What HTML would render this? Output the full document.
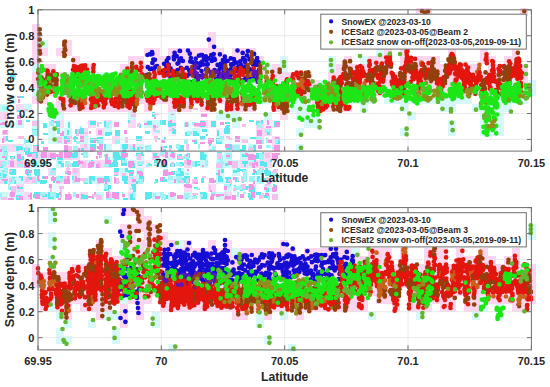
<!DOCTYPE html>
<html><head><meta charset="utf-8"><style>
html,body{margin:0;padding:0;background:#fff;}
svg{display:block;}
text{font-family:"Liberation Sans", sans-serif;font-weight:bold;font-size:11px;fill:#262626;}
</style></head><body>
<svg width="550" height="387" viewBox="0 0 550 387">
<defs><filter id="nb" x="0" y="0" width="1" height="1"><feGaussianBlur stdDeviation="0.6"/></filter><filter id="db" x="-2%" y="-5%" width="104%" height="110%"><feGaussianBlur stdDeviation="0.45"/></filter></defs>
<g filter="url(#nb)"><path d="M8 72h8v8h-8zM8 96h8v8h-8zM0 104h8v8h-8zM24 104h8v8h-8zM56 104h8v8h-8zM64 104h8v8h-8zM104 104h8v8h-8zM112 104h8v8h-8zM120 104h8v8h-8zM128 112h8v8h-8zM168 112h8v8h-8zM0 120h8v8h-8zM16 120h8v8h-8zM32 120h8v8h-8zM144 120h8v8h-8zM152 120h8v8h-8zM32 128h8v8h-8zM64 128h8v8h-8zM104 128h8v8h-8zM192 128h8v8h-8zM48 136h8v8h-8zM56 136h8v8h-8zM80 136h8v8h-8zM216 136h8v8h-8zM24 144h8v8h-8zM88 144h8v8h-8zM104 144h8v8h-8zM120 144h8v8h-8zM136 144h8v8h-8zM232 144h8v8h-8zM248 144h8v8h-8zM0 152h8v8h-8zM16 152h8v8h-8zM40 152h8v8h-8zM112 152h8v8h-8zM120 152h8v8h-8zM136 152h8v8h-8zM168 152h8v8h-8zM200 152h8v8h-8zM224 152h8v8h-8zM240 152h8v8h-8zM32 160h8v8h-8zM56 160h8v8h-8zM88 160h8v8h-8zM128 160h8v8h-8zM160 160h8v8h-8zM200 160h8v8h-8zM216 160h8v8h-8zM224 160h8v8h-8zM232 160h8v8h-8zM248 160h8v8h-8zM0 168h8v8h-8zM120 168h8v8h-8zM136 168h8v8h-8zM176 168h8v8h-8zM216 168h8v8h-8zM232 168h8v8h-8zM8 176h8v8h-8zM16 176h8v8h-8zM32 176h8v8h-8zM72 176h8v8h-8zM88 176h8v8h-8zM96 176h8v8h-8zM104 176h8v8h-8zM136 176h8v8h-8zM168 176h8v8h-8zM176 176h8v8h-8zM216 176h8v8h-8zM256 176h8v8h-8zM224 184h8v8h-8zM264 184h8v8h-8zM0 192h8v8h-8zM16 192h8v8h-8zM48 192h8v8h-8zM96 192h8v8h-8zM112 192h8v8h-8zM152 192h8v8h-8zM168 192h8v8h-8zM184 192h8v8h-8zM200 192h8v8h-8zM216 192h8v8h-8z" fill="#cdf8f9"/><path d="M16 104h8v8h-8zM0 112h8v8h-8zM56 120h8v8h-8zM88 120h8v8h-8zM104 120h8v8h-8zM128 120h8v8h-8zM168 120h8v8h-8zM200 120h8v8h-8zM256 120h8v8h-8zM48 128h8v8h-8zM80 128h8v8h-8zM96 128h8v8h-8zM256 128h8v8h-8zM264 128h8v8h-8zM64 136h8v8h-8zM112 136h8v8h-8zM256 136h8v8h-8zM272 136h8v8h-8zM0 144h8v8h-8zM8 144h8v8h-8zM16 144h8v8h-8zM80 144h8v8h-8zM128 144h8v8h-8zM272 144h8v8h-8zM32 152h8v8h-8zM48 152h8v8h-8zM64 152h8v8h-8zM72 152h8v8h-8zM152 152h8v8h-8zM264 152h8v8h-8zM0 160h8v8h-8zM8 160h8v8h-8zM16 160h8v8h-8zM24 160h8v8h-8zM80 160h8v8h-8zM96 160h8v8h-8zM104 160h8v8h-8zM184 160h8v8h-8zM240 160h8v8h-8zM256 160h8v8h-8zM264 160h8v8h-8zM48 168h8v8h-8zM72 168h8v8h-8zM0 176h8v8h-8zM24 176h8v8h-8zM56 176h8v8h-8zM128 176h8v8h-8zM16 184h8v8h-8zM184 184h8v8h-8zM208 184h8v8h-8zM248 184h8v8h-8zM24 192h8v8h-8zM40 192h8v8h-8zM80 192h8v8h-8zM128 192h8v8h-8zM224 192h8v8h-8z" fill="#f9d8f3"/><path d="M72 104h8v8h-8zM168 104h8v8h-8zM48 120h8v8h-8zM64 120h8v8h-8zM112 120h8v8h-8zM184 120h8v8h-8zM232 120h8v8h-8zM56 128h8v8h-8zM184 128h8v8h-8zM200 128h8v8h-8zM88 136h8v8h-8zM96 136h8v8h-8zM120 136h8v8h-8zM224 136h8v8h-8zM240 136h8v8h-8zM144 144h8v8h-8zM160 144h8v8h-8zM104 152h8v8h-8zM216 152h8v8h-8zM184 168h8v8h-8zM120 176h8v8h-8zM224 176h8v8h-8zM48 184h8v8h-8zM56 184h8v8h-8zM232 184h8v8h-8zM8 192h8v8h-8zM72 192h8v8h-8zM120 192h8v8h-8zM232 192h8v8h-8zM272 192h8v8h-8z" fill="#eafcfc"/><path d="M208 120h8v8h-8zM264 120h8v8h-8zM272 120h8v8h-8zM152 128h8v8h-8zM168 128h8v8h-8zM216 128h8v8h-8zM136 136h8v8h-8zM208 144h8v8h-8zM248 152h8v8h-8zM40 160h8v8h-8zM136 160h8v8h-8zM144 160h8v8h-8zM128 184h8v8h-8z" fill="#fcecf9"/><path d="M11 76h3v4h-3zM10 75h5v4h-5zM20 96h4v2h-4zM3 107h5v3h-5zM17 110h4v2h-4zM51 104h3v5h-3zM57 104h6v4h-6zM76 105h3v6h-3zM106 104h3v4h-3zM122 106h4v6h-4zM131 108h3v3h-3zM168 106h5v2h-5zM204 104h4v6h-4zM208 107h4v5h-4zM21 115h2v3h-2zM152 112h3v5h-3zM11 122h2v6h-2zM26 120h4v2h-4zM43 123h4v5h-4zM51 120h3v3h-3zM56 122h4v5h-4zM56 121h4v3h-4zM68 122h2v6h-2zM90 121h6v4h-6zM104 121h2v6h-2zM128 120h2v3h-2zM139 124h2v4h-2zM147 121h5v4h-5zM160 120h6v5h-6zM168 121h4v6h-4zM170 123h6v3h-6zM200 121h5v6h-5zM211 121h5v6h-5zM225 126h4v2h-4zM226 125h4v2h-4zM225 122h5v2h-5zM249 120h5v2h-5zM256 121h4v4h-4zM261 120h2v4h-2zM274 121h6v6h-6zM278 122h2v5h-2zM3 130h5v5h-5zM32 129h6v5h-6zM43 133h5v2h-5zM50 129h6v6h-6zM57 128h3v6h-3zM67 130h2v5h-2zM75 129h5v5h-5zM80 128h4v6h-4zM105 132h5v4h-5zM106 133h2v3h-2zM107 132h5v3h-5zM115 130h5v2h-5zM115 130h5v6h-5zM145 131h4v2h-4zM145 131h5v3h-5zM174 129h2v5h-2zM172 128h2v6h-2zM185 132h5v4h-5zM193 133h6v3h-6zM193 131h4v3h-4zM206 134h2v2h-2zM202 129h5v3h-5zM217 130h2v6h-2zM227 132h2v2h-2zM224 128h6v6h-6zM267 131h3v4h-3zM6 136h2v5h-2zM8 140h5v2h-5zM24 140h5v3h-5zM41 141h3v3h-3zM64 136h6v6h-6zM73 137h5v3h-5zM74 136h2v6h-2zM90 138h5v5h-5zM93 139h3v4h-3zM96 138h6v3h-6zM97 137h6v6h-6zM136 136h6v5h-6zM156 138h4v2h-4zM164 137h2v3h-2zM194 139h3v5h-3zM200 136h5v4h-5zM201 136h4v3h-4zM216 138h6v6h-6zM250 137h6v2h-6zM266 138h2v5h-2zM276 138h4v6h-4zM4 149h3v3h-3zM16 149h3v2h-3zM16 146h6v4h-6zM17 147h6v3h-6zM24 148h6v4h-6zM33 145h6v5h-6zM64 149h4v3h-4zM81 148h3v3h-3zM90 144h6v6h-6zM104 144h2v6h-2zM123 147h3v5h-3zM122 144h6v5h-6zM132 147h3v4h-3zM139 147h4v2h-4zM137 147h3v3h-3zM145 146h4v5h-4zM162 146h5v2h-5zM161 149h5v3h-5zM169 145h3v4h-3zM178 145h6v6h-6zM177 146h4v3h-4zM209 144h2v2h-2zM226 144h6v6h-6zM232 149h2v3h-2zM242 145h4v6h-4zM240 149h6v2h-6zM253 145h3v6h-3zM5 157h2v3h-2zM10 156h5v3h-5zM17 156h4v4h-4zM18 156h6v4h-6zM25 152h2v3h-2zM27 152h5v5h-5zM36 152h2v6h-2zM34 153h4v5h-4zM32 152h5v2h-5zM51 153h5v6h-5zM57 157h6v3h-6zM58 154h3v4h-3zM68 153h3v5h-3zM72 153h5v5h-5zM74 152h4v5h-4zM81 153h5v2h-5zM99 153h2v5h-2zM113 153h5v3h-5zM115 154h3v3h-3zM114 155h5v5h-5zM113 152h6v6h-6zM116 154h4v6h-4zM120 156h5v4h-5zM121 152h5v6h-5zM124 153h2v3h-2zM137 153h6v3h-6zM136 153h4v3h-4zM141 154h3v2h-3zM141 152h2v2h-2zM153 153h4v5h-4zM171 152h3v5h-3zM177 156h6v4h-6zM178 154h4v3h-4zM187 153h3v5h-3zM186 156h3v4h-3zM200 155h4v5h-4zM201 155h6v2h-6zM200 152h4v6h-4zM202 154h4v6h-4zM217 152h5v2h-5zM217 154h4v6h-4zM217 152h2v2h-2zM227 156h5v2h-5zM227 153h3v4h-3zM242 155h6v2h-6zM242 154h2v2h-2zM250 157h6v3h-6zM262 152h2v3h-2zM261 156h3v4h-3zM256 153h5v6h-5zM267 155h3v3h-3zM0 165h3v3h-3zM17 160h4v6h-4zM32 161h5v5h-5zM32 160h4v5h-4zM43 161h5v3h-5zM42 164h6v2h-6zM40 164h3v3h-3zM61 163h3v4h-3zM58 161h4v3h-4zM73 161h6v6h-6zM72 163h3v4h-3zM89 161h5v5h-5zM91 160h2v6h-2zM97 163h3v5h-3zM105 161h2v5h-2zM106 163h6v4h-6zM113 160h4v5h-4zM112 162h6v5h-6zM114 160h3v6h-3zM121 160h6v6h-6zM129 163h6v5h-6zM138 161h4v5h-4zM148 163h2v2h-2zM146 164h6v2h-6zM154 160h4v2h-4zM154 160h4v6h-4zM161 161h6v6h-6zM170 163h5v4h-5zM179 163h5v3h-5zM178 162h2v4h-2zM177 162h6v3h-6zM185 161h6v3h-6zM197 161h3v5h-3zM193 161h4v6h-4zM225 163h3v3h-3zM244 162h2v5h-2zM242 161h6v3h-6zM254 160h2v5h-2zM252 163h3v5h-3zM260 161h4v5h-4zM264 162h3v5h-3zM270 160h2v2h-2zM3 170h5v2h-5zM1 174h6v2h-6zM0 173h4v3h-4zM10 170h6v5h-6zM14 169h2v4h-2zM9 169h6v5h-6zM26 169h3v6h-3zM27 170h3v6h-3zM34 169h6v6h-6zM35 172h5v4h-5zM52 168h4v5h-4zM65 171h2v3h-2zM115 169h3v5h-3zM117 168h2v6h-2zM114 170h4v6h-4zM114 168h5v6h-5zM125 168h3v4h-3zM130 171h3v3h-3zM129 170h4v6h-4zM128 170h6v3h-6zM166 169h2v6h-2zM171 171h4v4h-4zM176 173h6v3h-6zM178 168h3v6h-3zM181 171h2v3h-2zM178 172h6v4h-6zM221 169h3v4h-3zM222 169h2v3h-2zM216 173h4v2h-4zM237 168h3v4h-3zM233 170h4v3h-4zM243 171h4v4h-4zM240 169h6v2h-6zM242 170h3v2h-3zM252 173h3v2h-3zM253 169h2v5h-2zM256 171h2v4h-2zM264 170h6v4h-6zM265 171h6v5h-6zM265 168h3v6h-3zM274 174h3v2h-3zM0 176h6v2h-6zM4 179h3v5h-3zM14 180h2v4h-2zM12 177h3v3h-3zM21 177h2v4h-2zM19 176h4v2h-4zM27 177h5v3h-5zM38 179h2v3h-2zM40 180h6v4h-6zM43 177h3v2h-3zM42 180h5v3h-5zM42 176h4v3h-4zM53 181h2v2h-2zM57 176h6v5h-6zM64 180h2v4h-2zM72 176h2v4h-2zM84 180h4v4h-4zM89 178h3v6h-3zM89 176h6v5h-6zM97 178h5v5h-5zM104 179h6v3h-6zM104 176h5v5h-5zM107 176h2v6h-2zM124 182h4v2h-4zM126 182h2v2h-2zM122 176h6v5h-6zM124 178h3v4h-3zM139 176h5v6h-5zM136 181h3v3h-3zM155 179h3v4h-3zM161 179h6v3h-6zM160 177h5v5h-5zM176 178h3v3h-3zM178 178h6v4h-6zM178 178h3v5h-3zM184 176h6v5h-6zM184 177h6v6h-6zM194 177h3v5h-3zM201 178h3v5h-3zM209 181h3v2h-3zM221 178h2v4h-2zM218 176h4v6h-4zM226 177h5v6h-5zM225 177h4v2h-4zM235 177h4v5h-4zM242 181h2v2h-2zM257 176h3v6h-3zM264 178h4v4h-4zM276 176h4v2h-4zM8 187h6v3h-6zM8 187h6v3h-6zM17 187h6v2h-6zM104 185h5v6h-5zM106 185h5v4h-5zM131 184h2v2h-2zM133 188h3v4h-3zM132 184h4v5h-4zM194 187h4v2h-4zM227 184h4v2h-4zM234 185h2v3h-2zM242 186h6v4h-6zM240 185h3v6h-3zM248 186h5v2h-5zM249 187h6v5h-6zM249 184h2v3h-2zM266 188h3v4h-3zM273 184h2v6h-2zM273 186h4v5h-4zM21 198h2v2h-2zM16 195h5v5h-5zM34 192h6v5h-6zM33 194h3v4h-3zM42 194h5v3h-5zM48 194h6v5h-6zM48 192h4v4h-4zM56 193h3v5h-3zM65 197h6v2h-6zM81 194h3v5h-3zM82 195h6v4h-6zM92 194h2v5h-2zM96 197h2v2h-2zM113 192h6v4h-6zM123 198h5v2h-5zM130 194h5v6h-5zM130 195h5v2h-5zM132 193h3v6h-3zM145 196h6v3h-6zM145 192h6v5h-6zM149 192h3v6h-3zM145 194h2v6h-2zM166 195h2v4h-2zM185 195h3v4h-3zM193 195h3v4h-3zM192 197h5v2h-5zM200 192h6v5h-6zM201 196h6v3h-6zM205 193h2v3h-2zM248 193h3v5h-3zM249 195h4v5h-4zM256 192h5v3h-5zM264 195h5v3h-5z" fill="#5ae8ef"/><path d="M14 76h2v2h-2zM10 100h4v4h-4zM2 106h4v4h-4zM48 107h3v3h-3zM57 108h6v2h-6zM67 105h3v4h-3zM74 105h6v6h-6zM20 113h2v5h-2zM265 113h4v5h-4zM264 115h5v2h-5zM266 113h4v3h-4zM10 122h4v6h-4zM18 120h4v5h-4zM18 121h2v3h-2zM49 121h5v5h-5zM80 126h2v2h-2zM99 122h3v2h-3zM109 121h2v3h-2zM106 122h3v6h-3zM184 123h5v4h-5zM192 122h5v3h-5zM257 123h5v5h-5zM32 130h6v6h-6zM98 133h3v2h-3zM156 130h4v3h-4zM187 131h5v4h-5zM267 129h4v3h-4zM265 129h2v4h-2zM24 138h2v6h-2zM76 141h4v3h-4zM98 139h5v5h-5zM115 139h5v5h-5zM184 139h4v5h-4zM217 139h5v3h-5zM220 136h4v4h-4zM244 139h2v3h-2zM256 137h5v5h-5zM259 139h5v5h-5zM266 139h4v4h-4zM275 137h3v6h-3zM1 146h6v5h-6zM13 145h2v2h-2zM73 146h5v6h-5zM130 146h3v5h-3zM147 145h4v5h-4zM145 147h6v5h-6zM176 144h4v5h-4zM198 144h2v5h-2zM209 149h5v2h-5zM212 146h4v5h-4zM234 145h6v6h-6zM249 146h3v4h-3zM266 145h5v3h-5zM272 147h2v2h-2zM3 152h5v5h-5zM66 153h4v5h-4zM83 152h5v6h-5zM83 154h2v4h-2zM105 157h5v3h-5zM104 154h2v3h-2zM155 156h5v3h-5zM160 152h5v4h-5zM177 154h2v2h-2zM184 154h5v5h-5zM217 155h6v5h-6zM226 153h6v6h-6zM259 153h3v3h-3zM259 154h5v6h-5zM265 154h2v3h-2zM5 162h2v3h-2zM3 161h3v6h-3zM0 161h6v4h-6zM8 160h6v4h-6zM17 161h3v5h-3zM17 161h2v4h-2zM17 162h6v5h-6zM26 161h4v4h-4zM40 162h4v5h-4zM65 163h6v4h-6zM70 163h2v4h-2zM65 161h5v6h-5zM97 164h3v3h-3zM104 164h5v3h-5zM122 160h5v3h-5zM137 161h6v4h-6zM140 161h4v3h-4zM146 164h3v3h-3zM154 163h3v2h-3zM162 161h2v5h-2zM176 162h4v4h-4zM179 164h3v3h-3zM187 161h3v5h-3zM192 161h3v6h-3zM197 162h3v2h-3zM205 160h3v6h-3zM218 161h6v4h-6zM221 165h2v3h-2zM220 160h3v3h-3zM1 170h2v6h-2zM4 168h4v5h-4zM29 170h2v6h-2zM50 170h6v5h-6zM74 173h2v2h-2zM140 170h2v4h-2zM164 169h3v4h-3zM168 174h3v2h-3zM176 171h4v3h-4zM185 173h4v2h-4zM243 170h4v6h-4zM257 170h6v5h-6zM257 169h3v6h-3zM259 168h4v6h-4zM272 172h6v3h-6zM0 176h3v4h-3zM10 178h5v4h-5zM9 179h4v5h-4zM35 179h2v5h-2zM56 176h4v6h-4zM56 179h4v2h-4zM59 178h5v4h-5zM76 178h4v2h-4zM83 178h5v5h-5zM83 178h4v4h-4zM91 180h2v2h-2zM99 177h4v6h-4zM114 178h3v6h-3zM132 179h2v4h-2zM130 177h4v2h-4zM138 179h5v5h-5zM154 181h2v3h-2zM168 176h5v4h-5zM176 176h6v5h-6zM186 179h3v5h-3zM194 181h4v3h-4zM210 180h2v2h-2zM241 176h6v6h-6zM243 177h4v5h-4zM249 176h6v6h-6zM259 178h2v6h-2zM266 177h6v6h-6zM273 180h5v2h-5zM8 184h2v6h-2zM18 190h2v2h-2zM104 184h4v5h-4zM107 190h3v2h-3zM130 188h2v2h-2zM196 188h4v2h-4zM224 184h6v4h-6zM234 186h6v4h-6zM240 188h4v2h-4zM240 185h5v4h-5zM0 193h2v5h-2zM11 192h2v6h-2zM10 192h6v2h-6zM19 197h2v3h-2zM40 192h5v4h-5zM50 192h6v5h-6zM51 192h3v4h-3zM68 194h4v2h-4zM73 192h3v5h-3zM96 194h3v3h-3zM106 194h6v6h-6zM122 192h2v4h-2zM133 192h2v6h-2zM153 193h3v4h-3zM164 194h2v6h-2zM160 192h4v6h-4zM161 195h2v5h-2zM161 196h2v2h-2zM181 195h3v4h-3zM184 193h6v5h-6zM185 193h5v2h-5zM192 196h5v3h-5zM200 194h3v3h-3zM213 192h3v2h-3zM211 192h5v4h-5zM225 194h2v6h-2zM237 192h2v5h-2zM243 192h3v2h-3zM250 192h6v3h-6zM266 192h2v4h-2zM268 195h2v5h-2zM275 196h3v3h-3z" fill="#a0f2f5"/><path d="M9 100h5v3h-5zM10 97h2v2h-2zM24 109h4v2h-4zM65 105h2v5h-2zM113 106h4v6h-4zM193 108h5v2h-5zM4 114h2v5h-2zM131 112h5v5h-5zM153 113h6v2h-6zM5 120h3v6h-3zM32 121h5v5h-5zM97 122h2v5h-2zM137 123h3v4h-3zM137 125h3v2h-3zM144 123h4v2h-4zM154 126h4v2h-4zM194 124h6v3h-6zM200 122h6v4h-6zM242 124h4v3h-4zM2 131h6v4h-6zM50 130h5v2h-5zM77 129h2v5h-2zM76 134h3v2h-3zM84 132h4v2h-4zM153 128h3v4h-3zM169 129h4v2h-4zM3 136h3v6h-3zM18 136h6v3h-6zM48 137h2v3h-2zM57 137h5v6h-5zM67 136h5v2h-5zM125 137h3v6h-3zM155 136h2v6h-2zM154 136h4v4h-4zM226 136h4v2h-4zM228 138h4v2h-4zM242 139h6v4h-6zM25 147h3v4h-3zM33 146h6v6h-6zM67 146h5v4h-5zM84 144h3v4h-3zM139 146h2v3h-2zM162 146h2v5h-2zM169 148h2v3h-2zM187 146h2v3h-2zM186 144h3v6h-3zM232 145h2v6h-2zM248 148h6v2h-6zM11 157h3v3h-3zM18 156h4v3h-4zM33 153h3v5h-3zM32 155h4v5h-4zM42 152h4v6h-4zM40 154h3v3h-3zM49 153h6v5h-6zM48 153h5v5h-5zM100 153h2v5h-2zM137 154h4v6h-4zM162 154h4v3h-4zM178 156h6v3h-6zM186 154h2v3h-2zM217 153h4v6h-4zM249 158h4v2h-4zM265 153h5v5h-5zM0 161h2v6h-2zM10 160h3v2h-3zM18 161h5v3h-5zM26 161h2v2h-2zM67 164h2v4h-2zM82 162h4v6h-4zM89 161h6v3h-6zM96 164h5v3h-5zM97 162h4v3h-4zM171 162h3v5h-3zM184 160h2v4h-2zM185 160h3v4h-3zM216 163h6v5h-6zM232 162h6v6h-6zM232 161h6v6h-6zM249 162h6v4h-6zM256 163h2v4h-2zM9 170h3v2h-3zM51 171h2v2h-2zM66 168h4v5h-4zM73 168h5v5h-5zM114 172h5v3h-5zM122 173h4v3h-4zM262 168h2v2h-2zM273 169h5v2h-5zM272 171h5v2h-5zM9 178h3v4h-3zM25 178h4v4h-4zM32 177h4v6h-4zM64 176h6v6h-6zM73 177h2v6h-2zM80 178h6v3h-6zM100 178h4v5h-4zM97 181h3v3h-3zM114 178h5v6h-5zM117 182h2v2h-2zM115 181h5v2h-5zM179 180h5v3h-5zM187 178h2v6h-2zM192 179h6v5h-6zM202 176h4v2h-4zM230 180h2v4h-2zM228 179h3v3h-3zM237 177h2v4h-2zM241 179h3v3h-3zM266 178h5v3h-5zM11 186h5v6h-5zM50 187h2v5h-2zM60 186h2v6h-2zM59 186h5v2h-5zM59 187h5v2h-5zM209 185h2v5h-2zM233 188h3v3h-3zM241 184h5v5h-5zM265 184h5v2h-5zM1 197h6v3h-6zM9 193h6v4h-6zM18 196h3v2h-3zM30 196h2v4h-2zM60 192h2v6h-2zM68 192h2v3h-2zM92 194h4v3h-4zM97 197h3v3h-3zM96 195h6v5h-6zM106 195h5v3h-5zM109 192h2v4h-2zM192 193h6v2h-6zM224 197h6v3h-6zM262 193h2v5h-2zM259 195h3v4h-3zM272 194h6v6h-6z" fill="#f6c0ee"/><path d="M17 96h3v2h-3zM18 99h2v4h-2zM56 109h6v3h-6zM80 109h5v3h-5zM130 105h2v3h-2zM130 108h6v3h-6zM172 106h2v4h-2zM17 115h4v4h-4zM154 117h2v2h-2zM171 113h3v2h-3zM201 113h6v4h-6zM2 122h4v2h-4zM0 123h5v2h-5zM18 120h4v5h-4zM54 121h2v2h-2zM114 122h5v5h-5zM144 123h4v2h-4zM153 125h3v3h-3zM170 120h2v3h-2zM185 122h3v5h-3zM194 123h6v3h-6zM200 122h6v4h-6zM220 122h4v3h-4zM234 122h6v2h-6zM266 126h5v2h-5zM267 120h2v5h-2zM275 122h4v5h-4zM3 130h4v4h-4zM62 131h2v2h-2zM60 133h4v3h-4zM89 131h2v3h-2zM98 130h4v5h-4zM124 130h3v4h-3zM257 130h5v6h-5zM2 138h2v5h-2zM64 139h3v5h-3zM80 136h4v6h-4zM94 138h2v5h-2zM161 140h4v3h-4zM192 140h4v2h-4zM200 142h5v2h-5zM209 138h5v4h-5zM208 138h4v6h-4zM235 136h5v6h-5zM256 140h6v4h-6zM268 139h4v4h-4zM275 137h4v2h-4zM0 149h2v3h-2zM43 147h5v4h-5zM64 145h4v6h-4zM78 148h2v4h-2zM90 147h3v5h-3zM93 149h2v2h-2zM97 146h3v3h-3zM99 144h4v6h-4zM122 150h5v2h-5zM133 144h2v4h-2zM225 144h5v4h-5zM258 145h4v4h-4zM274 145h6v6h-6zM2 156h3v2h-3zM17 154h4v5h-4zM28 154h3v3h-3zM41 154h5v4h-5zM41 152h6v6h-6zM50 153h5v5h-5zM59 152h4v6h-4zM56 154h5v3h-5zM64 152h6v6h-6zM64 154h6v4h-6zM69 152h3v5h-3zM97 152h5v3h-5zM96 156h2v3h-2zM105 154h3v6h-3zM122 153h6v4h-6zM121 156h5v2h-5zM153 156h6v2h-6zM165 152h3v6h-3zM172 153h3v5h-3zM170 154h3v3h-3zM186 154h2v2h-2zM226 155h4v2h-4zM245 153h3v3h-3zM251 155h5v5h-5zM248 154h6v6h-6zM272 153h6v6h-6zM277 153h3v2h-3zM10 161h4v6h-4zM24 162h4v6h-4zM28 162h2v6h-2zM78 160h2v5h-2zM80 161h3v3h-3zM89 162h5v5h-5zM88 163h4v5h-4zM96 164h3v4h-3zM106 160h5v2h-5zM105 160h6v4h-6zM130 162h2v6h-2zM128 161h6v6h-6zM162 160h5v5h-5zM187 160h4v5h-4zM202 165h2v2h-2zM228 161h4v4h-4zM252 163h3v5h-3zM256 162h2v4h-2zM29 170h3v3h-3zM25 170h3v4h-3zM67 171h4v4h-4zM130 172h4v2h-4zM137 171h5v3h-5zM139 172h4v4h-4zM163 172h5v4h-5zM163 170h5v5h-5zM168 172h6v3h-6zM187 169h2v2h-2zM218 170h2v6h-2zM254 170h2v3h-2zM2 179h6v2h-6zM37 176h2v5h-2zM43 176h5v3h-5zM51 177h5v4h-5zM52 176h2v5h-2zM56 181h4v2h-4zM64 179h4v5h-4zM66 179h4v5h-4zM67 176h2v5h-2zM75 176h2v6h-2zM77 178h3v4h-3zM98 178h6v5h-6zM105 179h2v5h-2zM114 177h2v6h-2zM132 179h4v3h-4zM160 177h3v4h-3zM174 179h2v4h-2zM194 182h4v2h-4zM212 181h3v2h-3zM209 178h5v5h-5zM210 180h6v3h-6zM233 177h3v3h-3zM253 181h2v3h-2zM267 182h4v2h-4zM17 186h2v2h-2zM49 184h3v4h-3zM186 185h6v3h-6zM185 184h6v3h-6zM184 184h2v3h-2zM210 190h2v2h-2zM224 186h3v2h-3zM224 186h3v4h-3zM249 185h5v5h-5zM250 184h3v4h-3zM264 187h3v3h-3zM275 185h2v6h-2zM272 187h4v5h-4zM8 198h6v2h-6zM10 192h5v5h-5zM19 196h4v4h-4zM28 195h3v2h-3zM30 193h2v6h-2zM35 194h5v5h-5zM58 198h3v2h-3zM59 192h2v3h-2zM69 196h3v3h-3zM65 194h6v6h-6zM76 194h3v4h-3zM88 196h5v2h-5zM94 192h2v2h-2zM106 192h3v6h-3zM114 193h5v6h-5zM112 192h3v6h-3zM122 194h3v3h-3zM155 196h5v3h-5zM174 193h2v3h-2zM170 192h4v5h-4zM177 195h6v4h-6zM210 196h4v4h-4zM211 194h4v2h-4zM220 194h4v2h-4zM216 194h4v3h-4zM225 196h6v3h-6zM232 195h4v5h-4zM240 194h4v4h-4zM251 192h4v6h-4zM265 193h4v3h-4z" fill="#f096e5"/></g>
<path d="M32 24h8v8h-8zM32 32h8v8h-8zM32 40h8v8h-8zM32 48h8v8h-8zM40 48h8v8h-8zM32 56h8v8h-8zM40 72h8v8h-8zM32 72h8v8h-8zM40 96h8v8h-8zM32 96h8v8h-8zM40 88h8v8h-8zM40 80h8v8h-8zM32 80h8v8h-8zM56 80h8v8h-8zM48 72h8v8h-8zM56 72h8v8h-8zM48 80h8v8h-8zM48 88h8v8h-8zM48 64h8v8h-8zM40 64h8v8h-8zM64 40h8v8h-8zM64 48h8v8h-8zM56 48h8v8h-8zM72 56h8v8h-8zM80 64h8v8h-8zM72 64h8v8h-8zM80 72h8v8h-8zM72 72h8v8h-8zM88 64h8v8h-8zM56 96h8v8h-8zM56 104h8v8h-8zM64 96h8v8h-8zM64 104h8v8h-8zM72 96h8v8h-8zM80 88h8v8h-8zM80 96h8v8h-8zM72 104h8v8h-8zM80 104h8v8h-8zM88 96h8v8h-8zM88 104h8v8h-8zM96 96h8v8h-8zM96 104h8v8h-8zM104 96h8v8h-8zM104 104h8v8h-8zM112 104h8v8h-8zM112 96h8v8h-8zM120 96h8v8h-8zM120 104h8v8h-8zM128 96h8v8h-8zM120 64h8v8h-8zM128 72h8v8h-8zM128 56h8v8h-8zM128 64h8v8h-8zM136 64h8v8h-8zM136 72h8v8h-8zM144 72h8v8h-8zM152 72h8v8h-8zM152 64h8v8h-8zM160 64h8v8h-8zM160 72h8v8h-8zM168 64h8v8h-8zM168 72h8v8h-8zM176 72h8v8h-8zM176 64h8v8h-8zM184 72h8v8h-8zM192 64h8v8h-8zM184 64h8v8h-8zM192 72h8v8h-8zM200 72h8v8h-8zM200 64h8v8h-8zM208 64h8v8h-8zM208 72h8v8h-8zM216 64h8v8h-8zM216 72h8v8h-8zM224 64h8v8h-8zM224 72h8v8h-8zM232 64h8v8h-8zM232 72h8v8h-8zM240 64h8v8h-8zM240 72h8v8h-8zM240 80h8v8h-8zM248 72h8v8h-8zM248 64h8v8h-8zM256 72h8v8h-8zM256 80h8v8h-8zM256 64h8v8h-8zM136 56h8v8h-8zM248 48h8v8h-8zM248 56h8v8h-8zM128 88h8v8h-8zM128 104h8v8h-8zM136 96h8v8h-8zM144 96h8v8h-8zM144 104h8v8h-8zM152 96h8v8h-8zM160 88h8v8h-8zM160 96h8v8h-8zM168 96h8v8h-8zM168 104h8v8h-8zM176 96h8v8h-8zM176 104h8v8h-8zM184 96h8v8h-8zM184 104h8v8h-8zM192 96h8v8h-8zM200 96h8v8h-8zM200 104h8v8h-8zM208 96h8v8h-8zM208 104h8v8h-8zM216 96h8v8h-8zM224 96h8v8h-8zM224 104h8v8h-8zM232 96h8v8h-8zM232 104h8v8h-8zM240 96h8v8h-8zM240 104h8v8h-8zM248 96h8v8h-8zM248 104h8v8h-8zM272 96h8v8h-8zM272 104h8v8h-8zM280 96h8v8h-8zM280 104h8v8h-8zM280 112h8v8h-8zM304 80h8v8h-8zM296 80h8v8h-8zM296 88h8v8h-8zM304 72h8v8h-8zM304 88h8v8h-8zM296 72h8v8h-8zM312 80h8v8h-8zM312 96h8v8h-8zM312 104h8v8h-8zM320 88h8v8h-8zM320 96h8v8h-8zM320 104h8v8h-8zM328 72h8v8h-8zM328 80h8v8h-8zM328 96h8v8h-8zM328 104h8v8h-8zM336 72h8v8h-8zM336 80h8v8h-8zM336 88h8v8h-8zM336 96h8v8h-8zM336 104h8v8h-8zM264 72h8v8h-8zM264 80h8v8h-8zM264 88h8v8h-8zM272 64h8v8h-8zM272 72h8v8h-8zM272 80h8v8h-8zM280 72h8v8h-8zM288 72h8v8h-8zM288 80h8v8h-8zM336 64h8v8h-8zM344 64h8v8h-8zM344 56h8v8h-8zM344 72h8v8h-8zM344 80h8v8h-8zM352 88h8v8h-8zM352 80h8v8h-8zM352 72h8v8h-8zM352 64h8v8h-8zM360 72h8v8h-8zM360 64h8v8h-8zM360 80h8v8h-8zM368 72h8v8h-8zM368 64h8v8h-8zM368 56h8v8h-8zM368 80h8v8h-8zM376 56h8v8h-8zM376 64h8v8h-8zM376 72h8v8h-8zM376 80h8v8h-8zM376 88h8v8h-8zM384 72h8v8h-8zM384 64h8v8h-8zM384 56h8v8h-8zM384 48h8v8h-8zM384 80h8v8h-8zM392 80h8v8h-8zM392 72h8v8h-8zM392 88h8v8h-8zM400 72h8v8h-8zM400 64h8v8h-8zM400 80h8v8h-8zM400 88h8v8h-8zM400 56h8v8h-8zM400 48h8v8h-8zM408 64h8v8h-8zM408 56h8v8h-8zM408 72h8v8h-8zM416 64h8v8h-8zM416 72h8v8h-8zM416 88h8v8h-8zM416 80h8v8h-8zM416 56h8v8h-8zM424 64h8v8h-8zM424 72h8v8h-8zM424 56h8v8h-8zM424 80h8v8h-8zM432 72h8v8h-8zM432 64h8v8h-8zM432 56h8v8h-8zM432 80h8v8h-8zM440 88h8v8h-8zM440 80h8v8h-8zM440 72h8v8h-8zM440 64h8v8h-8zM448 64h8v8h-8zM448 56h8v8h-8zM448 72h8v8h-8zM448 48h8v8h-8zM448 80h8v8h-8zM456 72h8v8h-8zM456 64h8v8h-8zM456 80h8v8h-8zM464 80h8v8h-8zM464 88h8v8h-8zM464 72h8v8h-8zM464 64h8v8h-8zM472 80h8v8h-8zM472 72h8v8h-8zM472 88h8v8h-8zM472 64h8v8h-8zM480 72h8v8h-8zM480 80h8v8h-8zM480 88h8v8h-8zM480 56h8v8h-8zM480 48h8v8h-8zM488 80h8v8h-8zM488 72h8v8h-8zM488 88h8v8h-8zM488 64h8v8h-8zM488 56h8v8h-8zM496 88h8v8h-8zM496 80h8v8h-8zM496 64h8v8h-8zM496 72h8v8h-8zM504 72h8v8h-8zM504 64h8v8h-8zM504 80h8v8h-8zM504 56h8v8h-8zM512 72h8v8h-8zM512 64h8v8h-8zM512 56h8v8h-8zM520 72h8v8h-8zM520 64h8v8h-8zM520 80h8v8h-8zM344 104h8v8h-8zM416 8h8v8h-8zM424 8h8v8h-8zM520 8h8v8h-8zM512 48h8v8h-8zM176 56h8v8h-8zM144 64h8v8h-8zM152 48h8v8h-8zM144 48h8v8h-8zM160 56h8v8h-8zM152 56h8v8h-8zM168 56h8v8h-8zM168 48h8v8h-8zM200 56h8v8h-8zM184 56h8v8h-8zM240 56h8v8h-8zM240 48h8v8h-8zM224 56h8v8h-8zM216 56h8v8h-8zM208 56h8v8h-8zM208 48h8v8h-8zM232 56h8v8h-8zM216 48h8v8h-8zM200 48h8v8h-8zM256 56h8v8h-8zM192 56h8v8h-8zM192 48h8v8h-8zM184 48h8v8h-8zM208 32h8v8h-8zM208 40h8v8h-8zM176 48h8v8h-8zM232 48h8v8h-8z" fill="#fcd6ef"/><path d="M56 88h8v8h-8zM64 88h8v8h-8zM72 88h8v8h-8zM88 88h8v8h-8zM96 88h8v8h-8zM104 88h8v8h-8zM112 88h8v8h-8zM120 88h8v8h-8zM120 72h8v8h-8zM120 80h8v8h-8zM144 80h8v8h-8zM152 80h8v8h-8zM184 80h8v8h-8zM208 80h8v8h-8zM216 80h8v8h-8zM232 80h8v8h-8zM144 88h8v8h-8zM152 88h8v8h-8zM168 88h8v8h-8zM176 88h8v8h-8zM184 88h8v8h-8zM192 88h8v8h-8zM208 88h8v8h-8zM216 88h8v8h-8zM224 88h8v8h-8zM232 88h8v8h-8zM240 88h8v8h-8zM248 88h8v8h-8zM272 88h8v8h-8zM312 88h8v8h-8zM320 80h8v8h-8zM328 88h8v8h-8zM280 80h8v8h-8zM288 88h8v8h-8zM344 88h8v8h-8zM408 80h8v8h-8zM432 88h8v8h-8zM520 88h8v8h-8zM344 96h8v8h-8zM192 80h8v8h-8zM32 64h8v8h-8zM32 88h8v8h-8zM48 104h8v8h-8zM56 112h8v8h-8zM48 112h8v8h-8zM48 128h8v8h-8zM48 136h8v8h-8zM40 40h8v8h-8zM80 80h8v8h-8zM88 80h8v8h-8zM64 80h8v8h-8zM104 80h8v8h-8zM104 72h8v8h-8zM136 80h8v8h-8zM128 80h8v8h-8zM112 80h8v8h-8zM72 80h8v8h-8zM96 80h8v8h-8zM112 72h8v8h-8zM64 72h8v8h-8zM136 88h8v8h-8zM88 72h8v8h-8zM96 72h8v8h-8zM160 80h8v8h-8zM200 80h8v8h-8zM224 80h8v8h-8zM200 88h8v8h-8zM168 80h8v8h-8zM176 80h8v8h-8zM256 96h8v8h-8zM248 80h8v8h-8zM256 88h8v8h-8zM280 88h8v8h-8zM264 96h8v8h-8zM288 96h8v8h-8zM288 104h8v8h-8zM296 96h8v8h-8zM304 96h8v8h-8zM264 64h8v8h-8zM312 112h8v8h-8zM304 112h8v8h-8zM304 104h8v8h-8zM296 104h8v8h-8zM296 112h8v8h-8zM360 96h8v8h-8zM360 88h8v8h-8zM368 88h8v8h-8zM352 96h8v8h-8zM368 96h8v8h-8zM392 96h8v8h-8zM384 88h8v8h-8zM400 96h8v8h-8zM384 96h8v8h-8zM424 88h8v8h-8zM416 96h8v8h-8zM408 88h8v8h-8zM424 96h8v8h-8zM408 96h8v8h-8zM440 96h8v8h-8zM432 96h8v8h-8zM456 88h8v8h-8zM456 96h8v8h-8zM448 88h8v8h-8zM448 96h8v8h-8zM464 96h8v8h-8zM496 96h8v8h-8zM488 96h8v8h-8zM480 96h8v8h-8zM488 104h8v8h-8zM480 104h8v8h-8zM496 104h8v8h-8zM480 112h8v8h-8zM480 128h8v8h-8zM488 112h8v8h-8zM488 128h8v8h-8zM488 120h8v8h-8zM496 120h8v8h-8zM480 120h8v8h-8zM496 128h8v8h-8zM496 112h8v8h-8zM504 88h8v8h-8zM512 88h8v8h-8zM504 96h8v8h-8zM512 96h8v8h-8zM512 80h8v8h-8zM520 96h8v8h-8zM528 88h8v8h-8zM528 80h8v8h-8zM232 112h8v8h-8zM264 112h8v8h-8zM296 128h8v8h-8zM296 144h8v8h-8zM304 120h8v8h-8zM312 120h8v8h-8zM280 56h8v8h-8zM280 64h8v8h-8zM328 56h8v8h-8zM328 64h8v8h-8zM376 48h8v8h-8zM360 56h8v8h-8zM360 104h8v8h-8zM400 104h8v8h-8zM408 112h8v8h-8zM400 128h8v8h-8zM440 104h8v8h-8zM448 104h8v8h-8zM448 120h8v8h-8zM448 128h8v8h-8zM472 104h8v8h-8zM504 104h8v8h-8zM216 112h8v8h-8zM224 112h8v8h-8zM232 120h8v8h-8z" fill="#d6f8f8"/>
<line x1="38.0" y1="139.4" x2="531.4" y2="139.4" stroke="#e4e4e4" stroke-width="0.8"/>
<line x1="38.0" y1="113.5" x2="531.4" y2="113.5" stroke="#e4e4e4" stroke-width="0.8"/>
<line x1="38.0" y1="87.6" x2="531.4" y2="87.6" stroke="#e4e4e4" stroke-width="0.8"/>
<line x1="38.0" y1="61.6" x2="531.4" y2="61.6" stroke="#e4e4e4" stroke-width="0.8"/>
<line x1="38.0" y1="35.7" x2="531.4" y2="35.7" stroke="#e4e4e4" stroke-width="0.8"/>
<line x1="161.3" y1="9.8" x2="161.3" y2="151.1" stroke="#e4e4e4" stroke-width="0.8"/>
<line x1="284.7" y1="9.8" x2="284.7" y2="151.1" stroke="#e4e4e4" stroke-width="0.8"/>
<line x1="408.0" y1="9.8" x2="408.0" y2="151.1" stroke="#e4e4e4" stroke-width="0.8"/>
<g fill="none" stroke-width="4.7" stroke-linecap="round" filter="url(#db)"><path d="M171.3 70.7h0M172.8 77.0h0M170.7 77.8h0M180.8 58.8h0M157.0 66.1h0M180.3 58.8h0M147.8 67.2h0M177.5 70.2h0M164.6 75.4h0M149.9 69.1h0M148.2 74.7h0M176.8 76.7h0M152.4 53.8h0M164.6 72.6h0M146.7 75.0h0M150.7 54.3h0M178.5 62.8h0M166.8 60.7h0M151.6 68.6h0M170.6 68.5h0M169.2 67.6h0M168.7 64.6h0M166.5 67.1h0M155.4 66.9h0M176.7 56.2h0M179.4 60.0h0M168.7 71.4h0M182.7 69.3h0M160.3 71.0h0M164.1 63.8h0M153.3 59.5h0M168.4 58.2h0M173.8 56.7h0M182.9 61.0h0M174.6 52.8h0M181.0 58.3h0M175.9 72.0h0M180.9 67.9h0M177.5 63.6h0M163.3 71.1h0M154.9 59.8h0M177.9 75.9h0M152.4 62.9h0M174.0 59.3h0M153.7 69.7h0M200.7 62.9h0M222.9 67.7h0M190.2 61.5h0M220.3 81.3h0M244.8 59.9h0M202.3 77.1h0M238.8 80.4h0M243.5 81.0h0M242.7 52.9h0M194.5 75.7h0M195.8 77.0h0M258.7 77.9h0M249.4 59.4h0M238.5 66.5h0M224.8 56.7h0M253.9 79.3h0M217.6 64.9h0M223.9 62.3h0M234.7 67.9h0M207.7 69.3h0M243.1 58.2h0M248.3 68.3h0M246.6 68.2h0M206.5 60.3h0M205.9 76.1h0M200.3 76.1h0M235.2 70.7h0M223.0 63.9h0M244.3 67.7h0M214.4 58.5h0M245.5 66.3h0M238.4 75.8h0M211.3 55.1h0M219.7 76.6h0M241.5 80.7h0M233.8 63.4h0M231.1 79.5h0M194.8 64.9h0M231.1 69.0h0M215.8 79.4h0M254.9 61.3h0M259.5 75.0h0M254.1 53.9h0M219.7 69.0h0M201.5 71.1h0M236.7 62.6h0M224.0 71.2h0M208.1 70.7h0M219.4 75.4h0M245.7 78.1h0M196.0 80.8h0M225.0 62.5h0M247.0 55.5h0M219.9 54.3h0M202.1 55.2h0M257.8 65.0h0M190.2 82.2h0M223.9 76.0h0M230.7 74.9h0M186.9 67.9h0M200.7 55.1h0M204.0 58.6h0M225.6 69.0h0M250.3 75.8h0M230.8 58.4h0M208.4 58.4h0M214.6 70.0h0M257.8 77.9h0M236.8 70.7h0M233.8 70.3h0M239.3 71.5h0M214.9 59.8h0M219.5 77.3h0M198.3 67.7h0M250.6 69.6h0M220.8 63.8h0M255.1 78.5h0M189.3 74.1h0M258.1 79.9h0M221.5 66.6h0M187.2 75.8h0M205.8 56.4h0M231.8 66.3h0M244.8 68.6h0M227.5 61.0h0M249.2 73.2h0M200.5 65.2h0M250.4 58.5h0M189.3 70.4h0M206.2 69.4h0M222.8 76.1h0M205.2 58.4h0M240.3 61.4h0M207.7 64.2h0M228.2 74.2h0M198.2 81.5h0M259.5 75.2h0M207.2 64.7h0M257.1 62.6h0M192.5 62.1h0M254.8 64.9h0M208.2 58.5h0M252.3 76.0h0M202.2 61.6h0M218.5 76.0h0M195.8 58.6h0M257.1 58.2h0M237.1 71.0h0M231.2 64.4h0M199.0 55.6h0M203.7 64.5h0M204.5 58.7h0M214.1 72.7h0M244.7 79.5h0M211.8 61.0h0M241.1 65.0h0M190.9 58.0h0M246.6 72.0h0M241.7 71.7h0M212.3 59.7h0M222.9 60.1h0M223.4 67.3h0M247.9 51.1h0M250.3 78.4h0M213.7 54.0h0M242.4 72.4h0M218.3 71.5h0M225.4 60.4h0M251.8 62.3h0M238.3 78.5h0M252.8 64.3h0M233.9 59.1h0M208.5 80.7h0M256.7 72.5h0M196.5 63.0h0M227.9 70.6h0M259.1 63.6h0M189.8 53.7h0M245.1 62.1h0M188.0 50.5h0M208.8 39.6h0M214.1 46.8h0M180.0 51.0h0M179.7 50.9h0M152.0 52.0h0M147.5 55.0h0M237.5 50.5h0M150.0 54.0h0M258.5 62.0h0M259.0 70.0h0M259.5 78.0h0" stroke="#1408d2"/><path d="M39.7 29.4h0M39.8 34.1h0M39.7 39.7h0M39.8 45.5h0M39.7 50.8h0M40.1 53.6h0M39.3 60.3h0M43.5 79.9h0M38.3 72.8h0M41.8 98.1h0" stroke="#93400e"/><path d="M39.2 99.4h0" stroke="#e3140c"/><path d="M41.4 77.3h0M42.0 97.7h0M44.9 88.2h0M38.1 79.1h0M41.1 90.5h0M39.7 78.7h0M44.2 86.3h0M43.0 97.3h0M41.5 89.2h0M42.4 81.1h0M41.0 101.3h0" stroke="#93400e"/><path d="M39.8 84.1h0" stroke="#e3140c"/><path d="M47.6 74.7h0M47.1 94.6h0M56.4 86.9h0M49.6 74.9h0M56.6 79.9h0M47.6 81.8h0" stroke="#93400e"/><path d="M50.8 82.2h0M50.7 80.2h0" stroke="#8f8f1c"/><path d="M53.6 77.9h0M53.8 86.7h0" stroke="#93400e"/><path d="M50.1 92.0h0" stroke="#e3140c"/><path d="M56.5 80.9h0M56.4 74.5h0M50.9 75.5h0M50.5 85.7h0M47.3 77.5h0M47.7 84.5h0M47.9 77.0h0M53.7 79.9h0M50.8 74.8h0M47.9 78.3h0" stroke="#93400e"/><path d="M53.3 71.4h0M47.7 71.2h0M53.7 91.5h0M49.8 91.0h0" stroke="#e3140c"/><path d="M56.0 76.3h0M55.9 84.2h0M47.4 86.5h0M56.3 84.3h0" stroke="#93400e"/><path d="M47.0 70.5h0M56.1 90.7h0" stroke="#e3140c"/><path d="M54.0 87.5h0" stroke="#8f8f1c"/><path d="M53.6 80.5h0M56.7 74.4h0M47.2 85.2h0M56.0 83.9h0M64.3 42.0h0M64.2 44.6h0M64.8 48.2h0M63.9 52.3h0M64.3 55.9h0M65.0 41.7h0M64.4 45.5h0M65.3 50.1h0M64.9 55.1h0M73.2 60.2h0" stroke="#93400e"/><path d="M84.7 67.9h0M82.1 70.4h0M76.3 70.5h0M84.0 76.3h0M81.4 68.1h0M78.0 71.7h0M81.5 74.2h0M85.1 65.7h0M78.2 67.4h0M84.8 74.9h0M84.2 67.3h0M76.0 72.6h0M79.2 75.0h0M76.5 70.0h0M82.6 74.0h0M74.4 74.0h0M76.5 74.3h0M76.6 74.2h0M75.8 73.1h0M75.9 66.8h0M82.5 71.9h0M87.1 69.7h0M73.6 76.5h0M72.9 76.6h0M80.5 69.3h0M80.5 67.5h0M75.5 77.4h0M83.1 67.1h0M86.2 71.6h0M76.9 73.1h0M82.8 65.7h0M87.5 76.7h0M79.8 76.4h0M85.6 77.7h0M75.0 72.3h0M78.7 72.6h0M73.0 69.7h0M73.9 66.2h0M82.8 72.2h0M73.9 76.1h0M81.2 65.8h0M76.5 71.3h0M85.2 65.3h0M79.3 73.2h0M75.0 70.7h0M79.2 76.7h0M80.0 70.7h0M84.8 72.6h0M83.3 69.4h0M82.8 75.5h0M93.7 65.0h0M93.3 68.1h0M93.3 71.7h0M60.6 98.3h0M63.3 99.3h0M63.4 101.5h0M63.1 103.9h0" stroke="#e3140c"/><path d="M63.3 105.7h0M64.0 108.5h0M70.5 95.3h0" stroke="#93400e"/><path d="M71.5 98.3h0" stroke="#e3140c"/><path d="M70.6 100.7h0M71.4 102.5h0" stroke="#93400e"/><path d="M70.6 105.3h0" stroke="#e3140c"/><path d="M72.5 90.7h0M73.3 93.3h0M73.2 97.0h0M72.9 99.5h0M75.8 96.2h0M74.9 100.0h0M75.0 102.9h0M77.5 93.9h0M77.5 97.3h0M80.7 93.3h0M80.0 95.2h0" stroke="#93400e"/><path d="M80.4 97.6h0" stroke="#c9621c"/><path d="M79.2 101.1h0M79.4 103.9h0M79.4 106.1h0M79.8 109.0h0M82.1 94.3h0" stroke="#93400e"/><path d="M83.3 97.1h0M82.0 100.1h0M82.7 103.0h0" stroke="#c9621c"/><path d="M82.6 104.3h0M82.5 107.5h0" stroke="#e3140c"/><path d="M84.7 93.3h0M84.9 95.9h0" stroke="#93400e"/><path d="M85.1 98.0h0M84.3 100.8h0M85.1 102.9h0" stroke="#c9621c"/><path d="M91.4 92.0h0M91.9 94.0h0M91.8 96.9h0M90.8 99.4h0M91.8 101.1h0M92.6 103.5h0M91.6 105.6h0M91.2 108.0h0M95.0 94.2h0M94.4 95.5h0M95.0 98.5h0M94.7 101.1h0M95.5 103.7h0M94.9 106.4h0M98.0 96.1h0M98.6 98.5h0M97.5 101.8h0M98.3 105.3h0" stroke="#e3140c"/><path d="M100.5 93.2h0M100.1 95.9h0" stroke="#93400e"/><path d="M100.6 97.5h0M100.7 99.8h0M104.5 95.4h0" stroke="#e3140c"/><path d="M104.4 97.8h0" stroke="#93400e"/><path d="M103.9 100.1h0M103.2 101.9h0" stroke="#e3140c"/><path d="M104.1 105.3h0" stroke="#93400e"/><path d="M103.8 107.3h0M106.2 98.4h0M105.2 100.0h0M105.5 103.3h0M110.7 92.0h0M111.1 94.3h0M110.4 97.2h0M111.4 99.3h0M111.3 101.4h0M112.2 104.2h0M115.8 98.8h0M115.6 101.2h0M115.0 103.1h0M114.8 106.0h0" stroke="#e3140c"/><path d="M119.4 93.5h0" stroke="#c9621c"/><path d="M119.2 96.8h0M118.8 98.7h0M119.3 102.4h0M118.8 104.3h0M118.6 107.3h0" stroke="#e3140c"/><path d="M122.4 96.4h0M122.7 98.4h0M122.9 101.2h0M122.5 103.5h0M122.4 106.3h0M125.1 92.8h0M125.2 95.8h0M125.5 98.1h0M127.7 99.1h0M127.2 101.1h0M127.1 103.3h0" stroke="#93400e"/><path d="M127.4 106.2h0M128.6 96.7h0M129.4 99.6h0M129.0 100.6h0M132.6 97.6h0M132.5 99.2h0M132.7 101.4h0M132.6 103.7h0M127.4 68.7h0" stroke="#e3140c"/><path d="M128.4 72.0h0" stroke="#93400e"/><path d="M127.7 74.8h0M127.6 78.3h0" stroke="#e3140c"/><path d="M127.8 80.7h0" stroke="#c9621c"/><path d="M132.2 63.4h0M132.0 66.5h0M132.3 68.5h0M132.0 71.7h0M131.7 74.5h0M132.7 77.1h0M131.8 78.5h0" stroke="#93400e"/><path d="M136.2 66.9h0M137.0 69.7h0M136.1 71.5h0M136.3 74.4h0" stroke="#e3140c"/><path d="M135.9 77.8h0" stroke="#93400e"/><path d="M142.2 74.3h0" stroke="#e3140c"/><path d="M145.4 75.5h0M145.2 77.4h0M149.6 74.3h0M148.9 76.7h0M150.1 79.0h0" stroke="#93400e"/><path d="M148.9 83.4h0" stroke="#c9621c"/><path d="M154.3 72.5h0M154.8 74.9h0M154.4 77.7h0" stroke="#e3140c"/><path d="M154.4 80.6h0M154.0 82.7h0M159.1 68.1h0M158.9 70.5h0" stroke="#c9621c"/><path d="M159.5 72.9h0M164.2 70.2h0M163.4 73.6h0M163.8 75.7h0M168.1 65.3h0M168.4 66.7h0M168.3 69.0h0M168.6 73.0h0M168.5 75.2h0M173.1 71.1h0M173.2 74.6h0M173.1 77.4h0" stroke="#e3140c"/><path d="M177.7 73.2h0M177.3 74.6h0M177.5 76.8h0M178.3 79.2h0" stroke="#93400e"/><path d="M182.1 68.9h0M182.5 72.0h0" stroke="#e3140c"/><path d="M181.8 75.1h0M181.7 77.2h0" stroke="#93400e"/><path d="M185.2 74.6h0M185.2 76.8h0M184.5 79.2h0M184.7 82.0h0M184.8 83.6h0M184.7 86.9h0" stroke="#e3140c"/><path d="M192.2 67.1h0M192.2 70.0h0" stroke="#93400e"/><path d="M191.6 72.0h0" stroke="#e3140c"/><path d="M192.6 75.5h0" stroke="#93400e"/><path d="M195.4 65.4h0M194.6 68.3h0M195.4 72.3h0M194.6 73.5h0M196.9 73.5h0M197.9 77.1h0M197.9 79.4h0M202.9 75.2h0M202.3 77.3h0" stroke="#5c14b8"/><path d="M207.2 69.7h0M206.8 72.0h0M206.2 76.4h0M207.0 79.3h0" stroke="#93400e"/><path d="M210.7 71.9h0M211.0 74.7h0" stroke="#5c14b8"/><path d="M210.9 76.9h0M210.7 79.1h0M210.8 81.4h0M213.0 72.3h0M213.4 75.2h0M213.7 75.8h0" stroke="#93400e"/><path d="M216.5 71.1h0M216.8 71.9h0M221.6 73.5h0M220.5 76.5h0M220.6 78.3h0M221.7 80.2h0M221.1 83.5h0" stroke="#5c14b8"/><path d="M225.3 65.7h0M225.3 67.4h0M225.0 69.6h0M225.7 72.5h0" stroke="#93400e"/><path d="M225.3 74.5h0M225.3 78.0h0M228.2 71.8h0M228.5 73.6h0M227.4 76.4h0M227.9 77.4h0" stroke="#5c14b8"/><path d="M231.6 72.3h0" stroke="#93400e"/><path d="M234.6 68.4h0" stroke="#c9621c"/><path d="M235.1 69.5h0M234.3 73.3h0M234.7 75.7h0M234.9 77.4h0M234.7 78.7h0M234.9 82.4h0M234.6 85.2h0M240.5 68.0h0M239.4 71.9h0M239.6 72.9h0M239.4 75.0h0M239.0 78.5h0M239.2 80.3h0M239.7 83.9h0M243.4 70.3h0M243.5 72.6h0M242.8 74.7h0" stroke="#e3140c"/><path d="M247.6 65.1h0M247.7 68.2h0M247.6 70.1h0M247.7 73.9h0M247.5 76.4h0" stroke="#93400e"/><path d="M247.7 80.1h0" stroke="#5c14b8"/><path d="M252.0 73.2h0M251.1 74.8h0" stroke="#c9621c"/><path d="M253.7 68.4h0" stroke="#e3140c"/><path d="M254.0 71.5h0M253.7 74.0h0M257.4 72.4h0M257.3 74.5h0M257.6 77.7h0M257.0 79.4h0M257.6 81.7h0" stroke="#5c14b8"/><path d="M260.4 64.5h0M260.2 66.3h0M260.2 68.8h0M260.2 72.1h0M260.5 74.6h0M260.1 77.5h0M260.2 78.9h0M260.3 81.7h0" stroke="#93400e"/><path d="M140.8 62.8h0M141.4 67.3h0M140.4 70.4h0M140.8 75.6h0M141.3 80.0h0" stroke="#e3140c"/><path d="M251.6 52.4h0M251.7 55.7h0M252.1 59.5h0M251.2 62.7h0" stroke="#93400e"/><path d="M130.3 89.7h0" stroke="#e3140c"/><path d="M130.1 93.0h0M130.3 95.2h0" stroke="#c9621c"/><path d="M129.8 98.1h0M129.9 99.6h0M130.0 102.3h0M130.9 104.7h0M129.6 107.8h0M134.6 91.8h0M134.7 94.2h0M134.9 96.5h0M134.6 98.9h0M133.7 101.3h0" stroke="#e3140c"/><path d="M134.6 104.1h0M135.2 107.0h0M134.7 110.3h0" stroke="#93400e"/><path d="M137.2 99.6h0" stroke="#e3140c"/><path d="M137.0 100.7h0M137.0 103.9h0" stroke="#c9621c"/><path d="M146.4 94.9h0" stroke="#93400e"/><path d="M147.0 97.7h0M147.8 100.7h0" stroke="#e3140c"/><path d="M150.8 91.5h0M150.9 93.0h0M151.0 95.7h0" stroke="#93400e"/><path d="M150.8 98.7h0M149.5 100.5h0M150.2 103.2h0" stroke="#e3140c"/><path d="M150.4 106.6h0M150.2 108.6h0M153.8 93.3h0" stroke="#c9621c"/><path d="M153.5 96.8h0M154.5 99.3h0M153.4 101.3h0M153.2 103.1h0M157.5 95.7h0M161.6 92.0h0M161.6 95.0h0" stroke="#e3140c"/><path d="M161.5 97.4h0" stroke="#93400e"/><path d="M163.1 92.2h0M164.1 94.4h0M164.2 95.8h0" stroke="#e3140c"/><path d="M163.8 99.3h0M166.5 96.2h0M165.9 99.7h0" stroke="#93400e"/><path d="M175.0 95.1h0M174.8 96.0h0M174.3 98.1h0M174.1 102.3h0M174.5 103.1h0M174.8 106.7h0M176.7 98.7h0M176.1 101.1h0M177.0 103.1h0M175.9 106.4h0M179.6 97.1h0M180.1 99.1h0M179.9 102.1h0M179.1 103.8h0" stroke="#e3140c"/><path d="M180.1 106.2h0M179.2 109.9h0" stroke="#93400e"/><path d="M183.8 94.7h0M183.6 97.2h0M183.8 98.5h0M183.7 101.7h0M183.8 103.9h0" stroke="#e3140c"/><path d="M183.6 106.4h0M191.2 94.6h0M190.7 97.2h0" stroke="#93400e"/><path d="M191.1 99.7h0M191.4 102.2h0M191.6 104.9h0" stroke="#e3140c"/><path d="M190.9 107.0h0" stroke="#c9621c"/><path d="M194.0 98.2h0M197.7 90.8h0M198.4 93.7h0M197.6 96.2h0M197.9 98.6h0M197.4 101.2h0" stroke="#e3140c"/><path d="M201.9 97.5h0M201.3 99.5h0M201.6 101.7h0" stroke="#93400e"/><path d="M201.6 104.6h0" stroke="#e3140c"/><path d="M208.2 93.7h0" stroke="#c9621c"/><path d="M208.1 95.6h0M208.0 99.0h0M208.4 100.4h0" stroke="#e3140c"/><path d="M207.9 102.6h0M208.2 105.3h0" stroke="#93400e"/><path d="M207.6 108.2h0" stroke="#e3140c"/><path d="M211.1 97.1h0M211.4 99.2h0M210.9 101.6h0M211.2 104.4h0M211.7 106.8h0M211.7 109.7h0M213.8 92.7h0M213.9 95.3h0M214.2 99.5h0M213.4 101.4h0M214.6 104.4h0M213.6 107.4h0M214.4 109.4h0" stroke="#93400e"/><path d="M217.9 94.4h0M219.8 92.8h0M219.7 95.4h0M219.5 98.9h0M220.1 100.8h0M227.1 95.3h0" stroke="#e3140c"/><path d="M227.2 97.6h0M227.6 102.0h0" stroke="#93400e"/><path d="M227.3 104.5h0M227.2 106.7h0M227.0 109.6h0" stroke="#e3140c"/><path d="M230.4 97.1h0M230.8 101.4h0M231.7 103.0h0" stroke="#93400e"/><path d="M231.1 106.2h0M231.1 108.9h0M235.0 95.0h0" stroke="#e3140c"/><path d="M233.6 98.0h0M234.3 99.0h0M234.4 100.9h0" stroke="#93400e"/><path d="M236.9 95.7h0" stroke="#e3140c"/><path d="M237.1 98.9h0M237.2 101.0h0M237.7 103.5h0" stroke="#93400e"/><path d="M237.2 105.2h0M237.5 108.7h0" stroke="#e3140c"/><path d="M242.4 91.3h0M242.3 93.7h0" stroke="#93400e"/><path d="M242.7 97.1h0M242.9 99.0h0M242.4 102.0h0" stroke="#e3140c"/><path d="M242.2 104.1h0" stroke="#c9621c"/><path d="M246.3 98.3h0M245.5 101.3h0M245.8 103.0h0" stroke="#e3140c"/><path d="M245.9 106.2h0M245.5 109.2h0" stroke="#93400e"/><path d="M249.1 99.0h0M248.6 102.4h0M249.6 104.7h0M250.9 95.8h0M251.6 98.0h0M251.8 101.2h0M251.5 103.6h0M254.1 95.5h0M254.3 98.7h0M253.9 101.5h0M254.3 102.6h0" stroke="#e3140c"/><path d="M254.5 106.0h0M254.5 108.6h0M274.4 95.3h0M274.9 98.3h0M273.8 100.8h0M274.2 102.9h0" stroke="#93400e"/><path d="M274.2 104.5h0M273.5 107.2h0M273.8 109.7h0M277.8 93.7h0M278.2 97.1h0M277.9 98.6h0M278.1 100.0h0M278.4 103.1h0M277.5 104.8h0M278.6 107.0h0" stroke="#e3140c"/><path d="M282.2 96.6h0M282.1 99.2h0M281.7 101.4h0M281.7 104.5h0M282.2 106.8h0M282.1 108.5h0" stroke="#93400e"/><path d="M284.4 98.4h0M283.4 101.0h0M284.2 103.9h0" stroke="#e3140c"/><path d="M284.0 105.5h0M284.2 108.9h0M284.1 110.8h0M284.3 112.7h0M286.8 97.8h0M287.3 99.0h0" stroke="#93400e"/><path d="M287.4 102.2h0" stroke="#8f8f1c"/><path d="M286.5 104.4h0M287.2 106.1h0M286.4 108.1h0M287.4 111.0h0" stroke="#93400e"/><path d="M306.7 85.2h0" stroke="#e3140c"/><path d="M297.5 84.7h0" stroke="#c9621c"/><path d="M297.3 91.1h0" stroke="#e3140c"/><path d="M305.8 76.5h0M309.0 90.1h0" stroke="#93400e"/><path d="M302.0 90.1h0M305.9 81.0h0M309.3 84.2h0M297.2 92.8h0" stroke="#e3140c"/><path d="M300.6 83.5h0" stroke="#c9621c"/><path d="M299.8 89.1h0" stroke="#e3140c"/><path d="M297.7 86.3h0" stroke="#c9621c"/><path d="M304.5 92.2h0" stroke="#93400e"/><path d="M303.9 79.3h0" stroke="#e3140c"/><path d="M302.9 85.4h0" stroke="#c9621c"/><path d="M308.6 83.0h0M307.8 81.0h0M300.9 72.7h0M298.6 78.0h0M297.1 75.7h0" stroke="#e3140c"/><path d="M308.3 72.4h0" stroke="#93400e"/><path d="M298.6 89.8h0" stroke="#e3140c"/><path d="M302.4 81.2h0" stroke="#c9621c"/><path d="M307.6 83.0h0" stroke="#e3140c"/><path d="M301.4 74.5h0" stroke="#93400e"/><path d="M306.9 84.5h0" stroke="#e3140c"/><path d="M300.5 79.0h0" stroke="#93400e"/><path d="M303.3 87.5h0" stroke="#c9621c"/><path d="M307.9 88.8h0" stroke="#93400e"/><path d="M296.7 72.5h0" stroke="#e3140c"/><path d="M309.1 76.0h0" stroke="#93400e"/><path d="M301.2 92.1h0M305.7 84.4h0M296.6 94.6h0" stroke="#e3140c"/><path d="M300.7 84.9h0" stroke="#c9621c"/><path d="M300.9 94.5h0" stroke="#e3140c"/><path d="M304.4 78.5h0" stroke="#93400e"/><path d="M301.8 80.4h0" stroke="#c9621c"/><path d="M305.8 72.9h0M306.9 88.2h0M318.0 86.8h0" stroke="#93400e"/><path d="M318.6 89.4h0M317.4 91.0h0M317.9 92.5h0M318.1 95.9h0M317.3 97.3h0M317.7 100.9h0M317.3 102.8h0" stroke="#e3140c"/><path d="M318.0 106.3h0M318.2 107.1h0M318.1 109.6h0" stroke="#93400e"/><path d="M320.3 89.0h0M320.2 91.3h0M320.3 94.7h0M320.4 96.4h0M320.3 98.2h0M320.5 101.7h0M320.2 102.6h0M320.4 105.4h0M320.2 108.7h0M320.4 111.0h0M322.7 87.7h0M323.7 90.6h0M323.6 93.4h0M323.6 95.6h0M323.4 97.2h0M323.2 99.9h0M323.5 102.5h0M323.8 104.7h0M322.9 107.8h0M323.1 109.4h0M326.2 86.6h0M326.9 90.0h0M326.7 91.6h0M327.0 94.0h0M326.9 96.5h0M326.9 98.1h0M325.8 100.8h0M327.3 102.7h0M327.2 105.7h0M325.9 107.3h0M333.7 77.7h0M333.9 79.3h0" stroke="#e3140c"/><path d="M333.4 81.6h0M334.0 83.8h0M334.2 87.0h0M334.1 88.5h0M334.0 92.1h0M333.2 94.3h0M333.6 96.9h0M334.0 97.8h0M333.8 100.2h0M333.6 103.0h0M333.9 104.5h0M333.2 106.8h0M333.9 109.5h0" stroke="#93400e"/><path d="M338.5 79.7h0" stroke="#e3140c"/><path d="M338.2 81.2h0M338.3 82.5h0M337.9 84.9h0M337.3 87.0h0" stroke="#93400e"/><path d="M337.8 90.7h0M337.3 91.5h0M337.7 94.4h0M337.4 96.9h0M338.5 99.9h0M338.6 102.7h0" stroke="#e3140c"/><path d="M338.4 105.7h0" stroke="#8f8f1c"/><path d="M338.2 106.6h0" stroke="#e3140c"/><path d="M338.0 109.4h0" stroke="#93400e"/><path d="M340.7 77.9h0" stroke="#e3140c"/><path d="M340.3 80.5h0M341.0 82.0h0M340.5 85.7h0M340.6 87.9h0" stroke="#93400e"/><path d="M340.9 90.3h0M339.9 92.7h0M340.6 94.5h0M339.9 95.6h0M341.0 98.9h0M340.9 100.4h0" stroke="#e3140c"/><path d="M340.1 104.1h0M340.7 106.1h0M340.0 108.8h0M340.2 111.0h0M266.2 77.3h0M266.7 81.7h0M266.7 83.1h0M266.1 86.0h0M267.0 89.0h0" stroke="#93400e"/><path d="M266.9 92.7h0M267.3 93.9h0" stroke="#e3140c"/><path d="M272.2 71.8h0" stroke="#93400e"/><path d="M272.8 76.1h0M272.3 78.7h0M272.1 80.8h0M272.7 83.2h0" stroke="#e3140c"/><path d="M271.9 86.5h0M271.8 89.1h0M271.2 91.7h0" stroke="#c9621c"/><path d="M276.0 86.1h0M287.1 79.4h0M286.4 81.2h0M286.8 83.6h0M293.2 74.4h0M292.5 77.1h0M293.1 79.6h0" stroke="#e3140c"/><path d="M293.3 81.7h0M293.6 84.5h0M292.8 86.6h0" stroke="#c9621c"/><path d="M292.8 89.6h0" stroke="#e3140c"/><path d="M279.7 69.5h0M279.7 72.0h0M340.1 85.9h0M340.1 84.9h0" stroke="#93400e"/><path d="M340.3 77.6h0M340.6 77.2h0" stroke="#e3140c"/><path d="M340.6 81.0h0M340.8 82.1h0" stroke="#93400e"/><path d="M341.2 78.0h0M341.5 79.8h0M341.7 82.4h0M341.8 83.0h0M341.9 76.9h0M342.4 77.7h0M343.1 77.9h0M343.4 74.0h0M343.8 68.8h0M343.9 68.9h0" stroke="#e3140c"/><path d="M344.3 69.3h0M344.5 66.1h0M344.6 68.0h0M344.7 61.7h0M344.7 63.0h0M344.8 62.2h0M345.2 62.8h0M345.3 62.6h0M345.3 73.0h0M345.8 66.3h0M346.1 74.7h0M346.1 79.0h0M346.3 85.1h0M346.8 83.8h0" stroke="#93400e"/><path d="M346.8 78.2h0" stroke="#e3140c"/><path d="M346.9 87.8h0" stroke="#93400e"/><path d="M347.2 93.8h0" stroke="#e3140c"/><path d="M347.4 87.1h0" stroke="#93400e"/><path d="M347.4 93.3h0" stroke="#e3140c"/><path d="M347.5 87.7h0M347.6 78.2h0M348.3 82.9h0M348.5 77.8h0M349.5 75.1h0M349.7 68.7h0M350.0 74.4h0M350.1 61.2h0M350.1 70.9h0M350.7 76.1h0M350.7 69.2h0M350.8 69.9h0M351.1 72.0h0M351.3 84.8h0M351.5 92.0h0M351.8 93.8h0M352.0 84.9h0M352.1 93.4h0M352.4 82.9h0M352.6 87.0h0M352.6 89.4h0M352.8 88.3h0" stroke="#93400e"/><path d="M353.0 79.0h0M353.7 73.6h0M353.8 72.4h0M355.4 76.4h0" stroke="#e3140c"/><path d="M355.6 80.2h0M356.4 85.0h0M356.4 87.4h0" stroke="#93400e"/><path d="M356.9 78.9h0M357.0 73.6h0M357.2 73.0h0M357.2 73.9h0M357.2 67.3h0M357.4 70.6h0M357.6 74.6h0" stroke="#e3140c"/><path d="M357.8 81.6h0" stroke="#93400e"/><path d="M357.9 76.3h0M357.9 72.6h0M358.3 74.2h0" stroke="#e3140c"/><path d="M358.5 90.2h0M359.0 91.5h0" stroke="#93400e"/><path d="M359.2 75.8h0M359.3 74.6h0M359.4 76.8h0M359.6 82.9h0M359.7 79.6h0M359.9 73.3h0M359.9 81.4h0M359.9 81.8h0M360.1 78.1h0M360.3 72.8h0M360.4 66.2h0M360.9 71.0h0M361.4 69.9h0M362.0 67.5h0M362.5 74.6h0M362.5 70.2h0M362.9 75.5h0M363.3 76.0h0M363.3 71.8h0M363.4 74.1h0M364.2 74.1h0" stroke="#e3140c"/><path d="M364.5 83.6h0M364.7 86.7h0M364.7 87.9h0M365.9 80.9h0" stroke="#c9621c"/><path d="M366.5 75.8h0M367.2 75.4h0M367.3 75.0h0M367.5 80.1h0" stroke="#e3140c"/><path d="M368.2 75.3h0M368.4 78.6h0M368.5 77.8h0M368.5 77.8h0M368.7 75.0h0M369.1 76.2h0M369.3 76.2h0" stroke="#93400e"/><path d="M369.3 66.0h0M369.4 61.1h0" stroke="#e3140c"/><path d="M369.7 72.8h0" stroke="#93400e"/><path d="M369.7 64.3h0M369.9 70.4h0M370.3 71.1h0" stroke="#e3140c"/><path d="M370.4 79.2h0M370.6 77.8h0" stroke="#93400e"/><path d="M371.0 82.7h0" stroke="#e3140c"/><path d="M371.2 79.4h0" stroke="#93400e"/><path d="M371.4 83.9h0" stroke="#e3140c"/><path d="M371.6 77.6h0M372.0 79.5h0M372.2 77.1h0M372.4 73.3h0M372.5 74.0h0" stroke="#93400e"/><path d="M372.6 70.3h0M372.8 70.9h0" stroke="#e3140c"/><path d="M373.0 73.3h0" stroke="#93400e"/><path d="M373.1 70.6h0" stroke="#e3140c"/><path d="M373.3 83.4h0M373.3 86.2h0M373.3 84.2h0M373.5 82.9h0M373.6 84.4h0M373.7 75.7h0M374.7 74.4h0" stroke="#93400e"/><path d="M375.2 68.9h0M375.8 71.1h0M376.3 62.8h0" stroke="#e3140c"/><path d="M376.4 67.6h0M376.7 70.6h0M377.3 67.2h0" stroke="#93400e"/><path d="M377.5 75.2h0" stroke="#e3140c"/><path d="M377.8 69.6h0" stroke="#93400e"/><path d="M378.0 77.8h0M378.2 83.3h0M378.3 88.1h0M378.4 84.6h0M378.4 91.3h0M378.6 86.2h0M378.7 88.1h0M379.0 86.8h0M379.3 88.2h0M379.5 91.5h0M379.8 92.9h0M379.8 86.5h0M380.1 91.3h0M380.2 89.2h0M380.3 76.8h0M380.3 81.4h0M380.4 80.3h0M380.6 74.6h0M380.7 78.2h0" stroke="#e3140c"/><path d="M380.9 69.6h0" stroke="#93400e"/><path d="M381.0 76.3h0M381.0 74.4h0" stroke="#e3140c"/><path d="M381.1 71.1h0" stroke="#93400e"/><path d="M381.1 72.7h0" stroke="#e3140c"/><path d="M381.3 65.8h0M381.3 68.5h0M381.4 67.5h0M381.6 70.1h0M381.7 65.5h0" stroke="#93400e"/><path d="M381.9 63.5h0" stroke="#e3140c"/><path d="M382.0 68.1h0" stroke="#93400e"/><path d="M382.0 74.9h0M382.0 73.1h0M383.1 81.6h0M383.4 79.4h0M383.9 73.3h0" stroke="#e3140c"/><path d="M384.0 76.1h0M384.1 71.5h0M384.3 71.0h0M384.8 70.3h0M385.1 68.1h0M385.4 70.7h0M385.8 73.0h0M385.9 72.4h0M386.0 68.1h0M386.1 69.9h0" stroke="#93400e"/><path d="M386.2 57.5h0" stroke="#e3140c"/><path d="M386.2 67.4h0" stroke="#93400e"/><path d="M386.6 62.1h0" stroke="#e3140c"/><path d="M386.9 66.3h0M387.9 64.6h0" stroke="#93400e"/><path d="M387.9 61.2h0M388.3 63.0h0M389.2 60.5h0M389.7 63.9h0M389.9 59.6h0M389.9 57.3h0M389.9 55.2h0M390.5 62.5h0" stroke="#e3140c"/><path d="M390.8 65.5h0M391.0 66.7h0" stroke="#93400e"/><path d="M391.1 64.0h0M391.7 72.9h0M391.7 81.7h0M392.2 84.4h0M392.3 84.8h0M392.3 83.8h0M392.5 82.8h0M392.8 75.3h0M392.9 74.1h0M393.2 77.6h0M393.5 78.6h0M393.9 82.7h0M394.0 88.1h0M394.2 89.0h0M394.3 92.2h0M394.5 93.8h0M394.5 82.6h0M394.9 91.7h0M395.0 92.7h0M395.1 83.9h0M395.1 76.9h0M395.6 80.5h0M395.6 78.7h0M395.8 81.8h0M396.4 88.8h0M396.4 82.0h0M396.4 82.9h0M396.7 90.1h0M396.8 93.8h0M396.9 93.8h0" stroke="#e3140c"/><path d="M398.0 90.8h0M398.1 93.3h0" stroke="#93400e"/><path d="M398.1 86.4h0M398.3 80.5h0M398.6 82.0h0M399.9 80.6h0M399.9 80.2h0" stroke="#e3140c"/><path d="M400.0 75.4h0M400.2 73.1h0M400.6 75.6h0M400.7 74.0h0M400.8 79.9h0M400.9 76.7h0" stroke="#93400e"/><path d="M401.1 68.4h0" stroke="#e3140c"/><path d="M401.3 74.3h0" stroke="#93400e"/><path d="M401.3 81.9h0M401.5 85.7h0M401.6 86.0h0M402.7 87.8h0M402.9 88.5h0M403.1 84.7h0M403.5 89.3h0M403.6 93.8h0M403.8 82.3h0M403.9 93.8h0M404.0 82.6h0" stroke="#e3140c"/><path d="M404.4 79.4h0M404.6 76.9h0" stroke="#93400e"/><path d="M404.6 69.5h0M404.7 66.6h0" stroke="#e3140c"/><path d="M404.8 73.1h0" stroke="#93400e"/><path d="M405.0 70.4h0M405.3 67.7h0M405.4 69.3h0M405.5 71.2h0M406.1 69.7h0M406.1 64.9h0M406.1 62.1h0M406.6 52.4h0M406.6 51.3h0M406.7 58.7h0M406.8 54.8h0M406.8 59.4h0M406.8 62.8h0" stroke="#e3140c"/><path d="M406.9 70.3h0M407.1 67.7h0M407.2 65.8h0" stroke="#93400e"/><path d="M407.2 63.0h0M407.3 56.5h0M407.4 51.2h0M407.5 61.0h0M408.0 58.1h0" stroke="#e3140c"/><path d="M408.7 65.9h0M409.2 69.4h0M410.2 71.6h0" stroke="#93400e"/><path d="M410.7 81.9h0" stroke="#e3140c"/><path d="M410.9 68.3h0" stroke="#93400e"/><path d="M410.9 61.7h0M411.1 57.8h0" stroke="#e3140c"/><path d="M411.1 66.3h0M411.4 67.5h0M411.6 68.3h0" stroke="#93400e"/><path d="M412.0 72.4h0M412.4 77.5h0M412.9 77.3h0" stroke="#e3140c"/><path d="M413.2 71.3h0" stroke="#93400e"/><path d="M413.4 75.7h0M413.4 77.9h0M413.6 79.2h0M413.7 75.0h0" stroke="#e3140c"/><path d="M414.1 70.3h0" stroke="#93400e"/><path d="M414.2 72.1h0M414.2 76.1h0" stroke="#e3140c"/><path d="M414.2 68.3h0M414.3 65.7h0M414.4 64.3h0M414.5 64.3h0M414.5 64.6h0" stroke="#93400e"/><path d="M415.0 58.9h0" stroke="#e3140c"/><path d="M415.4 64.3h0M415.9 66.3h0M416.0 70.0h0" stroke="#93400e"/><path d="M416.3 71.7h0M416.3 75.2h0M416.4 76.5h0M416.6 75.5h0M416.8 77.4h0" stroke="#e3140c"/><path d="M417.1 88.2h0" stroke="#c9621c"/><path d="M417.1 87.3h0" stroke="#e3140c"/><path d="M417.7 93.8h0" stroke="#c9621c"/><path d="M417.8 85.2h0M417.8 76.5h0M418.2 78.2h0M418.5 80.8h0M418.6 75.6h0M418.8 73.7h0M418.9 82.8h0" stroke="#e3140c"/><path d="M419.1 89.0h0" stroke="#c9621c"/><path d="M419.2 85.1h0" stroke="#e3140c"/><path d="M419.4 88.5h0M419.4 93.4h0" stroke="#c9621c"/><path d="M419.5 87.5h0M419.7 80.4h0M419.8 81.5h0M420.2 79.7h0M420.8 81.4h0M420.8 73.7h0M421.1 71.5h0M421.2 72.6h0M421.2 76.4h0M421.4 76.1h0M421.4 71.5h0" stroke="#e3140c"/><path d="M421.5 62.6h0" stroke="#c9621c"/><path d="M421.7 64.7h0M421.7 70.0h0" stroke="#e3140c"/><path d="M421.9 63.2h0" stroke="#c9621c"/><path d="M422.3 70.7h0M422.4 72.9h0M422.8 64.1h0M422.9 71.4h0M423.4 74.8h0" stroke="#e3140c"/><path d="M423.5 70.5h0M423.9 69.6h0" stroke="#93400e"/><path d="M424.0 74.2h0" stroke="#e3140c"/><path d="M424.5 67.0h0M425.1 69.7h0M425.4 76.3h0M425.4 77.9h0M425.4 72.2h0M425.7 78.5h0M426.9 70.6h0M427.2 74.3h0" stroke="#93400e"/><path d="M427.3 75.5h0M427.5 75.0h0M427.6 72.0h0M428.0 69.6h0M428.1 70.9h0M428.4 74.5h0M428.5 72.5h0M428.6 63.2h0" stroke="#e3140c"/><path d="M429.3 73.1h0M429.3 77.5h0M429.4 75.2h0M429.7 75.6h0M430.2 73.8h0M430.5 79.4h0M430.6 78.6h0M430.8 78.8h0M430.9 78.3h0M431.1 81.1h0M431.4 80.5h0M431.5 73.4h0M431.7 70.2h0M431.7 74.7h0M432.1 74.4h0M432.1 67.6h0M432.1 66.2h0M432.2 61.8h0M433.4 62.5h0M433.4 59.2h0M433.7 70.2h0M434.0 69.6h0M434.2 71.9h0M434.7 78.4h0M434.8 76.8h0M435.2 76.9h0M436.3 78.3h0M436.4 79.4h0M436.7 76.1h0M436.9 79.9h0" stroke="#93400e"/><path d="M437.0 83.3h0" stroke="#e3140c"/><path d="M437.1 74.3h0" stroke="#93400e"/><path d="M437.2 80.0h0" stroke="#e3140c"/><path d="M437.4 71.6h0M437.5 73.2h0" stroke="#93400e"/><path d="M437.5 80.8h0M437.6 80.2h0" stroke="#e3140c"/><path d="M437.8 79.6h0" stroke="#93400e"/><path d="M437.8 81.9h0" stroke="#e3140c"/><path d="M437.9 78.6h0" stroke="#93400e"/><path d="M438.1 81.5h0M438.6 80.8h0M438.6 82.4h0M439.4 86.4h0M439.4 93.8h0" stroke="#e3140c"/><path d="M439.6 93.1h0" stroke="#c9621c"/><path d="M440.1 92.3h0M440.5 93.8h0M440.9 93.8h0M440.9 93.8h0M441.2 89.3h0" stroke="#e3140c"/><path d="M441.4 85.9h0" stroke="#c9621c"/><path d="M441.7 78.8h0M442.1 83.1h0M442.7 86.3h0M442.8 80.1h0M442.8 86.1h0M443.6 79.8h0M443.7 77.3h0M444.1 79.5h0" stroke="#e3140c"/><path d="M444.9 81.6h0M444.9 80.2h0M445.0 83.2h0M445.1 70.8h0M445.9 65.6h0M445.9 69.2h0M446.0 67.1h0M446.1 69.0h0M446.2 72.3h0M446.2 75.3h0M446.3 74.6h0M447.0 76.7h0M447.1 76.7h0M447.1 68.7h0M447.4 70.8h0M448.0 67.7h0" stroke="#93400e"/><path d="M448.1 69.6h0M448.2 69.7h0M448.2 71.9h0M448.3 69.9h0" stroke="#e3140c"/><path d="M448.4 59.3h0M448.7 60.3h0" stroke="#93400e"/><path d="M449.2 68.8h0M449.3 70.0h0M449.3 64.9h0M449.5 73.5h0M450.0 71.7h0" stroke="#e3140c"/><path d="M450.5 62.3h0M450.7 59.1h0M450.8 56.1h0M451.1 60.0h0M451.2 57.9h0M451.2 61.8h0" stroke="#93400e"/><path d="M451.7 54.2h0M451.8 54.0h0" stroke="#e3140c"/><path d="M452.0 58.8h0M452.0 59.7h0" stroke="#93400e"/><path d="M452.0 64.1h0M452.0 68.7h0" stroke="#e3140c"/><path d="M452.1 61.3h0M452.2 61.7h0" stroke="#93400e"/><path d="M452.5 54.9h0M453.0 55.8h0" stroke="#e3140c"/><path d="M453.9 58.3h0M453.9 62.2h0M454.1 58.4h0" stroke="#93400e"/><path d="M454.2 64.6h0" stroke="#e3140c"/><path d="M454.2 63.0h0" stroke="#93400e"/><path d="M454.2 67.4h0" stroke="#e3140c"/><path d="M454.4 62.6h0" stroke="#93400e"/><path d="M454.4 68.3h0M454.5 68.0h0" stroke="#e3140c"/><path d="M454.7 61.9h0" stroke="#93400e"/><path d="M454.8 66.2h0M455.0 73.8h0" stroke="#e3140c"/><path d="M455.4 81.6h0M455.6 83.4h0" stroke="#c9621c"/><path d="M455.7 79.7h0M456.0 74.4h0M456.0 74.1h0M456.0 73.2h0M456.3 72.3h0M456.5 79.8h0M457.0 73.9h0M457.2 69.9h0M457.3 68.4h0M457.3 74.0h0M457.4 72.1h0M457.6 69.6h0M457.8 67.4h0M457.9 68.4h0M457.9 72.7h0M458.0 71.7h0M458.1 67.9h0M458.5 72.2h0M458.5 74.9h0M458.6 76.4h0M458.9 75.5h0M459.0 71.5h0M459.0 72.1h0M459.0 72.6h0M459.1 76.3h0M459.8 75.7h0M459.8 64.6h0M459.9 64.4h0M460.0 69.8h0M460.5 68.3h0M460.7 64.6h0M460.8 65.2h0M461.6 69.7h0M461.8 73.2h0M461.9 71.2h0M461.9 75.7h0M462.0 76.8h0M462.1 77.9h0M463.1 78.9h0M463.2 88.0h0M463.4 87.5h0M463.8 84.7h0M463.9 81.0h0M464.1 84.4h0" stroke="#e3140c"/><path d="M464.2 91.1h0" stroke="#93400e"/><path d="M464.3 85.2h0M464.8 87.1h0M464.8 87.1h0M464.9 81.0h0M465.0 74.7h0M465.1 75.4h0M465.1 71.9h0M465.5 73.4h0M465.5 64.6h0M465.7 71.3h0M465.7 73.7h0M465.8 82.7h0M466.4 78.0h0M466.4 75.7h0M466.6 76.6h0M466.9 78.0h0M467.0 77.0h0M467.1 72.3h0M467.1 76.8h0M467.3 69.1h0M467.3 70.2h0M467.4 68.4h0M467.7 71.8h0M467.7 71.4h0M468.1 67.6h0M468.2 79.2h0M468.2 75.5h0M468.4 75.1h0M468.5 82.3h0M468.6 76.8h0M468.6 80.7h0M468.9 79.8h0M469.1 75.6h0M469.2 81.5h0M469.2 74.1h0" stroke="#e3140c"/><path d="M469.3 93.8h0M469.3 93.8h0M469.4 89.8h0M469.4 93.8h0M469.4 91.8h0M469.7 88.6h0" stroke="#93400e"/><path d="M470.1 83.5h0M470.1 83.9h0M470.2 75.8h0M470.4 75.3h0M470.4 80.4h0" stroke="#e3140c"/><path d="M470.4 90.5h0" stroke="#93400e"/><path d="M470.5 81.2h0M470.8 82.1h0M471.0 84.7h0M472.6 86.4h0M473.0 74.9h0M473.0 76.4h0M473.1 79.2h0M473.4 77.7h0M473.9 79.7h0" stroke="#e3140c"/><path d="M474.1 89.5h0M474.6 89.2h0M475.3 91.8h0M475.3 93.8h0" stroke="#93400e"/><path d="M475.5 86.0h0M475.6 79.8h0M475.6 86.4h0M475.8 85.4h0M476.1 81.9h0M476.2 83.4h0" stroke="#e3140c"/><path d="M476.3 89.4h0" stroke="#93400e"/><path d="M477.1 79.2h0M477.1 77.6h0" stroke="#e3140c"/><path d="M477.2 71.8h0" stroke="#c9621c"/><path d="M477.5 81.1h0M477.7 77.4h0M478.2 77.8h0M478.7 74.1h0" stroke="#e3140c"/><path d="M478.9 71.1h0" stroke="#c9621c"/><path d="M478.9 77.2h0" stroke="#e3140c"/><path d="M479.0 68.8h0M479.4 64.9h0" stroke="#c9621c"/><path d="M479.6 72.6h0M480.0 77.2h0M480.7 76.5h0M480.9 79.8h0" stroke="#e3140c"/><path d="M481.2 85.1h0" stroke="#93400e"/><path d="M481.3 93.8h0M481.7 93.8h0M481.7 93.8h0M481.9 93.8h0M482.0 91.7h0M482.4 91.5h0M482.6 90.2h0" stroke="#e3140c"/><path d="M482.6 83.8h0M483.4 85.1h0M483.7 87.4h0M483.8 80.7h0M484.3 84.0h0M484.3 87.0h0M485.0 89.0h0M485.0 88.5h0M485.1 79.8h0M485.6 72.4h0" stroke="#93400e"/><path d="M485.7 59.8h0M486.4 57.3h0M486.5 54.4h0M486.6 60.4h0M486.8 63.2h0M487.2 78.1h0M487.8 79.4h0M488.2 80.8h0M488.2 83.0h0M489.0 82.8h0M489.2 79.8h0M489.3 76.7h0M489.3 78.3h0M489.3 82.7h0M489.3 74.8h0M489.7 78.7h0M489.7 86.0h0M490.0 88.8h0M490.3 89.3h0M490.5 87.7h0M490.5 89.2h0M490.5 81.6h0M490.8 81.3h0M491.5 77.7h0M491.7 76.5h0M491.8 81.2h0M492.0 79.0h0M492.1 70.7h0M492.2 61.0h0M492.9 61.9h0M493.0 65.2h0M493.1 68.4h0M493.2 73.4h0M493.3 69.5h0M493.7 70.5h0M493.7 76.5h0M493.7 73.0h0M494.1 76.8h0M494.8 81.1h0M495.5 81.7h0M495.7 80.9h0M495.9 90.2h0" stroke="#e3140c"/><path d="M496.3 93.8h0M496.3 90.8h0M496.6 93.8h0M497.2 93.8h0M497.2 93.1h0M497.2 92.1h0" stroke="#93400e"/><path d="M497.7 83.0h0M498.0 84.2h0M498.0 85.6h0M498.5 68.8h0" stroke="#e3140c"/><path d="M498.6 74.7h0" stroke="#93400e"/><path d="M498.8 82.9h0M498.8 87.5h0M499.1 86.9h0" stroke="#e3140c"/><path d="M499.4 79.6h0" stroke="#93400e"/><path d="M499.4 70.7h0" stroke="#e3140c"/><path d="M499.5 74.7h0M499.7 72.9h0" stroke="#93400e"/><path d="M499.8 71.1h0M499.9 66.0h0M500.0 71.2h0" stroke="#e3140c"/><path d="M500.2 73.9h0" stroke="#93400e"/><path d="M500.4 71.3h0M500.8 84.7h0" stroke="#e3140c"/><path d="M501.3 88.3h0M501.4 93.8h0M501.8 93.8h0M502.0 93.8h0M502.3 93.8h0M502.9 93.8h0M503.4 89.7h0M503.4 80.0h0M503.7 79.0h0" stroke="#93400e"/><path d="M503.7 67.0h0" stroke="#e3140c"/><path d="M504.0 73.1h0" stroke="#93400e"/><path d="M504.0 66.0h0" stroke="#e3140c"/><path d="M504.0 73.7h0M504.4 67.0h0M504.5 72.2h0M504.7 75.3h0M504.8 74.3h0M505.2 71.8h0M505.3 74.1h0M505.7 69.6h0M505.7 69.1h0M505.9 74.8h0M506.1 74.1h0M506.1 77.8h0M506.4 77.1h0M506.4 67.6h0M506.6 72.4h0M506.8 71.0h0M507.0 73.3h0M507.4 72.3h0M507.5 70.9h0M507.6 73.8h0M507.6 80.8h0M507.7 81.0h0M507.9 80.0h0M508.3 72.4h0M508.3 68.2h0M508.3 68.4h0M508.4 76.7h0M508.5 74.8h0M508.7 72.3h0M509.0 68.1h0" stroke="#93400e"/><path d="M509.1 61.3h0" stroke="#e3140c"/><path d="M509.3 65.8h0M509.4 70.1h0M509.6 72.4h0M509.6 81.3h0M509.7 82.1h0M509.7 87.8h0M509.7 83.6h0M509.9 78.0h0M510.1 72.8h0M510.2 71.0h0" stroke="#93400e"/><path d="M510.3 63.6h0" stroke="#e3140c"/><path d="M510.6 76.9h0M510.8 68.0h0M510.9 68.3h0M511.2 71.9h0M511.6 73.7h0" stroke="#93400e"/><path d="M512.0 75.6h0M513.1 72.2h0M513.3 68.7h0M513.3 75.1h0M513.4 74.9h0M514.0 74.1h0M514.5 70.8h0M514.5 75.6h0M514.7 69.3h0M515.6 68.6h0M515.6 69.4h0M515.6 65.6h0" stroke="#e3140c"/><path d="M516.4 62.7h0" stroke="#93400e"/><path d="M516.4 65.0h0M516.5 65.2h0" stroke="#e3140c"/><path d="M516.6 59.4h0" stroke="#93400e"/><path d="M516.8 60.7h0M516.8 61.1h0M517.1 68.1h0M517.2 62.7h0M517.3 63.7h0M517.3 69.5h0M517.4 75.6h0M517.4 78.8h0M517.4 72.0h0M517.6 69.0h0M517.7 74.4h0M517.7 62.9h0M518.0 64.9h0M518.1 63.2h0M518.1 67.1h0M518.4 63.6h0M518.4 58.6h0M518.9 59.1h0M519.1 59.7h0M519.2 61.6h0M519.2 70.6h0M519.3 67.1h0M519.9 70.7h0M520.0 72.5h0M520.1 66.2h0M520.1 65.9h0M520.4 71.1h0M520.6 78.3h0M520.7 84.8h0M520.8 83.2h0M520.9 86.8h0M520.9 91.5h0M521.1 86.7h0M521.2 74.7h0M521.2 76.6h0M521.3 77.6h0M521.7 73.4h0M521.9 73.1h0" stroke="#e3140c"/><path d="M337.6 104.0h0" stroke="#93400e"/><path d="M349.3 107.2h0M339.8 102.2h0" stroke="#e3140c"/><path d="M339.0 105.7h0" stroke="#93400e"/><path d="M348.5 108.6h0M341.6 102.6h0M338.2 102.4h0M337.8 103.7h0" stroke="#e3140c"/><path d="M344.5 103.6h0" stroke="#93400e"/><path d="M334.2 103.7h0M347.4 108.3h0M341.6 103.4h0M345.4 105.3h0M345.6 108.6h0" stroke="#e3140c"/><path d="M340.2 106.6h0" stroke="#93400e"/><path d="M344.8 102.1h0" stroke="#c9621c"/><path d="M399.0 91.7h0M398.7 95.7h0M394.1 91.4h0M395.5 91.3h0" stroke="#e3140c"/><path d="M400.3 89.1h0" stroke="#93400e"/><path d="M395.5 89.2h0M406.1 83.6h0M398.2 83.0h0M398.8 83.4h0" stroke="#e3140c"/><path d="M405.4 95.7h0" stroke="#c9621c"/><path d="M399.5 93.0h0M403.7 83.1h0M402.7 92.8h0M398.2 84.3h0M399.3 95.1h0M399.7 84.8h0M394.4 86.1h0" stroke="#e3140c"/><path d="M397.9 88.3h0" stroke="#93400e"/><path d="M394.2 88.1h0" stroke="#e3140c"/><path d="M404.2 89.6h0M422.0 11.0h0M425.0 12.5h0M428.0 11.5h0M524.3 11.2h0M517.8 52.8h0" stroke="#93400e"/><path d="M38.5 70.5h0M39.9 96.5h0" stroke="#63b530"/><path d="M45.8 87.5h0" stroke="#1ee614"/><path d="M42.8 92.9h0" stroke="#8f8f1c"/><path d="M39.8 84.6h0" stroke="#1ee614"/><path d="M44.8 92.0h0M43.6 92.0h0" stroke="#8f8f1c"/><path d="M38.2 94.8h0" stroke="#63b530"/><path d="M42.1 90.9h0M43.3 94.3h0M45.0 93.1h0" stroke="#8f8f1c"/><path d="M41.5 80.0h0M41.2 71.4h0" stroke="#1ee614"/><path d="M43.2 89.9h0" stroke="#8f8f1c"/><path d="M41.9 66.1h0M40.1 76.8h0M42.0 68.5h0M43.8 69.7h0" stroke="#1ee614"/><path d="M44.1 93.8h0" stroke="#8f8f1c"/><path d="M44.1 84.4h0" stroke="#1ee614"/><path d="M42.0 97.6h0" stroke="#8f8f1c"/><path d="M38.9 82.7h0" stroke="#1ee614"/><path d="M40.5 98.9h0M38.8 92.3h0" stroke="#63b530"/><path d="M42.1 89.9h0M46.0 91.0h0" stroke="#8f8f1c"/><path d="M39.8 76.6h0" stroke="#1ee614"/><path d="M38.9 98.2h0" stroke="#63b530"/><path d="M40.7 83.8h0" stroke="#1ee614"/><path d="M43.1 91.7h0" stroke="#8f8f1c"/><path d="M45.4 82.4h0" stroke="#1ee614"/><path d="M40.5 99.2h0M41.2 90.5h0" stroke="#8f8f1c"/><path d="M38.6 69.5h0" stroke="#63b530"/><path d="M55.4 74.8h0M55.3 89.4h0M57.9 89.2h0M54.8 90.2h0M48.9 78.3h0M48.3 91.9h0M55.4 95.7h0M57.3 90.3h0M57.9 88.3h0M57.2 92.6h0M49.6 87.3h0M56.1 89.4h0M50.6 104.6h0M48.6 108.9h0M56.4 113.0h0M49.9 114.8h0M52.0 107.1h0" stroke="#1ee614"/><path d="M54.4 114.1h0" stroke="#63b530"/><path d="M49.3 104.3h0M54.6 114.0h0M51.8 113.5h0M50.1 113.6h0M51.6 106.0h0M54.2 116.6h0M51.4 116.0h0M55.1 110.4h0M48.9 111.0h0M53.0 109.9h0" stroke="#1ee614"/><path d="M54.6 128.7h0M54.6 139.5h0M42.5 43.5h0" stroke="#63b530"/><path d="M121.7 78.9h0M134.6 76.6h0M84.9 95.9h0M85.6 86.5h0M133.0 75.5h0M62.6 80.5h0M120.6 81.9h0M62.1 86.9h0" stroke="#1ee614"/><path d="M139.2 79.0h0" stroke="#63b530"/><path d="M97.5 90.1h0" stroke="#8f8f1c"/><path d="M94.6 93.4h0" stroke="#1ee614"/><path d="M93.7 87.5h0" stroke="#63b530"/><path d="M61.8 94.6h0" stroke="#1ee614"/><path d="M101.8 91.5h0" stroke="#8f8f1c"/><path d="M69.8 82.3h0M109.5 83.2h0M123.9 76.4h0" stroke="#1ee614"/><path d="M99.4 89.6h0" stroke="#8f8f1c"/><path d="M88.3 85.0h0M110.5 76.0h0M86.7 87.3h0M91.7 92.4h0" stroke="#1ee614"/><path d="M142.0 81.7h0" stroke="#63b530"/><path d="M83.5 80.8h0" stroke="#8f8f1c"/><path d="M107.3 92.2h0M123.0 93.6h0M134.1 80.7h0M78.5 79.8h0M121.3 78.3h0" stroke="#1ee614"/><path d="M119.2 83.7h0" stroke="#63b530"/><path d="M77.5 80.8h0M104.7 93.5h0M91.7 86.9h0M141.0 84.4h0M135.5 88.7h0M96.8 83.3h0M127.9 80.1h0M74.5 79.9h0M112.8 76.9h0M89.8 85.3h0M127.6 85.8h0M131.2 94.7h0M67.6 78.6h0M79.9 86.7h0M120.9 78.3h0M67.3 77.8h0M81.2 83.8h0" stroke="#1ee614"/><path d="M69.1 90.4h0" stroke="#63b530"/><path d="M74.4 97.2h0M127.7 93.6h0M89.4 88.7h0" stroke="#1ee614"/><path d="M128.7 80.3h0" stroke="#63b530"/><path d="M82.9 74.6h0M97.3 96.4h0M68.2 80.0h0M72.8 83.7h0M136.3 86.3h0" stroke="#1ee614"/><path d="M139.9 88.4h0" stroke="#63b530"/><path d="M92.9 89.1h0M77.1 90.8h0" stroke="#1ee614"/><path d="M117.1 88.9h0" stroke="#8f8f1c"/><path d="M141.8 92.1h0" stroke="#63b530"/><path d="M64.6 82.7h0M106.8 88.9h0M84.6 75.5h0M128.3 79.6h0M94.3 85.2h0M125.8 89.5h0M95.0 78.0h0M115.5 73.6h0" stroke="#1ee614"/><path d="M91.4 80.7h0" stroke="#8f8f1c"/><path d="M92.4 85.6h0M98.0 81.7h0" stroke="#1ee614"/><path d="M114.3 88.6h0" stroke="#8f8f1c"/><path d="M111.9 89.5h0M109.8 85.6h0M86.9 77.8h0M97.8 76.2h0M106.3 90.7h0M109.0 86.8h0M106.2 93.5h0M84.0 79.5h0M98.0 76.8h0M106.0 78.0h0" stroke="#1ee614"/><path d="M66.3 91.0h0" stroke="#63b530"/><path d="M125.7 90.5h0" stroke="#1ee614"/><path d="M66.2 83.8h0" stroke="#8f8f1c"/><path d="M69.9 86.7h0" stroke="#1ee614"/><path d="M118.9 89.3h0M118.2 92.2h0" stroke="#8f8f1c"/><path d="M94.6 84.1h0M112.1 80.6h0M126.4 92.6h0" stroke="#1ee614"/><path d="M65.1 88.6h0M69.4 90.4h0M71.7 88.7h0M137.2 90.2h0" stroke="#63b530"/><path d="M71.6 77.9h0M113.0 74.4h0" stroke="#1ee614"/><path d="M105.6 82.8h0M138.0 91.5h0M140.2 92.1h0" stroke="#63b530"/><path d="M65.2 79.3h0M105.1 93.0h0M62.0 80.9h0M83.4 83.6h0M120.6 83.1h0M112.9 86.4h0M141.2 80.8h0M74.7 77.7h0M81.2 79.8h0M75.4 83.0h0M98.3 84.1h0M141.3 80.9h0" stroke="#1ee614"/><path d="M69.6 80.2h0" stroke="#8f8f1c"/><path d="M68.1 79.4h0M96.3 79.3h0M114.3 86.5h0M84.1 85.6h0" stroke="#1ee614"/><path d="M141.2 76.6h0" stroke="#63b530"/><path d="M138.5 81.6h0" stroke="#8f8f1c"/><path d="M121.8 83.7h0" stroke="#1ee614"/><path d="M116.1 94.8h0" stroke="#8f8f1c"/><path d="M92.6 85.2h0M110.7 87.0h0M77.0 91.7h0" stroke="#1ee614"/><path d="M137.0 83.3h0" stroke="#63b530"/><path d="M113.0 80.7h0M95.4 77.9h0M139.8 84.5h0M85.1 72.5h0" stroke="#1ee614"/><path d="M96.3 92.1h0" stroke="#8f8f1c"/><path d="M93.3 91.9h0M77.9 74.1h0M104.2 78.2h0M71.2 85.8h0" stroke="#1ee614"/><path d="M116.9 91.0h0" stroke="#8f8f1c"/><path d="M93.6 84.8h0" stroke="#1ee614"/><path d="M134.4 83.4h0" stroke="#63b530"/><path d="M118.9 87.8h0M82.3 80.7h0M134.2 91.3h0M118.4 81.5h0" stroke="#1ee614"/><path d="M138.4 76.9h0" stroke="#63b530"/><path d="M105.1 87.5h0" stroke="#1ee614"/><path d="M81.6 83.2h0" stroke="#63b530"/><path d="M132.0 77.7h0M138.3 87.4h0M98.6 83.6h0M78.7 95.3h0M132.9 92.5h0M86.9 86.0h0" stroke="#1ee614"/><path d="M122.1 79.2h0" stroke="#63b530"/><path d="M111.0 90.3h0M84.3 83.5h0M95.1 90.2h0M93.0 76.0h0M106.6 78.2h0M120.1 76.3h0M95.9 77.5h0" stroke="#1ee614"/><path d="M131.5 80.3h0" stroke="#8f8f1c"/><path d="M109.9 77.8h0M68.6 78.2h0M105.5 95.4h0M101.6 79.4h0M111.8 90.9h0M90.9 93.8h0M130.0 93.9h0M111.9 88.5h0M106.4 77.7h0M111.2 82.3h0" stroke="#1ee614"/><path d="M139.4 79.1h0M63.3 76.0h0" stroke="#63b530"/><path d="M141.3 80.7h0M117.1 82.8h0M72.7 87.4h0M96.5 84.2h0M122.5 83.2h0" stroke="#1ee614"/><path d="M118.2 90.8h0M116.2 89.2h0" stroke="#8f8f1c"/><path d="M132.5 83.6h0M89.6 90.4h0" stroke="#1ee614"/><path d="M121.0 79.1h0" stroke="#63b530"/><path d="M85.8 91.1h0M78.7 82.0h0M120.8 82.2h0M137.4 82.8h0M91.9 80.3h0M132.7 79.3h0" stroke="#1ee614"/><path d="M115.8 89.9h0" stroke="#8f8f1c"/><path d="M95.0 94.0h0" stroke="#63b530"/><path d="M72.9 85.9h0M124.5 71.7h0M109.0 87.5h0M126.8 80.5h0M80.8 80.0h0" stroke="#1ee614"/><path d="M115.7 93.8h0" stroke="#8f8f1c"/><path d="M117.4 77.8h0M64.9 87.8h0M112.0 87.2h0" stroke="#1ee614"/><path d="M86.3 86.2h0" stroke="#63b530"/><path d="M97.7 80.3h0M83.2 92.2h0M135.9 71.9h0M114.1 83.8h0" stroke="#1ee614"/><path d="M68.9 93.2h0" stroke="#63b530"/><path d="M111.5 79.3h0" stroke="#1ee614"/><path d="M137.5 77.0h0" stroke="#63b530"/><path d="M130.9 80.5h0M133.5 78.5h0M73.1 93.3h0M122.2 89.7h0M110.1 75.5h0M95.1 91.9h0" stroke="#1ee614"/><path d="M87.6 84.4h0" stroke="#8f8f1c"/><path d="M90.3 92.9h0M77.3 84.9h0M137.3 82.5h0M99.0 80.3h0M102.1 83.6h0M120.7 87.3h0M125.6 96.2h0M81.8 85.6h0M137.6 87.1h0M77.2 94.4h0" stroke="#1ee614"/><path d="M84.9 84.7h0" stroke="#63b530"/><path d="M99.0 79.6h0" stroke="#1ee614"/><path d="M80.5 85.8h0" stroke="#63b530"/><path d="M129.7 80.3h0M108.0 77.9h0M101.6 84.1h0M62.3 91.4h0M106.5 74.5h0M128.4 88.1h0M93.4 87.0h0M130.7 75.8h0M61.6 91.2h0" stroke="#1ee614"/><path d="M65.7 88.9h0" stroke="#63b530"/><path d="M125.7 75.9h0" stroke="#8f8f1c"/><path d="M95.7 80.1h0M124.2 82.2h0M78.1 89.0h0M131.2 81.0h0" stroke="#1ee614"/><path d="M93.1 94.2h0" stroke="#63b530"/><path d="M109.8 86.1h0M74.4 80.5h0M82.4 94.9h0M141.2 96.4h0M105.4 93.0h0" stroke="#1ee614"/><path d="M116.8 88.2h0M114.0 88.0h0" stroke="#8f8f1c"/><path d="M75.9 92.9h0M73.4 89.1h0M91.9 77.7h0M99.8 76.5h0M69.4 79.1h0M88.3 72.7h0" stroke="#1ee614"/><path d="M138.3 75.8h0" stroke="#63b530"/><path d="M111.8 76.9h0" stroke="#1ee614"/><path d="M69.8 91.7h0" stroke="#63b530"/><path d="M89.5 93.9h0" stroke="#1ee614"/><path d="M115.3 88.2h0" stroke="#8f8f1c"/><path d="M62.3 75.6h0M105.4 82.8h0M124.5 95.3h0M89.6 89.3h0M94.5 80.1h0M91.3 85.8h0M73.7 80.8h0" stroke="#1ee614"/><path d="M121.1 74.8h0" stroke="#8f8f1c"/><path d="M72.9 92.1h0M125.6 83.8h0M74.4 83.4h0M67.1 81.6h0M109.5 96.2h0" stroke="#1ee614"/><path d="M137.1 95.8h0" stroke="#63b530"/><path d="M82.8 91.8h0" stroke="#1ee614"/><path d="M140.6 91.2h0" stroke="#63b530"/><path d="M65.2 79.5h0M107.6 84.1h0M81.3 92.7h0M118.0 86.3h0M92.4 90.0h0M79.6 90.0h0M94.0 90.8h0M72.5 74.2h0" stroke="#1ee614"/><path d="M113.1 93.6h0" stroke="#8f8f1c"/><path d="M90.3 77.5h0M123.3 80.4h0" stroke="#1ee614"/><path d="M137.6 94.4h0" stroke="#63b530"/><path d="M63.0 77.5h0M84.5 91.4h0M135.7 86.9h0M132.7 77.6h0M95.9 92.8h0" stroke="#1ee614"/><path d="M138.5 79.8h0" stroke="#63b530"/><path d="M105.3 85.5h0M87.4 79.6h0M84.7 79.0h0M108.3 85.5h0M125.0 82.9h0M104.5 76.4h0M98.7 82.0h0" stroke="#1ee614"/><path d="M96.5 88.7h0" stroke="#8f8f1c"/><path d="M126.3 82.0h0M123.9 87.0h0M98.8 77.0h0M89.3 93.5h0" stroke="#1ee614"/><path d="M67.7 80.5h0" stroke="#8f8f1c"/><path d="M87.0 79.9h0M124.2 87.4h0" stroke="#1ee614"/><path d="M113.3 90.6h0" stroke="#8f8f1c"/><path d="M114.0 87.9h0M77.4 75.0h0M77.1 82.2h0M103.9 80.1h0" stroke="#1ee614"/><path d="M66.7 84.0h0" stroke="#63b530"/><path d="M97.8 94.7h0" stroke="#8f8f1c"/><path d="M79.7 83.8h0M108.8 93.7h0M122.5 76.0h0M131.2 76.5h0M63.9 90.2h0M67.8 87.3h0M82.8 96.9h0M79.2 83.0h0M123.4 93.4h0M133.9 89.7h0" stroke="#1ee614"/><path d="M126.9 76.2h0" stroke="#8f8f1c"/><path d="M140.0 77.3h0" stroke="#63b530"/><path d="M63.1 90.9h0M76.7 92.6h0M122.7 82.6h0" stroke="#1ee614"/><path d="M65.6 92.9h0" stroke="#63b530"/><path d="M98.3 90.3h0" stroke="#8f8f1c"/><path d="M70.3 80.7h0M140.8 88.2h0" stroke="#63b530"/><path d="M92.2 86.3h0M95.4 82.8h0M134.2 74.3h0M110.6 85.4h0M122.1 92.6h0M130.7 86.2h0M102.9 83.1h0" stroke="#1ee614"/><path d="M84.4 82.2h0M142.4 78.5h0" stroke="#63b530"/><path d="M103.4 82.7h0M84.9 88.7h0" stroke="#1ee614"/><path d="M115.3 88.9h0" stroke="#8f8f1c"/><path d="M86.2 89.9h0M108.4 91.3h0M108.2 83.7h0M72.4 90.4h0M74.8 78.5h0M126.7 86.0h0M68.5 86.6h0M85.0 79.2h0M127.7 71.7h0M118.5 83.3h0M80.7 79.2h0" stroke="#1ee614"/><path d="M82.8 80.7h0" stroke="#8f8f1c"/><path d="M125.1 85.2h0M129.6 88.0h0" stroke="#1ee614"/><path d="M89.7 80.6h0" stroke="#8f8f1c"/><path d="M135.5 76.8h0M62.8 86.2h0M120.6 81.7h0M72.6 74.3h0" stroke="#1ee614"/><path d="M69.0 90.3h0" stroke="#63b530"/><path d="M62.2 83.0h0M91.4 79.7h0M103.2 86.2h0M81.6 92.6h0M110.2 89.1h0" stroke="#1ee614"/><path d="M137.8 91.8h0" stroke="#63b530"/><path d="M87.6 80.4h0M116.2 80.4h0M109.4 81.3h0M73.1 78.2h0M118.4 79.1h0M122.2 82.3h0M61.9 89.5h0M97.0 87.5h0M88.1 89.9h0M96.8 79.9h0M93.3 91.3h0" stroke="#1ee614"/><path d="M138.8 94.1h0M64.9 74.4h0" stroke="#63b530"/><path d="M108.8 78.6h0" stroke="#1ee614"/><path d="M119.8 84.9h0M67.4 91.5h0" stroke="#63b530"/><path d="M119.8 84.0h0" stroke="#8f8f1c"/><path d="M90.2 78.3h0M93.0 86.6h0M130.2 86.8h0" stroke="#1ee614"/><path d="M77.2 98.6h0" stroke="#63b530"/><path d="M94.1 86.7h0M126.1 92.3h0M83.9 90.4h0M71.2 81.2h0M87.1 91.5h0M107.2 78.8h0M85.4 76.6h0M130.3 94.3h0M78.9 75.1h0M127.1 95.1h0M108.9 94.2h0" stroke="#1ee614"/><path d="M96.7 91.0h0" stroke="#8f8f1c"/><path d="M129.8 75.8h0" stroke="#1ee614"/><path d="M93.8 85.7h0" stroke="#63b530"/><path d="M127.9 83.0h0M74.8 91.2h0" stroke="#1ee614"/><path d="M140.4 76.9h0" stroke="#63b530"/><path d="M103.8 91.3h0" stroke="#8f8f1c"/><path d="M123.6 95.9h0M86.0 82.3h0M129.8 93.1h0" stroke="#1ee614"/><path d="M99.1 88.8h0" stroke="#8f8f1c"/><path d="M86.3 87.3h0M82.5 78.1h0M111.4 75.5h0" stroke="#1ee614"/><path d="M136.2 81.7h0" stroke="#63b530"/><path d="M81.7 91.4h0M128.5 96.1h0" stroke="#1ee614"/><path d="M65.8 92.6h0M66.3 89.1h0M139.0 88.6h0M109.0 85.2h0M139.2 92.9h0" stroke="#63b530"/><path d="M142.6 81.3h0" stroke="#1ee614"/><path d="M68.9 96.0h0" stroke="#63b530"/><path d="M93.3 75.3h0M88.9 87.4h0M104.8 82.6h0M72.2 93.4h0" stroke="#1ee614"/><path d="M90.5 94.3h0M67.3 76.3h0" stroke="#63b530"/><path d="M119.9 88.1h0" stroke="#8f8f1c"/><path d="M94.8 88.3h0M88.6 76.3h0" stroke="#1ee614"/><path d="M141.0 88.5h0" stroke="#63b530"/><path d="M105.5 78.2h0M81.8 92.8h0M88.1 93.0h0" stroke="#1ee614"/><path d="M96.0 90.5h0" stroke="#8f8f1c"/><path d="M90.5 86.2h0M125.8 73.0h0M134.9 84.5h0M79.5 94.4h0M85.5 93.2h0M113.0 75.6h0M123.5 87.7h0" stroke="#1ee614"/><path d="M141.8 92.9h0" stroke="#63b530"/><path d="M106.8 92.8h0M70.9 87.4h0M127.0 86.9h0M127.2 82.3h0M106.4 89.0h0M107.7 86.8h0M120.7 83.6h0M235.2 85.6h0M215.8 81.3h0" stroke="#1ee614"/><path d="M229.5 91.0h0" stroke="#8f8f1c"/><path d="M195.7 83.8h0M163.8 81.0h0M237.0 91.0h0M153.9 81.3h0M158.6 86.0h0" stroke="#1ee614"/><path d="M230.3 91.9h0" stroke="#8f8f1c"/><path d="M187.5 95.8h0M153.7 86.5h0M194.2 93.4h0M204.4 85.6h0M202.7 84.6h0M233.1 91.1h0M151.2 88.4h0M200.6 84.8h0M213.9 91.7h0M165.7 86.3h0M236.1 91.1h0M229.6 82.9h0M148.8 82.7h0M194.2 84.6h0M171.8 94.3h0M203.1 95.7h0" stroke="#1ee614"/><path d="M228.1 88.7h0" stroke="#8f8f1c"/><path d="M213.7 84.2h0M169.1 94.1h0M199.8 90.6h0M153.2 87.9h0" stroke="#1ee614"/><path d="M227.6 88.7h0" stroke="#8f8f1c"/><path d="M199.9 84.4h0M236.5 84.6h0M147.0 84.4h0M187.3 84.5h0M148.0 84.8h0M166.4 91.2h0M148.8 95.0h0M201.6 90.6h0" stroke="#1ee614"/><path d="M225.3 90.5h0" stroke="#8f8f1c"/><path d="M189.0 93.6h0M206.5 83.4h0M235.5 87.1h0M150.2 92.2h0M232.4 88.7h0M213.9 93.7h0M159.7 92.8h0M191.8 83.8h0M157.0 93.3h0M237.7 79.9h0M165.6 93.4h0M191.1 91.2h0M219.1 84.8h0" stroke="#1ee614"/><path d="M225.2 88.2h0" stroke="#8f8f1c"/><path d="M152.1 81.7h0M166.4 83.3h0M170.6 91.8h0M194.6 93.4h0M147.2 95.9h0M147.1 86.6h0M206.1 80.8h0M213.8 88.8h0M187.8 87.6h0M173.2 95.5h0M171.6 82.3h0M162.4 82.5h0M188.2 89.4h0" stroke="#1ee614"/><path d="M195.5 94.7h0" stroke="#63b530"/><path d="M178.3 93.0h0M170.0 87.2h0M167.2 91.2h0M157.1 82.4h0M169.1 88.7h0M228.9 85.2h0" stroke="#1ee614"/><path d="M155.4 89.1h0" stroke="#63b530"/><path d="M232.6 82.2h0M194.1 80.7h0M195.3 85.4h0M184.2 89.1h0M174.0 94.9h0M182.0 92.0h0M177.6 96.0h0" stroke="#1ee614"/><path d="M226.1 94.9h0" stroke="#8f8f1c"/><path d="M234.3 88.6h0M222.4 85.9h0M235.0 84.5h0M183.1 81.2h0M147.0 93.5h0M179.6 83.1h0M209.4 88.8h0M236.6 94.8h0M234.9 91.3h0M190.1 88.6h0M197.9 95.2h0M200.3 88.6h0M177.4 89.9h0M237.0 85.8h0M212.9 95.9h0M155.6 87.8h0M233.0 89.0h0" stroke="#1ee614"/><path d="M154.1 88.9h0" stroke="#63b530"/><path d="M217.1 96.3h0M161.0 82.6h0M150.7 87.2h0M223.4 82.5h0M186.4 85.2h0M187.4 91.3h0M197.0 89.4h0M195.8 85.0h0M185.2 92.9h0M179.8 84.1h0M232.4 82.7h0M151.8 87.5h0M215.4 90.4h0M157.7 82.8h0M204.0 84.0h0M177.7 90.5h0M159.0 87.5h0M169.4 94.0h0M217.8 95.2h0M152.9 85.6h0M234.7 86.3h0M204.2 83.7h0M167.8 85.0h0M203.8 89.1h0M184.3 95.3h0" stroke="#1ee614"/><path d="M224.3 91.4h0" stroke="#8f8f1c"/><path d="M202.4 94.0h0M217.0 91.9h0M172.5 91.2h0M191.4 87.2h0M211.3 84.6h0M230.9 81.5h0M199.0 91.2h0M174.0 84.3h0M171.5 82.3h0M220.3 80.8h0M229.9 81.8h0M220.0 86.0h0M171.5 93.4h0M192.1 88.7h0M214.6 85.5h0M207.6 98.1h0M214.4 92.9h0" stroke="#1ee614"/><path d="M155.4 88.8h0" stroke="#63b530"/><path d="M173.5 82.7h0M207.1 84.0h0M176.6 95.8h0M161.9 91.1h0M164.3 94.2h0M222.5 94.4h0M238.3 87.1h0M161.1 87.3h0M205.4 81.8h0M235.2 90.0h0M221.8 84.3h0M197.3 85.5h0" stroke="#1ee614"/><path d="M215.3 81.6h0" stroke="#63b530"/><path d="M187.1 85.5h0M220.5 93.1h0M206.7 95.6h0M225.4 86.4h0M198.1 89.9h0M178.6 87.5h0M200.4 87.5h0M169.9 90.9h0" stroke="#1ee614"/><path d="M230.7 89.3h0M227.6 84.6h0" stroke="#8f8f1c"/><path d="M205.5 94.1h0M152.8 90.1h0M162.6 83.9h0M165.6 92.1h0M186.7 91.2h0M161.8 82.6h0M168.8 83.9h0M215.4 85.9h0M195.8 84.5h0M205.0 82.6h0M162.6 87.1h0M203.0 90.4h0M225.5 85.1h0M199.1 83.4h0M206.3 85.0h0M204.3 88.6h0M199.2 85.7h0" stroke="#1ee614"/><path d="M230.7 92.4h0" stroke="#8f8f1c"/><path d="M168.2 82.5h0M169.5 80.7h0M166.0 87.5h0M153.4 92.3h0M183.0 91.8h0M192.1 85.7h0" stroke="#1ee614"/><path d="M228.2 81.5h0" stroke="#63b530"/><path d="M222.5 95.3h0M169.1 90.4h0M174.7 82.2h0M184.2 92.6h0M168.8 88.9h0M211.5 85.8h0M236.1 83.3h0M235.0 84.2h0M234.9 93.3h0M154.7 93.1h0M191.2 86.9h0M182.6 81.9h0M216.9 91.3h0M214.4 90.8h0M212.4 90.7h0" stroke="#1ee614"/><path d="M226.7 96.1h0" stroke="#63b530"/><path d="M189.4 83.2h0M154.8 90.6h0M210.1 80.2h0M181.7 84.2h0M208.5 81.6h0M174.7 92.2h0M185.8 90.9h0" stroke="#1ee614"/><path d="M159.0 90.9h0" stroke="#63b530"/><path d="M218.0 92.1h0M199.2 89.9h0M185.4 90.4h0M208.7 86.4h0M163.5 96.4h0M149.5 92.9h0M148.6 87.8h0M208.2 88.3h0M163.3 94.5h0M183.7 90.6h0M153.0 84.4h0M176.6 92.8h0M181.4 89.0h0M202.2 82.5h0M148.0 93.8h0M197.7 92.2h0M180.4 90.2h0M212.0 91.1h0M238.3 84.4h0M149.4 86.6h0M223.8 86.0h0M199.8 87.4h0M198.2 94.3h0M208.3 84.8h0M217.1 92.5h0M226.6 81.2h0M232.9 89.0h0M160.1 83.5h0M207.1 95.3h0M164.8 81.5h0M163.3 81.7h0M208.5 86.3h0M238.2 92.6h0M184.4 85.7h0M166.6 92.7h0M218.5 88.6h0M194.9 89.1h0M236.3 85.9h0M177.9 79.3h0M166.6 87.1h0M171.4 93.3h0M181.0 87.8h0M226.7 84.7h0M182.2 85.9h0M203.4 82.8h0M221.7 90.2h0M154.7 94.5h0M177.4 85.3h0M234.9 92.9h0M170.5 84.1h0M178.1 88.5h0M169.1 92.7h0M224.7 84.4h0M188.7 89.7h0M156.6 90.9h0M230.3 83.7h0M235.0 85.4h0M169.0 85.7h0M199.1 84.9h0M165.0 85.4h0M218.7 89.4h0M216.8 81.4h0M233.2 95.9h0M191.7 87.8h0" stroke="#1ee614"/><path d="M228.0 85.5h0" stroke="#63b530"/><path d="M154.5 89.6h0M170.7 84.3h0M156.7 86.5h0M232.2 82.8h0M182.7 90.7h0M170.1 89.3h0M222.5 85.6h0M153.0 84.2h0M191.2 88.7h0M156.0 81.0h0M216.0 83.5h0M173.5 89.9h0M171.6 79.8h0M223.4 95.5h0M184.0 86.3h0M200.3 89.2h0M215.6 82.3h0" stroke="#1ee614"/><path d="M213.3 86.4h0" stroke="#63b530"/><path d="M167.5 82.1h0M235.4 82.4h0" stroke="#1ee614"/><path d="M226.3 88.7h0" stroke="#8f8f1c"/><path d="M181.3 88.9h0M150.1 89.5h0" stroke="#1ee614"/><path d="M225.6 90.1h0" stroke="#8f8f1c"/><path d="M214.7 81.9h0M226.1 82.9h0M218.4 91.5h0M174.1 91.0h0M193.8 95.8h0M189.3 88.4h0M177.2 88.9h0M179.4 83.1h0M217.1 85.8h0M211.2 90.1h0M166.6 91.8h0" stroke="#1ee614"/><path d="M230.9 89.4h0" stroke="#8f8f1c"/><path d="M199.8 94.1h0M183.1 81.3h0M156.6 82.7h0M147.9 83.3h0M178.8 83.8h0M193.8 93.7h0M159.2 84.8h0M162.0 84.4h0M202.8 96.3h0M168.1 87.3h0M194.0 81.1h0M166.7 91.4h0M215.5 84.4h0M197.8 95.8h0M172.9 91.5h0M197.6 85.4h0M149.3 86.9h0M155.9 90.3h0M205.9 86.0h0M237.0 85.3h0" stroke="#1ee614"/><path d="M229.3 91.1h0" stroke="#8f8f1c"/><path d="M203.1 92.4h0M187.7 89.4h0M184.0 90.0h0M204.6 87.0h0M164.5 92.3h0M151.2 92.9h0M195.1 93.1h0M156.2 84.2h0" stroke="#1ee614"/><path d="M175.2 79.3h0" stroke="#63b530"/><path d="M212.1 88.9h0M146.7 92.9h0" stroke="#1ee614"/><path d="M210.3 82.0h0" stroke="#8f8f1c"/><path d="M181.0 90.4h0M235.3 92.3h0M235.3 95.3h0M207.1 95.7h0M146.8 81.1h0M198.9 88.3h0M173.3 95.8h0M158.0 92.3h0M220.8 95.5h0M157.4 82.3h0M229.4 82.6h0" stroke="#1ee614"/><path d="M230.9 88.8h0" stroke="#8f8f1c"/><path d="M188.4 86.9h0" stroke="#1ee614"/><path d="M224.1 92.6h0" stroke="#8f8f1c"/><path d="M149.9 92.2h0M218.6 94.5h0" stroke="#1ee614"/><path d="M157.5 88.4h0" stroke="#8f8f1c"/><path d="M184.2 81.5h0M168.9 83.3h0M181.7 90.9h0M216.3 87.3h0" stroke="#1ee614"/><path d="M159.6 89.5h0" stroke="#8f8f1c"/><path d="M148.8 90.4h0M176.1 88.1h0M154.9 93.2h0M152.3 91.5h0M185.3 93.7h0M148.1 92.3h0M191.7 92.6h0M232.9 83.7h0M228.6 82.3h0" stroke="#1ee614"/><path d="M224.1 93.8h0" stroke="#8f8f1c"/><path d="M184.7 85.6h0M146.9 93.7h0M155.8 82.8h0" stroke="#1ee614"/><path d="M214.2 85.7h0" stroke="#8f8f1c"/><path d="M185.4 92.1h0" stroke="#1ee614"/><path d="M224.7 83.9h0" stroke="#8f8f1c"/><path d="M165.9 91.7h0M217.8 85.2h0M188.5 91.1h0M174.8 87.4h0M217.1 80.6h0M172.9 86.7h0M210.9 91.9h0M148.9 85.2h0M170.9 95.6h0M170.4 83.4h0M164.2 82.2h0M151.1 91.5h0M208.2 89.5h0" stroke="#1ee614"/><path d="M226.7 88.6h0" stroke="#8f8f1c"/><path d="M157.4 85.6h0M178.5 93.0h0M166.5 88.8h0M190.2 89.9h0M222.8 83.3h0M209.6 89.3h0M188.7 81.7h0M212.3 83.9h0M218.3 94.5h0M221.1 90.2h0M194.3 83.6h0M179.6 82.9h0" stroke="#1ee614"/><path d="M229.0 93.0h0" stroke="#8f8f1c"/><path d="M186.5 94.2h0" stroke="#1ee614"/><path d="M158.4 93.5h0" stroke="#63b530"/><path d="M169.7 80.7h0M157.9 93.4h0M187.7 82.6h0M164.5 84.6h0M171.0 95.3h0M203.7 94.7h0M214.8 86.0h0M237.2 89.7h0" stroke="#1ee614"/><path d="M230.1 89.2h0" stroke="#8f8f1c"/><path d="M208.3 92.9h0M204.6 83.8h0M233.8 83.5h0M249.9 98.6h0M245.4 91.7h0M254.9 91.5h0M259.1 98.7h0M251.9 91.8h0M250.0 99.1h0M246.4 86.4h0M255.4 93.8h0M245.4 89.3h0M253.6 88.0h0M250.7 91.2h0" stroke="#1ee614"/><path d="M246.1 99.9h0" stroke="#63b530"/><path d="M253.6 99.7h0M258.1 92.0h0M259.4 94.3h0M260.1 82.2h0M247.7 87.6h0" stroke="#1ee614"/><path d="M248.0 100.8h0" stroke="#63b530"/><path d="M245.1 90.5h0M248.6 84.0h0M243.8 87.2h0M256.5 94.8h0M256.3 98.6h0M249.1 88.7h0M242.9 88.4h0M245.2 90.7h0M257.7 95.3h0M259.4 96.6h0M257.4 90.4h0M250.5 100.7h0" stroke="#1ee614"/><path d="M244.6 99.1h0" stroke="#63b530"/><path d="M242.5 86.1h0M244.9 89.0h0M248.9 87.4h0M251.3 86.4h0" stroke="#1ee614"/><path d="M244.5 96.9h0" stroke="#63b530"/><path d="M242.6 81.7h0M248.7 98.8h0M245.0 91.8h0M248.6 89.2h0M250.0 98.3h0M245.4 87.8h0M252.4 93.2h0" stroke="#1ee614"/><path d="M243.9 100.5h0" stroke="#63b530"/><path d="M256.2 99.7h0M243.8 95.4h0M260.4 84.4h0M259.0 93.2h0M246.0 95.7h0M243.0 94.7h0" stroke="#1ee614"/><path d="M246.5 100.5h0" stroke="#63b530"/><path d="M250.7 85.9h0M259.7 86.9h0M249.2 86.8h0M257.6 101.6h0M253.4 88.1h0M256.3 92.8h0M258.4 94.6h0M249.6 81.4h0M251.8 95.0h0M250.0 95.6h0M260.4 101.5h0M259.5 97.9h0M258.0 99.7h0M255.9 100.1h0M242.7 82.0h0" stroke="#1ee614"/><path d="M247.5 99.8h0" stroke="#63b530"/><path d="M259.7 101.9h0" stroke="#1ee614"/><path d="M246.4 98.6h0" stroke="#63b530"/><path d="M254.9 90.0h0M259.1 101.6h0M258.2 90.2h0M247.1 91.0h0M259.4 81.4h0M242.5 91.0h0" stroke="#1ee614"/><path d="M244.6 101.1h0" stroke="#63b530"/><path d="M252.9 80.4h0M242.7 90.4h0M242.5 92.1h0M259.6 86.6h0" stroke="#1ee614"/><path d="M293.3 86.7h0" stroke="#8f8f1c"/><path d="M291.5 86.7h0M277.0 101.6h0M287.1 89.4h0M291.4 86.6h0M276.2 91.8h0M272.7 90.6h0M275.2 87.5h0M267.1 89.7h0M275.2 98.2h0M268.1 89.2h0" stroke="#1ee614"/><path d="M271.6 94.9h0" stroke="#63b530"/><path d="M285.9 86.3h0M281.0 93.7h0M287.0 96.0h0M282.3 92.0h0M272.3 85.7h0M294.2 93.7h0M271.4 96.2h0M274.5 100.0h0M287.0 95.3h0M275.4 89.6h0M294.4 98.9h0M287.7 87.9h0M277.1 97.7h0M286.7 89.3h0M278.5 91.5h0M289.3 91.6h0M265.6 90.4h0M269.4 95.8h0M282.1 89.2h0M294.5 86.7h0M278.1 92.4h0" stroke="#1ee614"/><path d="M282.3 93.1h0" stroke="#63b530"/><path d="M285.3 90.3h0M273.5 98.6h0" stroke="#1ee614"/><path d="M281.4 92.9h0" stroke="#63b530"/><path d="M293.3 99.4h0M286.4 97.6h0M283.8 94.1h0M277.8 95.2h0M276.6 100.0h0M283.8 99.7h0" stroke="#1ee614"/><path d="M287.8 94.8h0" stroke="#63b530"/><path d="M286.3 84.9h0M274.6 90.8h0M289.0 96.0h0M288.6 89.7h0M291.4 90.9h0M271.5 99.8h0M281.6 94.9h0M273.0 87.3h0M275.2 99.3h0M274.5 87.5h0M283.2 92.5h0M286.8 89.0h0M293.6 89.3h0M269.8 93.5h0M271.2 94.6h0M283.4 91.5h0M269.8 96.2h0M283.0 91.3h0M285.4 94.5h0M276.0 97.3h0M276.1 91.4h0M293.0 94.4h0" stroke="#1ee614"/><path d="M267.4 97.2h0" stroke="#63b530"/><path d="M278.6 98.6h0M269.8 94.3h0M284.7 96.8h0M290.6 94.4h0M277.2 94.0h0M274.3 91.8h0M286.8 85.5h0M293.2 90.1h0M263.8 89.8h0M282.1 96.0h0M264.1 88.2h0M282.5 92.7h0M271.7 95.1h0M290.1 97.6h0M285.6 91.0h0M274.1 90.4h0M279.1 90.7h0M274.3 96.0h0M266.8 93.7h0M278.3 92.8h0M281.2 86.4h0" stroke="#1ee614"/><path d="M269.8 100.6h0" stroke="#8f8f1c"/><path d="M270.5 97.1h0" stroke="#63b530"/><path d="M265.4 85.5h0M276.7 99.1h0M282.2 100.1h0M279.9 86.0h0M293.9 96.5h0M281.1 88.5h0M293.0 98.4h0M273.2 94.0h0M287.8 98.6h0M287.7 96.1h0M280.8 88.9h0" stroke="#1ee614"/><path d="M270.7 98.3h0" stroke="#8f8f1c"/><path d="M264.3 98.3h0" stroke="#63b530"/><path d="M272.7 97.2h0M277.7 88.6h0" stroke="#1ee614"/><path d="M271.5 88.8h0" stroke="#63b530"/><path d="M271.5 94.3h0M290.7 100.1h0M267.5 86.3h0M272.3 86.5h0M320.1 85.1h0M331.9 96.8h0M317.0 91.0h0" stroke="#1ee614"/><path d="M334.6 88.2h0M330.2 93.9h0M335.7 89.3h0" stroke="#8f8f1c"/><path d="M326.3 100.4h0M320.3 96.4h0M332.2 85.2h0M334.8 87.6h0M332.9 97.7h0" stroke="#1ee614"/><path d="M334.3 94.4h0" stroke="#8f8f1c"/><path d="M322.7 98.2h0M324.3 87.2h0" stroke="#1ee614"/><path d="M335.7 88.6h0M330.4 93.5h0" stroke="#8f8f1c"/><path d="M324.9 87.6h0" stroke="#1ee614"/><path d="M331.8 93.4h0" stroke="#8f8f1c"/><path d="M327.8 91.9h0M320.6 91.7h0M336.9 92.7h0M312.1 96.9h0M336.9 86.8h0M321.6 91.8h0M319.0 95.7h0M327.9 92.4h0" stroke="#1ee614"/><path d="M331.2 92.5h0" stroke="#8f8f1c"/><path d="M328.6 87.6h0" stroke="#1ee614"/><path d="M331.7 91.6h0" stroke="#8f8f1c"/><path d="M312.1 89.6h0M316.4 98.7h0M336.3 90.3h0M334.4 87.5h0" stroke="#1ee614"/><path d="M329.8 95.6h0M332.6 92.6h0" stroke="#8f8f1c"/><path d="M323.6 100.4h0" stroke="#1ee614"/><path d="M335.8 94.1h0" stroke="#8f8f1c"/><path d="M319.4 91.9h0M330.0 97.8h0" stroke="#1ee614"/><path d="M329.2 88.4h0" stroke="#8f8f1c"/><path d="M337.1 87.8h0M329.2 96.8h0M315.5 97.8h0M314.9 91.9h0M322.6 89.3h0M312.1 96.4h0M315.2 88.4h0M333.4 96.7h0M312.9 91.4h0M321.7 98.0h0" stroke="#1ee614"/><path d="M329.9 92.0h0" stroke="#8f8f1c"/><path d="M337.6 88.3h0M326.3 89.2h0M315.4 91.8h0M313.9 95.9h0M322.1 94.2h0M312.2 93.8h0" stroke="#1ee614"/><path d="M315.3 86.8h0" stroke="#63b530"/><path d="M326.1 98.3h0" stroke="#1ee614"/><path d="M320.2 94.5h0" stroke="#63b530"/><path d="M336.0 99.7h0" stroke="#1ee614"/><path d="M330.9 89.5h0" stroke="#8f8f1c"/><path d="M323.6 91.0h0M335.0 96.9h0M316.0 90.4h0M333.9 100.5h0" stroke="#1ee614"/><path d="M321.7 91.1h0" stroke="#63b530"/><path d="M325.8 97.5h0" stroke="#1ee614"/><path d="M319.5 87.2h0" stroke="#63b530"/><path d="M329.6 102.2h0" stroke="#1ee614"/><path d="M330.9 89.9h0" stroke="#8f8f1c"/><path d="M323.4 87.9h0" stroke="#1ee614"/><path d="M328.5 88.1h0M332.3 94.5h0" stroke="#8f8f1c"/><path d="M326.0 92.4h0M338.1 99.5h0M315.4 92.2h0M328.3 98.9h0M321.9 97.6h0M324.8 88.2h0M312.4 98.2h0M312.8 97.4h0M322.7 87.1h0M323.1 86.8h0M325.7 87.8h0M316.5 99.1h0M317.3 91.0h0M337.7 95.4h0" stroke="#1ee614"/><path d="M332.3 88.8h0" stroke="#8f8f1c"/><path d="M319.7 91.6h0M323.6 94.0h0M316.7 95.6h0M317.6 99.3h0" stroke="#1ee614"/><path d="M332.9 93.3h0M335.7 94.9h0" stroke="#8f8f1c"/><path d="M290.7 93.6h0M293.1 102.0h0M264.2 85.5h0M274.9 80.5h0M271.8 84.3h0" stroke="#1ee614"/><path d="M268.0 90.8h0" stroke="#8f8f1c"/><path d="M287.9 80.8h0" stroke="#1ee614"/><path d="M265.1 100.2h0" stroke="#8f8f1c"/><path d="M271.4 96.4h0" stroke="#63b530"/><path d="M276.6 96.4h0M291.7 105.7h0M285.0 85.7h0M270.9 82.9h0" stroke="#1ee614"/><path d="M264.3 93.3h0" stroke="#8f8f1c"/><path d="M269.4 90.1h0" stroke="#63b530"/><path d="M278.1 103.2h0M289.7 80.0h0M268.3 80.4h0" stroke="#1ee614"/><path d="M287.1 95.7h0M293.2 82.3h0" stroke="#63b530"/><path d="M273.8 91.8h0" stroke="#1ee614"/><path d="M276.7 104.5h0" stroke="#8f8f1c"/><path d="M293.4 97.4h0M293.1 98.0h0M293.3 90.0h0M287.3 86.3h0M266.7 84.0h0M273.8 86.1h0M280.0 86.7h0M283.2 83.3h0M325.2 101.8h0" stroke="#1ee614"/><path d="M329.0 87.6h0" stroke="#8f8f1c"/><path d="M314.6 95.4h0" stroke="#1ee614"/><path d="M328.3 83.6h0" stroke="#8f8f1c"/><path d="M333.4 98.8h0M317.9 89.5h0M325.4 87.3h0" stroke="#1ee614"/><path d="M328.5 93.9h0" stroke="#8f8f1c"/><path d="M338.4 95.5h0" stroke="#1ee614"/><path d="M333.8 83.1h0" stroke="#63b530"/><path d="M316.1 93.7h0M336.0 102.9h0M331.4 96.4h0M325.2 96.1h0M324.8 81.8h0M327.9 90.0h0M335.3 87.0h0" stroke="#1ee614"/><path d="M321.8 104.0h0M329.0 88.2h0" stroke="#8f8f1c"/><path d="M332.8 98.8h0M336.4 90.9h0M324.3 98.4h0M325.2 96.2h0" stroke="#1ee614"/><path d="M312.5 81.4h0" stroke="#63b530"/><path d="M325.7 98.0h0M301.3 98.8h0" stroke="#1ee614"/><path d="M308.5 100.8h0" stroke="#63b530"/><path d="M297.7 96.1h0" stroke="#1ee614"/><path d="M304.5 98.1h0" stroke="#63b530"/><path d="M302.8 101.3h0" stroke="#1ee614"/><path d="M305.4 101.8h0" stroke="#8f8f1c"/><path d="M261.1 76.7h0" stroke="#1ee614"/><path d="M266.5 78.1h0M267.1 72.0h0" stroke="#8f8f1c"/><path d="M261.3 76.8h0M263.0 62.8h0" stroke="#1ee614"/><path d="M264.5 68.5h0M267.3 64.9h0" stroke="#63b530"/><path d="M265.9 76.5h0" stroke="#8f8f1c"/><path d="M318.2 114.5h0M307.6 117.6h0M317.5 110.9h0M310.6 109.7h0M313.6 110.9h0" stroke="#1ee614"/><path d="M300.2 108.8h0" stroke="#63b530"/><path d="M299.6 117.9h0M308.7 109.7h0M302.2 119.7h0M313.2 106.6h0M309.4 107.1h0M313.5 115.1h0M362.6 101.7h0M351.4 89.7h0M358.5 94.1h0M365.7 94.1h0M373.6 87.4h0M371.6 93.5h0M343.9 96.1h0M354.2 100.5h0" stroke="#1ee614"/><path d="M371.5 97.9h0" stroke="#63b530"/><path d="M365.5 93.6h0M357.7 100.7h0M372.9 84.7h0" stroke="#1ee614"/><path d="M372.5 99.1h0" stroke="#63b530"/><path d="M373.7 89.1h0M372.3 92.1h0M358.9 99.3h0M358.2 91.1h0M369.4 88.4h0" stroke="#1ee614"/><path d="M356.5 85.4h0" stroke="#8f8f1c"/><path d="M353.6 97.9h0M352.0 88.9h0M347.6 90.9h0M363.4 95.3h0M351.9 90.2h0M373.4 91.6h0M354.3 97.4h0M346.2 96.3h0M362.9 100.7h0M344.1 94.9h0M367.3 91.7h0M349.0 89.2h0M361.7 92.3h0M347.2 90.3h0" stroke="#1ee614"/><path d="M359.3 87.2h0" stroke="#8f8f1c"/><path d="M361.3 97.0h0M353.0 89.4h0M374.1 94.9h0" stroke="#1ee614"/><path d="M372.8 85.7h0" stroke="#63b530"/><path d="M360.5 97.6h0M368.5 93.7h0M372.7 90.8h0M346.5 102.6h0M355.1 89.5h0M367.8 92.4h0M346.7 90.7h0M357.6 98.1h0M349.6 95.8h0M366.7 88.9h0M366.6 88.9h0M373.8 89.6h0M362.8 86.9h0" stroke="#1ee614"/><path d="M374.4 98.7h0M371.5 99.3h0" stroke="#63b530"/><path d="M348.2 95.8h0M345.3 101.3h0M354.1 94.3h0M352.3 91.1h0M347.9 100.0h0M357.5 90.1h0M344.1 94.5h0M365.0 95.5h0M361.6 91.4h0M344.3 99.6h0M357.6 96.1h0" stroke="#1ee614"/><path d="M359.6 87.9h0" stroke="#8f8f1c"/><path d="M373.2 94.8h0M350.2 89.1h0M368.1 87.5h0M351.3 89.6h0M368.7 92.9h0M363.7 94.9h0M353.6 92.8h0M369.5 92.8h0M351.1 97.4h0M364.0 91.5h0M368.7 90.6h0" stroke="#1ee614"/><path d="M366.8 100.2h0" stroke="#63b530"/><path d="M344.4 93.4h0M358.1 97.1h0M357.8 93.9h0" stroke="#1ee614"/><path d="M364.5 94.3h0" stroke="#8f8f1c"/><path d="M368.8 90.6h0M359.7 92.7h0M349.6 94.7h0M349.4 90.0h0M358.9 92.9h0M373.3 95.6h0M358.3 93.6h0M347.3 87.6h0M376.1 87.8h0M359.2 93.5h0" stroke="#1ee614"/><path d="M374.9 100.7h0" stroke="#63b530"/><path d="M350.0 101.0h0M352.1 94.6h0M372.6 94.8h0M358.8 94.4h0M374.8 86.9h0M343.1 89.0h0M343.7 98.2h0M352.2 96.0h0" stroke="#1ee614"/><path d="M365.2 98.9h0" stroke="#63b530"/><path d="M348.5 91.5h0M366.2 95.2h0M355.9 89.5h0M345.2 99.9h0M367.0 96.5h0M351.7 94.2h0M348.0 98.7h0M350.0 91.8h0M347.5 89.8h0M355.7 97.6h0M368.8 93.8h0M369.1 87.1h0" stroke="#1ee614"/><path d="M363.5 102.9h0" stroke="#63b530"/><path d="M366.0 91.5h0M352.7 98.6h0M346.5 92.4h0M351.7 92.3h0" stroke="#1ee614"/><path d="M373.9 101.4h0" stroke="#63b530"/><path d="M347.6 92.9h0" stroke="#1ee614"/><path d="M394.8 97.0h0" stroke="#8f8f1c"/><path d="M396.8 90.4h0M379.8 91.2h0" stroke="#1ee614"/><path d="M398.0 98.3h0" stroke="#8f8f1c"/><path d="M380.0 92.0h0M389.2 91.0h0M383.1 90.0h0M401.3 87.5h0M380.7 89.3h0M401.2 96.6h0M400.9 91.8h0M391.7 100.5h0M393.4 87.3h0M379.6 89.2h0M384.6 95.6h0M385.2 89.1h0M389.9 91.4h0" stroke="#1ee614"/><path d="M394.1 97.6h0" stroke="#8f8f1c"/><path d="M386.6 95.1h0M383.7 87.2h0" stroke="#1ee614"/><path d="M397.1 98.4h0" stroke="#8f8f1c"/><path d="M388.9 91.8h0M391.0 96.1h0M394.7 94.7h0M388.5 91.4h0" stroke="#1ee614"/><path d="M399.9 97.7h0" stroke="#8f8f1c"/><path d="M393.2 91.8h0" stroke="#1ee614"/><path d="M382.2 91.2h0" stroke="#63b530"/><path d="M386.1 90.8h0M389.8 94.9h0M398.0 93.5h0M380.9 90.0h0M391.2 94.4h0M383.0 88.4h0M400.1 92.4h0M424.2 89.0h0M418.9 97.6h0M428.4 88.6h0" stroke="#1ee614"/><path d="M426.1 83.0h0" stroke="#8f8f1c"/><path d="M429.3 91.5h0M414.1 92.2h0M428.6 89.9h0M429.1 92.7h0M423.0 86.6h0M426.3 91.8h0M409.8 92.4h0" stroke="#1ee614"/><path d="M426.5 96.2h0M430.4 98.1h0M426.5 96.5h0" stroke="#8f8f1c"/><path d="M414.4 101.3h0" stroke="#1ee614"/><path d="M426.7 99.1h0" stroke="#8f8f1c"/><path d="M411.2 91.8h0M406.1 92.3h0" stroke="#1ee614"/><path d="M430.2 98.6h0" stroke="#8f8f1c"/><path d="M429.7 88.3h0M426.8 90.3h0M408.9 92.3h0M408.5 91.9h0M417.0 98.1h0M411.7 90.9h0M405.9 97.3h0M407.3 92.2h0M411.2 92.8h0" stroke="#1ee614"/><path d="M424.8 98.8h0" stroke="#8f8f1c"/><path d="M408.3 91.8h0M422.3 99.1h0M414.6 87.0h0" stroke="#1ee614"/><path d="M427.6 99.9h0" stroke="#8f8f1c"/><path d="M410.5 86.9h0" stroke="#1ee614"/><path d="M425.5 99.1h0" stroke="#8f8f1c"/><path d="M405.5 91.9h0M408.2 83.5h0M414.1 87.9h0" stroke="#1ee614"/><path d="M427.0 92.1h0" stroke="#63b530"/><path d="M423.4 98.5h0" stroke="#1ee614"/><path d="M427.4 88.4h0" stroke="#63b530"/><path d="M406.0 100.8h0M427.0 93.1h0M414.2 98.3h0M408.3 96.9h0M420.9 84.6h0M423.9 84.1h0" stroke="#1ee614"/><path d="M423.5 95.2h0" stroke="#63b530"/><path d="M416.6 86.5h0M415.8 99.2h0M424.0 93.9h0M412.0 91.8h0" stroke="#1ee614"/><path d="M423.3 88.1h0M416.5 89.4h0M423.8 90.1h0" stroke="#63b530"/><path d="M413.7 85.9h0" stroke="#1ee614"/><path d="M422.6 89.1h0" stroke="#63b530"/><path d="M405.8 97.3h0M420.3 98.7h0M415.6 96.5h0M410.4 98.4h0M417.2 103.5h0" stroke="#1ee614"/><path d="M429.3 98.3h0" stroke="#8f8f1c"/><path d="M408.7 86.2h0M424.1 89.3h0" stroke="#1ee614"/><path d="M430.3 91.0h0" stroke="#63b530"/><path d="M416.4 99.8h0M428.7 92.8h0M412.6 89.5h0M409.9 87.0h0M415.9 87.3h0M406.3 85.9h0M408.0 98.5h0M425.3 92.1h0M412.4 99.5h0" stroke="#1ee614"/><path d="M427.0 98.7h0" stroke="#8f8f1c"/><path d="M418.2 94.8h0" stroke="#63b530"/><path d="M410.0 97.4h0M419.8 99.8h0M414.5 95.8h0M425.7 90.5h0" stroke="#1ee614"/><path d="M423.4 90.0h0" stroke="#63b530"/><path d="M429.3 86.6h0" stroke="#1ee614"/><path d="M428.1 100.5h0M424.2 96.3h0" stroke="#8f8f1c"/><path d="M440.5 92.0h0" stroke="#1ee614"/><path d="M438.3 88.0h0M437.9 92.4h0M439.6 94.9h0" stroke="#8f8f1c"/><path d="M442.6 93.3h0M440.6 88.7h0M441.8 97.3h0M437.7 98.8h0M438.2 96.1h0" stroke="#1ee614"/><path d="M433.7 95.6h0M434.5 91.1h0" stroke="#8f8f1c"/><path d="M445.6 95.1h0M441.4 98.4h0" stroke="#1ee614"/><path d="M435.7 91.1h0M436.4 91.6h0M437.6 95.1h0" stroke="#8f8f1c"/><path d="M446.4 96.3h0" stroke="#1ee614"/><path d="M434.2 90.8h0" stroke="#8f8f1c"/><path d="M459.2 86.9h0M458.3 94.6h0M461.7 92.5h0M461.9 97.5h0M457.0 89.1h0M459.1 94.4h0M450.2 94.8h0M452.0 96.9h0M454.1 98.2h0M458.5 92.5h0M449.6 90.3h0M453.2 95.5h0M461.4 94.1h0M459.5 95.4h0M458.8 89.9h0M452.5 84.0h0M460.4 94.3h0M456.6 90.5h0M449.9 93.8h0M451.8 88.5h0M450.7 96.3h0M456.7 86.9h0M454.2 96.2h0M461.2 91.2h0M459.0 84.1h0M451.1 93.4h0M451.5 89.2h0M451.2 92.9h0M450.1 89.0h0M455.0 88.0h0M451.5 95.2h0M455.7 86.3h0M455.3 91.8h0M461.3 95.1h0M452.6 99.2h0M461.7 88.1h0M450.4 95.9h0M454.7 90.0h0M456.8 86.5h0M455.2 88.7h0M456.9 92.1h0M458.7 96.0h0M451.3 94.8h0M461.5 93.1h0M451.0 92.3h0" stroke="#1ee614"/><path d="M471.7 89.2h0" stroke="#8f8f1c"/><path d="M475.0 92.0h0" stroke="#1ee614"/><path d="M467.2 90.0h0" stroke="#8f8f1c"/><path d="M476.4 87.4h0" stroke="#1ee614"/><path d="M468.1 95.4h0" stroke="#8f8f1c"/><path d="M474.4 89.5h0" stroke="#1ee614"/><path d="M468.0 90.6h0M471.3 91.3h0M472.0 88.9h0" stroke="#8f8f1c"/><path d="M474.9 91.6h0" stroke="#1ee614"/><path d="M466.6 91.3h0" stroke="#8f8f1c"/><path d="M478.4 88.3h0" stroke="#1ee614"/><path d="M468.1 95.0h0M468.9 96.3h0M468.4 90.9h0" stroke="#8f8f1c"/><path d="M497.3 98.1h0M490.5 97.5h0M483.0 102.5h0M489.0 98.2h0M491.4 109.6h0M484.2 98.9h0M495.4 95.6h0M482.5 95.4h0M491.5 102.2h0M485.2 99.6h0M482.3 96.1h0" stroke="#1ee614"/><path d="M481.0 103.4h0" stroke="#8f8f1c"/><path d="M491.8 92.9h0M487.2 98.8h0M492.9 99.2h0M491.7 90.2h0M491.0 101.9h0M485.9 102.4h0M495.3 91.3h0M492.0 110.5h0" stroke="#1ee614"/><path d="M484.1 96.7h0" stroke="#8f8f1c"/><path d="M488.0 100.1h0M496.7 96.7h0M494.8 104.7h0M497.5 95.9h0M486.8 94.3h0M481.4 97.1h0M481.4 107.9h0M494.4 104.2h0" stroke="#1ee614"/><path d="M486.6 103.0h0" stroke="#8f8f1c"/><path d="M482.0 101.2h0M492.3 100.0h0M496.3 107.5h0M481.9 95.4h0M497.3 97.3h0M495.0 93.7h0M494.9 107.0h0M497.3 106.7h0M495.8 106.5h0M492.1 100.4h0M485.6 106.4h0M495.1 94.8h0M482.1 102.1h0M480.9 106.5h0M488.3 107.6h0M487.7 100.4h0M485.4 100.3h0M485.8 98.1h0M492.3 100.6h0M497.2 105.1h0M495.3 94.1h0M491.5 103.2h0M490.5 97.8h0M485.6 93.6h0M482.5 96.9h0M495.2 103.0h0M483.6 107.9h0M485.5 92.8h0M489.0 111.2h0M496.6 103.3h0M495.5 105.6h0" stroke="#1ee614"/><path d="M483.4 96.9h0" stroke="#63b530"/><path d="M485.9 108.6h0M481.0 93.2h0M496.0 100.7h0M484.1 101.3h0M480.8 94.7h0M491.1 102.9h0M488.9 102.9h0M494.4 102.5h0" stroke="#1ee614"/><path d="M486.8 112.5h0" stroke="#63b530"/><path d="M485.3 133.1h0M489.5 119.6h0M492.3 112.5h0M492.7 129.9h0M495.4 119.3h0M484.4 132.3h0" stroke="#1ee614"/><path d="M492.6 125.5h0" stroke="#8f8f1c"/><path d="M496.2 125.9h0" stroke="#1ee614"/><path d="M487.7 119.5h0" stroke="#63b530"/><path d="M483.5 126.9h0M493.9 117.4h0M489.2 116.2h0" stroke="#1ee614"/><path d="M484.3 115.4h0" stroke="#63b530"/><path d="M494.2 121.0h0" stroke="#8f8f1c"/><path d="M493.7 128.1h0M496.2 133.3h0M486.1 128.0h0M493.0 113.0h0" stroke="#1ee614"/><path d="M493.4 125.8h0" stroke="#8f8f1c"/><path d="M486.5 125.7h0M483.8 132.2h0" stroke="#1ee614"/><path d="M492.4 122.3h0" stroke="#8f8f1c"/><path d="M484.6 118.2h0" stroke="#63b530"/><path d="M489.7 128.4h0M497.2 114.5h0" stroke="#1ee614"/><path d="M484.4 117.5h0M486.9 116.9h0" stroke="#63b530"/><path d="M488.2 112.5h0M486.0 121.2h0M488.5 119.2h0M487.1 134.7h0M487.4 131.9h0" stroke="#1ee614"/><path d="M491.1 126.1h0M488.5 126.4h0" stroke="#8f8f1c"/><path d="M503.9 101.1h0M504.1 87.3h0M503.3 99.2h0M506.2 91.2h0M502.7 96.3h0M516.3 91.1h0M508.8 93.0h0M507.9 98.7h0M510.2 91.9h0M512.7 98.6h0M505.6 102.7h0M519.2 90.4h0M506.9 83.9h0M518.2 93.9h0M509.8 92.7h0M505.9 89.6h0" stroke="#1ee614"/><path d="M507.0 96.8h0" stroke="#63b530"/><path d="M505.4 87.8h0M506.5 89.4h0M517.9 96.7h0" stroke="#1ee614"/><path d="M515.8 84.8h0" stroke="#8f8f1c"/><path d="M505.3 86.9h0M509.0 85.7h0M514.5 92.6h0" stroke="#1ee614"/><path d="M510.5 96.3h0" stroke="#63b530"/><path d="M516.8 95.4h0M518.1 96.7h0M510.9 94.6h0M515.8 100.8h0M505.0 98.0h0M518.5 91.3h0M517.2 96.0h0M515.7 93.4h0M520.1 93.7h0M504.5 99.0h0M514.1 88.2h0M518.5 101.9h0M503.9 85.4h0M510.4 88.0h0M516.9 88.6h0M507.7 84.6h0" stroke="#1ee614"/><path d="M507.5 96.7h0" stroke="#8f8f1c"/><path d="M513.8 100.4h0M518.8 85.3h0M517.8 89.3h0M515.5 86.1h0M510.9 98.4h0M514.7 95.9h0M502.0 87.0h0M519.2 101.1h0M513.6 88.6h0M509.0 100.7h0M520.1 95.7h0M503.8 86.7h0M505.9 87.8h0M502.8 91.2h0M503.3 86.8h0M515.2 95.2h0M506.7 85.0h0M508.2 99.6h0M509.0 96.9h0M510.0 93.7h0M515.2 98.1h0M519.0 102.5h0M517.4 90.9h0" stroke="#1ee614"/><path d="M520.2 96.1h0" stroke="#8f8f1c"/><path d="M513.1 97.7h0M519.4 89.1h0M514.9 86.6h0M517.6 92.5h0M517.9 92.5h0M509.5 95.0h0M511.9 92.4h0M508.7 90.4h0M520.3 90.0h0M518.2 83.4h0M502.5 93.4h0M507.1 97.7h0M513.0 98.3h0M515.4 99.4h0M510.0 83.2h0M504.6 94.2h0M506.0 84.4h0" stroke="#1ee614"/><path d="M508.1 99.7h0" stroke="#8f8f1c"/><path d="M505.1 98.8h0M526.2 87.8h0M525.6 85.3h0M529.5 95.1h0" stroke="#1ee614"/><path d="M529.2 85.3h0" stroke="#8f8f1c"/><path d="M529.2 87.1h0" stroke="#63b530"/><path d="M524.9 92.6h0M526.8 92.8h0" stroke="#1ee614"/><path d="M523.5 96.4h0" stroke="#8f8f1c"/><path d="M239.7 119.0h0M265.7 114.4h0M301.0 134.8h0M301.0 147.8h0M311.0 121.0h0M319.6 121.0h0M319.6 127.4h0M284.0 62.0h0M284.0 66.0h0M331.0 60.0h0M331.0 65.0h0M332.0 71.0h0M390.0 53.7h0M400.0 54.0h0M380.0 55.0h0M360.0 56.0h0M364.0 110.7h0M402.0 108.8h0M409.4 113.5h0M406.6 128.7h0M406.6 134.3h0M442.5 98.6h0M442.5 108.8h0M451.0 109.0h0M451.0 111.6h0M451.8 122.8h0M452.7 130.2h0M438.0 102.0h0M476.0 109.7h0M511.0 111.6h0M520.6 103.0h0M527.0 97.7h0M530.0 90.0h0M526.0 66.0h0M526.0 74.0h0M530.0 90.7h0M526.0 98.5h0M221.0 112.0h0M228.0 116.0h0M234.0 120.0h0M95.5 106.0h0" stroke="#63b530"/></g>
<line x1="38.0" y1="139.4" x2="42.5" y2="139.4" stroke="#6e6e6e" stroke-width="1"/>
<line x1="526.9" y1="139.4" x2="531.4" y2="139.4" stroke="#6e6e6e" stroke-width="1"/>
<line x1="38.0" y1="113.5" x2="42.5" y2="113.5" stroke="#6e6e6e" stroke-width="1"/>
<line x1="526.9" y1="113.5" x2="531.4" y2="113.5" stroke="#6e6e6e" stroke-width="1"/>
<line x1="38.0" y1="87.6" x2="42.5" y2="87.6" stroke="#6e6e6e" stroke-width="1"/>
<line x1="526.9" y1="87.6" x2="531.4" y2="87.6" stroke="#6e6e6e" stroke-width="1"/>
<line x1="38.0" y1="61.6" x2="42.5" y2="61.6" stroke="#6e6e6e" stroke-width="1"/>
<line x1="526.9" y1="61.6" x2="531.4" y2="61.6" stroke="#6e6e6e" stroke-width="1"/>
<line x1="38.0" y1="35.7" x2="42.5" y2="35.7" stroke="#6e6e6e" stroke-width="1"/>
<line x1="526.9" y1="35.7" x2="531.4" y2="35.7" stroke="#6e6e6e" stroke-width="1"/>
<line x1="38.0" y1="9.8" x2="42.5" y2="9.8" stroke="#6e6e6e" stroke-width="1"/>
<line x1="526.9" y1="9.8" x2="531.4" y2="9.8" stroke="#6e6e6e" stroke-width="1"/>
<line x1="38.0" y1="151.1" x2="38.0" y2="146.6" stroke="#6e6e6e" stroke-width="1"/>
<line x1="38.0" y1="9.8" x2="38.0" y2="14.3" stroke="#6e6e6e" stroke-width="1"/>
<line x1="161.3" y1="151.1" x2="161.3" y2="146.6" stroke="#6e6e6e" stroke-width="1"/>
<line x1="161.3" y1="9.8" x2="161.3" y2="14.3" stroke="#6e6e6e" stroke-width="1"/>
<line x1="284.7" y1="151.1" x2="284.7" y2="146.6" stroke="#6e6e6e" stroke-width="1"/>
<line x1="284.7" y1="9.8" x2="284.7" y2="14.3" stroke="#6e6e6e" stroke-width="1"/>
<line x1="408.0" y1="151.1" x2="408.0" y2="146.6" stroke="#6e6e6e" stroke-width="1"/>
<line x1="408.0" y1="9.8" x2="408.0" y2="14.3" stroke="#6e6e6e" stroke-width="1"/>
<line x1="531.4" y1="151.1" x2="531.4" y2="146.6" stroke="#6e6e6e" stroke-width="1"/>
<line x1="531.4" y1="9.8" x2="531.4" y2="14.3" stroke="#6e6e6e" stroke-width="1"/>
<rect x="38.0" y="9.8" width="493.4" height="141.3" fill="none" stroke="#6e6e6e" stroke-width="1"/>
<text x="34.3" y="143.4" text-anchor="end">0</text>
<text x="34.3" y="117.5" text-anchor="end">0.2</text>
<text x="34.3" y="91.6" text-anchor="end">0.4</text>
<text x="34.3" y="65.6" text-anchor="end">0.6</text>
<text x="34.3" y="39.7" text-anchor="end">0.8</text>
<text x="34.3" y="13.8" text-anchor="end">1</text>
<text x="38.0" y="166.6" text-anchor="middle">69.95</text>
<text x="161.3" y="166.6" text-anchor="middle">70</text>
<text x="284.7" y="166.6" text-anchor="middle">70.05</text>
<text x="408.0" y="166.6" text-anchor="middle">70.1</text>
<text x="531.4" y="166.6" text-anchor="middle">70.15</text>
<text x="284.7" y="182.3" text-anchor="middle" style="font-size:12.2px">Latitude</text>
<text transform="translate(14.1,80.7) rotate(-90)" text-anchor="middle" style="font-size:12.7px">Snow depth (m)</text>
<rect x="320.8" y="14.2" width="205.5" height="34.9" fill="#fff" stroke="#6e6e6e" stroke-width="1"/>
<circle cx="331.1" cy="21.4" r="2.1" fill="#1a0ad0"/>
<text x="341.4" y="24.5" style="font-size:8.65px">SnowEX @2023-03-10</text>
<circle cx="331.1" cy="31.8" r="2.1" fill="#8a4a12"/>
<text x="341.4" y="34.9" style="font-size:8.65px">ICESat2 @2023-03-05@Beam 2</text>
<circle cx="331.1" cy="42.3" r="2.1" fill="#66b832"/>
<text x="341.4" y="45.4" style="font-size:8.65px">ICESat2 snow on-off(2023-03-05,2019-09-11)</text>
<path d="M32 264h8v8h-8zM32 272h8v8h-8zM32 280h8v8h-8zM40 272h8v8h-8zM40 280h8v8h-8zM40 288h8v8h-8zM40 296h8v8h-8zM40 304h8v8h-8zM48 288h8v8h-8zM48 280h8v8h-8zM48 264h8v8h-8zM48 272h8v8h-8zM48 296h8v8h-8zM56 288h8v8h-8zM56 280h8v8h-8zM56 296h8v8h-8zM56 304h8v8h-8zM56 272h8v8h-8zM64 288h8v8h-8zM64 296h8v8h-8zM64 280h8v8h-8zM64 304h8v8h-8zM64 272h8v8h-8zM72 264h8v8h-8zM72 272h8v8h-8zM72 280h8v8h-8zM72 288h8v8h-8zM72 296h8v8h-8zM80 288h8v8h-8zM80 280h8v8h-8zM80 272h8v8h-8zM80 296h8v8h-8zM80 304h8v8h-8zM80 264h8v8h-8zM88 264h8v8h-8zM88 280h8v8h-8zM88 288h8v8h-8zM88 304h8v8h-8zM88 272h8v8h-8zM88 296h8v8h-8zM88 248h8v8h-8zM88 256h8v8h-8zM96 256h8v8h-8zM96 272h8v8h-8zM96 240h8v8h-8zM96 248h8v8h-8zM96 264h8v8h-8zM96 280h8v8h-8zM96 288h8v8h-8zM104 248h8v8h-8zM104 256h8v8h-8zM104 264h8v8h-8zM104 272h8v8h-8zM104 280h8v8h-8zM104 288h8v8h-8zM104 296h8v8h-8zM112 264h8v8h-8zM112 272h8v8h-8zM112 280h8v8h-8zM112 288h8v8h-8zM112 296h8v8h-8zM112 256h8v8h-8zM96 296h8v8h-8zM96 304h8v8h-8zM96 312h8v8h-8zM104 304h8v8h-8zM64 312h8v8h-8zM128 224h8v8h-8zM128 232h8v8h-8zM128 240h8v8h-8zM128 208h8v8h-8zM136 208h8v8h-8zM136 216h8v8h-8zM136 224h8v8h-8zM136 240h8v8h-8zM144 216h8v8h-8zM144 224h8v8h-8zM144 232h8v8h-8zM144 240h8v8h-8zM152 224h8v8h-8zM152 232h8v8h-8zM152 240h8v8h-8zM152 248h8v8h-8zM152 256h8v8h-8zM152 264h8v8h-8zM152 272h8v8h-8zM160 232h8v8h-8zM160 240h8v8h-8zM160 248h8v8h-8zM160 264h8v8h-8zM144 256h8v8h-8zM136 256h8v8h-8zM136 264h8v8h-8zM152 288h8v8h-8zM128 256h8v8h-8zM128 280h8v8h-8zM144 272h8v8h-8zM144 280h8v8h-8zM136 288h8v8h-8zM128 288h8v8h-8zM144 296h8v8h-8zM120 272h8v8h-8zM136 280h8v8h-8zM120 288h8v8h-8zM128 272h8v8h-8zM144 264h8v8h-8zM152 280h8v8h-8zM136 272h8v8h-8zM120 280h8v8h-8zM120 256h8v8h-8zM144 288h8v8h-8zM120 264h8v8h-8zM128 264h8v8h-8zM128 296h8v8h-8zM136 248h8v8h-8zM160 288h8v8h-8zM160 296h8v8h-8zM160 280h8v8h-8zM160 304h8v8h-8zM168 280h8v8h-8zM168 288h8v8h-8zM168 296h8v8h-8zM168 304h8v8h-8zM176 296h8v8h-8zM176 280h8v8h-8zM176 288h8v8h-8zM176 304h8v8h-8zM184 280h8v8h-8zM184 288h8v8h-8zM184 296h8v8h-8zM184 304h8v8h-8zM192 288h8v8h-8zM192 296h8v8h-8zM192 304h8v8h-8zM192 280h8v8h-8zM200 280h8v8h-8zM200 288h8v8h-8zM200 296h8v8h-8zM200 304h8v8h-8zM208 280h8v8h-8zM208 288h8v8h-8zM208 296h8v8h-8zM208 304h8v8h-8zM216 280h8v8h-8zM216 296h8v8h-8zM216 288h8v8h-8zM216 304h8v8h-8zM224 288h8v8h-8zM224 296h8v8h-8zM224 280h8v8h-8zM224 304h8v8h-8zM232 280h8v8h-8zM232 288h8v8h-8zM232 296h8v8h-8zM176 272h8v8h-8zM200 272h8v8h-8zM216 272h8v8h-8zM168 272h8v8h-8zM192 272h8v8h-8zM184 272h8v8h-8zM208 272h8v8h-8zM224 272h8v8h-8zM160 272h8v8h-8zM232 304h8v8h-8zM232 312h8v8h-8zM240 288h8v8h-8zM240 296h8v8h-8zM240 304h8v8h-8zM240 280h8v8h-8zM248 296h8v8h-8zM240 312h8v8h-8zM248 288h8v8h-8zM248 280h8v8h-8zM248 304h8v8h-8zM256 280h8v8h-8zM256 288h8v8h-8zM256 296h8v8h-8zM256 304h8v8h-8zM264 280h8v8h-8zM264 288h8v8h-8zM264 296h8v8h-8zM264 304h8v8h-8zM264 312h8v8h-8zM272 288h8v8h-8zM272 296h8v8h-8zM272 304h8v8h-8zM280 288h8v8h-8zM280 296h8v8h-8zM280 304h8v8h-8zM288 280h8v8h-8zM288 288h8v8h-8zM288 296h8v8h-8zM288 304h8v8h-8zM296 280h8v8h-8zM296 288h8v8h-8zM296 296h8v8h-8zM296 304h8v8h-8zM296 312h8v8h-8zM304 288h8v8h-8zM304 296h8v8h-8zM304 304h8v8h-8zM312 288h8v8h-8zM312 296h8v8h-8zM312 304h8v8h-8zM312 280h8v8h-8zM320 288h8v8h-8zM320 296h8v8h-8zM320 304h8v8h-8zM328 288h8v8h-8zM328 296h8v8h-8zM328 304h8v8h-8zM336 288h8v8h-8zM336 296h8v8h-8zM336 304h8v8h-8zM336 264h8v8h-8zM336 272h8v8h-8zM336 256h8v8h-8zM336 280h8v8h-8zM344 288h8v8h-8zM344 296h8v8h-8zM344 304h8v8h-8zM344 280h8v8h-8zM344 272h8v8h-8zM344 264h8v8h-8zM352 272h8v8h-8zM352 280h8v8h-8zM352 264h8v8h-8zM352 288h8v8h-8zM352 296h8v8h-8zM352 304h8v8h-8zM360 280h8v8h-8zM360 272h8v8h-8zM360 264h8v8h-8zM360 288h8v8h-8zM360 296h8v8h-8zM360 304h8v8h-8zM360 256h8v8h-8zM368 280h8v8h-8zM368 288h8v8h-8zM368 272h8v8h-8zM368 264h8v8h-8zM368 248h8v8h-8zM368 256h8v8h-8zM376 272h8v8h-8zM376 264h8v8h-8zM376 256h8v8h-8zM376 248h8v8h-8zM376 280h8v8h-8zM376 288h8v8h-8zM376 296h8v8h-8zM384 288h8v8h-8zM384 296h8v8h-8zM384 280h8v8h-8zM384 272h8v8h-8zM384 256h8v8h-8zM384 264h8v8h-8zM384 248h8v8h-8zM392 272h8v8h-8zM392 264h8v8h-8zM392 280h8v8h-8zM392 288h8v8h-8zM392 296h8v8h-8zM392 304h8v8h-8zM400 264h8v8h-8zM400 272h8v8h-8zM400 280h8v8h-8zM400 256h8v8h-8zM400 248h8v8h-8zM408 272h8v8h-8zM408 280h8v8h-8zM408 288h8v8h-8zM408 304h8v8h-8zM408 296h8v8h-8zM408 264h8v8h-8zM416 272h8v8h-8zM416 280h8v8h-8zM416 264h8v8h-8zM416 288h8v8h-8zM416 296h8v8h-8zM416 304h8v8h-8zM424 288h8v8h-8zM424 280h8v8h-8zM424 272h8v8h-8zM424 264h8v8h-8zM424 304h8v8h-8zM424 256h8v8h-8zM424 248h8v8h-8zM432 280h8v8h-8zM432 272h8v8h-8zM432 288h8v8h-8zM432 296h8v8h-8zM432 264h8v8h-8zM432 256h8v8h-8zM432 248h8v8h-8zM440 280h8v8h-8zM440 272h8v8h-8zM440 264h8v8h-8zM440 288h8v8h-8zM440 296h8v8h-8zM440 304h8v8h-8zM440 248h8v8h-8zM440 256h8v8h-8zM448 280h8v8h-8zM448 296h8v8h-8zM448 288h8v8h-8zM448 304h8v8h-8zM448 272h8v8h-8zM448 264h8v8h-8zM456 280h8v8h-8zM456 272h8v8h-8zM456 256h8v8h-8zM456 264h8v8h-8zM456 288h8v8h-8zM456 248h8v8h-8zM464 264h8v8h-8zM464 272h8v8h-8zM464 280h8v8h-8zM464 288h8v8h-8zM464 296h8v8h-8zM464 304h8v8h-8zM464 256h8v8h-8zM472 280h8v8h-8zM472 272h8v8h-8zM472 264h8v8h-8zM472 296h8v8h-8zM472 288h8v8h-8zM472 304h8v8h-8zM472 256h8v8h-8zM480 256h8v8h-8zM480 248h8v8h-8zM480 280h8v8h-8zM480 272h8v8h-8zM480 264h8v8h-8zM480 288h8v8h-8zM488 280h8v8h-8zM488 288h8v8h-8zM488 296h8v8h-8zM488 272h8v8h-8zM488 264h8v8h-8zM488 256h8v8h-8zM496 272h8v8h-8zM496 280h8v8h-8zM496 288h8v8h-8zM496 296h8v8h-8zM496 264h8v8h-8zM504 272h8v8h-8zM504 280h8v8h-8zM504 264h8v8h-8zM504 288h8v8h-8zM504 296h8v8h-8zM504 256h8v8h-8zM512 280h8v8h-8zM512 288h8v8h-8zM512 296h8v8h-8zM512 272h8v8h-8zM512 264h8v8h-8zM512 256h8v8h-8zM512 248h8v8h-8zM512 304h8v8h-8zM520 288h8v8h-8zM520 280h8v8h-8zM520 272h8v8h-8zM520 296h8v8h-8zM520 264h8v8h-8zM520 304h8v8h-8zM528 288h8v8h-8zM528 296h8v8h-8zM528 280h8v8h-8zM528 272h8v8h-8zM528 264h8v8h-8zM136 296h8v8h-8zM200 256h8v8h-8zM168 264h8v8h-8zM176 248h8v8h-8zM184 248h8v8h-8zM160 256h8v8h-8zM224 264h8v8h-8zM168 248h8v8h-8zM184 264h8v8h-8zM192 256h8v8h-8zM176 264h8v8h-8zM208 264h8v8h-8zM176 256h8v8h-8zM192 264h8v8h-8zM200 248h8v8h-8zM200 264h8v8h-8zM224 256h8v8h-8zM208 256h8v8h-8zM216 256h8v8h-8zM224 248h8v8h-8zM208 248h8v8h-8zM168 256h8v8h-8zM192 248h8v8h-8zM184 256h8v8h-8zM216 264h8v8h-8zM216 248h8v8h-8zM208 240h8v8h-8zM232 256h8v8h-8zM320 256h8v8h-8zM248 264h8v8h-8zM320 272h8v8h-8zM232 264h8v8h-8zM280 272h8v8h-8zM264 256h8v8h-8zM264 272h8v8h-8zM280 256h8v8h-8zM264 248h8v8h-8zM264 264h8v8h-8zM312 272h8v8h-8zM248 272h8v8h-8zM240 256h8v8h-8zM336 248h8v8h-8zM272 272h8v8h-8zM328 256h8v8h-8zM352 256h8v8h-8zM296 272h8v8h-8zM328 264h8v8h-8zM256 256h8v8h-8zM312 256h8v8h-8zM288 272h8v8h-8zM328 272h8v8h-8zM296 256h8v8h-8zM280 264h8v8h-8zM304 264h8v8h-8zM240 272h8v8h-8zM296 264h8v8h-8zM304 272h8v8h-8zM272 256h8v8h-8zM320 264h8v8h-8zM248 256h8v8h-8zM304 256h8v8h-8zM272 248h8v8h-8zM320 248h8v8h-8zM312 264h8v8h-8zM272 264h8v8h-8zM312 248h8v8h-8zM344 256h8v8h-8zM256 248h8v8h-8zM232 272h8v8h-8zM256 272h8v8h-8zM256 264h8v8h-8zM248 248h8v8h-8zM344 248h8v8h-8zM304 248h8v8h-8zM288 256h8v8h-8zM240 264h8v8h-8zM288 264h8v8h-8zM280 248h8v8h-8zM328 248h8v8h-8zM240 248h8v8h-8zM288 248h8v8h-8zM120 208h8v8h-8zM120 224h8v8h-8zM120 232h8v8h-8zM168 240h8v8h-8zM184 240h8v8h-8zM224 240h8v8h-8zM280 240h8v8h-8zM120 304h8v8h-8zM120 312h8v8h-8zM120 320h8v8h-8zM136 304h8v8h-8zM136 312h8v8h-8z" fill="#fcd6ef"/><path d="M120 248h8v8h-8zM144 248h8v8h-8zM320 280h8v8h-8zM424 296h8v8h-8zM480 296h8v8h-8zM304 280h8v8h-8zM280 280h8v8h-8zM48 208h8v8h-8zM48 216h8v8h-8zM48 232h8v8h-8zM48 240h8v8h-8zM48 256h8v8h-8zM48 304h8v8h-8zM56 312h8v8h-8zM64 320h8v8h-8zM56 328h8v8h-8zM56 336h8v8h-8zM64 336h8v8h-8zM88 320h8v8h-8zM104 312h8v8h-8zM112 312h8v8h-8zM112 328h8v8h-8zM112 336h8v8h-8zM104 216h8v8h-8zM152 312h8v8h-8zM152 320h8v8h-8zM168 344h8v8h-8zM176 240h8v8h-8zM232 248h8v8h-8zM256 312h8v8h-8zM256 320h8v8h-8zM264 336h8v8h-8zM280 312h8v8h-8zM288 344h8v8h-8zM352 248h8v8h-8zM368 312h8v8h-8zM416 312h8v8h-8zM472 312h8v8h-8zM528 224h8v8h-8zM528 232h8v8h-8zM128 248h8v8h-8zM120 240h8v8h-8zM120 296h8v8h-8zM272 280h8v8h-8zM328 280h8v8h-8zM480 304h8v8h-8zM496 304h8v8h-8zM496 312h8v8h-8z" fill="#d6f8f8"/>
<line x1="38.0" y1="337.7" x2="531.4" y2="337.7" stroke="#e4e4e4" stroke-width="0.8"/>
<line x1="38.0" y1="311.7" x2="531.4" y2="311.7" stroke="#e4e4e4" stroke-width="0.8"/>
<line x1="38.0" y1="285.7" x2="531.4" y2="285.7" stroke="#e4e4e4" stroke-width="0.8"/>
<line x1="38.0" y1="259.6" x2="531.4" y2="259.6" stroke="#e4e4e4" stroke-width="0.8"/>
<line x1="38.0" y1="233.6" x2="531.4" y2="233.6" stroke="#e4e4e4" stroke-width="0.8"/>
<line x1="161.3" y1="207.6" x2="161.3" y2="349.9" stroke="#e4e4e4" stroke-width="0.8"/>
<line x1="284.7" y1="207.6" x2="284.7" y2="349.9" stroke="#e4e4e4" stroke-width="0.8"/>
<line x1="408.0" y1="207.6" x2="408.0" y2="349.9" stroke="#e4e4e4" stroke-width="0.8"/>
<g fill="none" stroke-width="4.7" stroke-linecap="round" filter="url(#db)"><path d="M130.8 291.5h0M134.0 280.3h0M139.2 280.9h0M126.1 288.6h0M132.1 287.9h0M133.5 286.3h0M129.2 281.2h0M128.3 278.3h0M129.3 281.8h0M124.8 279.7h0M121.2 283.0h0M123.3 295.7h0M120.7 284.6h0M135.4 269.1h0M126.9 282.2h0M128.7 280.5h0M122.2 284.9h0M130.2 281.7h0M136.8 296.3h0M124.9 295.2h0M138.4 281.9h0M126.2 278.6h0M138.7 276.0h0M126.8 290.3h0M136.7 271.7h0M130.7 276.2h0M127.3 269.1h0M120.3 289.3h0M121.8 267.1h0M120.4 268.3h0M125.6 285.7h0M136.4 294.8h0M127.4 259.1h0M128.4 294.6h0M120.9 280.9h0M139.2 284.5h0M124.0 289.5h0M132.5 278.5h0M131.3 266.8h0M139.4 288.5h0M136.8 291.7h0M123.7 275.8h0M119.7 273.5h0M126.5 275.2h0M125.5 284.2h0M201.3 257.8h0M210.2 278.3h0M185.0 282.6h0M203.9 258.3h0M224.3 282.2h0M171.8 264.3h0M178.1 255.5h0M210.8 274.3h0M187.5 249.5h0M200.3 257.9h0M164.7 263.1h0M189.6 278.2h0M166.6 257.0h0M227.4 270.6h0M168.3 249.3h0M190.1 270.5h0M196.8 256.9h0M182.0 272.0h0M187.3 255.3h0M210.8 269.4h0M181.6 259.7h0M181.7 263.9h0M178.3 280.9h0M193.4 270.3h0M176.8 273.3h0M223.7 280.6h0M202.8 254.0h0M214.7 281.7h0M186.3 267.6h0M184.5 268.9h0M191.0 278.1h0M207.8 271.2h0M218.5 274.9h0M207.6 272.1h0M226.6 264.0h0M204.8 275.7h0M214.9 268.1h0M206.1 260.8h0M227.6 277.9h0M211.0 264.6h0M214.4 267.3h0M163.4 276.1h0M208.4 263.6h0M216.5 263.0h0M173.6 277.2h0M175.9 277.1h0M180.4 251.0h0M192.6 274.1h0M167.2 271.8h0M173.8 275.7h0M227.8 251.0h0M215.1 250.0h0M200.1 265.2h0M217.0 258.2h0M173.6 263.1h0M202.4 279.4h0M208.1 256.5h0M195.1 254.6h0M211.2 258.7h0M200.9 259.9h0M165.8 281.4h0M222.6 261.0h0M172.0 269.2h0M178.8 261.7h0M207.1 278.9h0M219.9 263.0h0M167.5 266.6h0M178.7 261.6h0M192.3 279.1h0M203.0 250.2h0M165.4 261.9h0M206.7 256.1h0M184.9 263.2h0M206.5 281.7h0M209.0 268.9h0M176.1 265.0h0M197.7 258.3h0M177.4 262.7h0M168.5 276.1h0M188.5 269.6h0M193.1 261.3h0M175.8 257.1h0M187.1 282.4h0M190.9 273.6h0M190.7 263.7h0M208.2 279.3h0M219.4 278.8h0M202.6 253.6h0M167.7 253.9h0M188.2 284.6h0M218.6 278.1h0M169.0 277.5h0M222.5 281.7h0M219.8 279.6h0M181.0 254.6h0M217.6 278.8h0M170.3 254.0h0M207.0 253.7h0M162.8 275.9h0M225.2 270.9h0M224.2 260.7h0M194.8 252.9h0M177.3 263.3h0M190.2 258.5h0M165.9 280.5h0M194.2 265.8h0M204.5 265.0h0M175.3 262.8h0M215.1 252.9h0M172.4 262.9h0M182.8 267.7h0M165.0 257.4h0M212.2 263.7h0M218.6 270.8h0M219.1 272.8h0M199.5 271.1h0M179.0 273.6h0M190.0 265.6h0M186.8 275.5h0M193.7 279.6h0M222.7 252.4h0M177.3 270.7h0M191.4 282.0h0M183.2 255.7h0M171.4 268.9h0M206.0 276.1h0M181.3 268.8h0M227.3 271.4h0M198.4 254.7h0M199.4 261.8h0M194.6 266.6h0M191.4 277.7h0M226.0 261.2h0M162.5 265.5h0M216.7 274.7h0M180.5 261.1h0M182.8 261.1h0M180.5 251.4h0M204.7 272.2h0M199.5 258.1h0M165.4 265.8h0M200.4 276.0h0M221.8 253.3h0M186.3 260.3h0M222.4 255.4h0M223.7 262.7h0M167.4 256.5h0M196.0 256.8h0M213.7 259.0h0M184.0 252.7h0M227.9 260.4h0M225.7 277.7h0M215.0 276.5h0M216.2 277.5h0M200.4 267.1h0M195.2 273.7h0M223.2 269.5h0M200.0 266.7h0M175.3 274.3h0M204.9 253.5h0M176.0 270.1h0M180.5 271.5h0M191.7 267.3h0M168.6 262.9h0M167.2 258.9h0M177.3 251.1h0M214.7 277.2h0M208.2 264.3h0M174.9 263.5h0M186.6 264.0h0M165.3 280.0h0M175.6 254.3h0M183.8 282.7h0M228.1 276.9h0M180.5 273.1h0M173.4 266.8h0M166.3 262.6h0M189.5 274.5h0M214.4 271.3h0M167.5 270.2h0M225.3 275.1h0M176.9 271.7h0M213.8 247.9h0M227.1 278.7h0M192.7 262.7h0M164.6 275.0h0M224.4 268.0h0M162.4 272.6h0M225.3 261.0h0M174.6 259.1h0M217.6 255.3h0M211.5 278.6h0M215.0 278.4h0M177.6 262.1h0M182.8 276.7h0M218.7 258.3h0M203.0 272.5h0M180.7 274.9h0M201.9 254.7h0M188.0 254.8h0M221.3 268.6h0M201.1 272.8h0M210.4 268.4h0M202.0 263.6h0M183.9 273.0h0M164.5 249.8h0M166.1 279.3h0M209.5 284.1h0M184.3 270.8h0M186.5 279.2h0M202.9 281.0h0M222.3 272.1h0M205.9 269.7h0M223.2 257.7h0M221.2 254.2h0M221.0 267.9h0M220.1 273.1h0M225.5 256.0h0M224.1 252.3h0M217.6 265.8h0M220.0 254.7h0M174.1 256.5h0M162.6 259.0h0M165.2 257.3h0M226.7 257.2h0M164.0 253.8h0M185.1 253.9h0M211.4 253.6h0M196.6 263.8h0M225.1 277.4h0M162.3 258.9h0M201.9 267.7h0M199.8 278.2h0M217.5 256.3h0M217.2 279.7h0M177.3 277.1h0M194.7 253.1h0M186.0 256.1h0M193.0 255.2h0M175.1 269.3h0M220.1 259.2h0M184.3 259.2h0M208.2 269.4h0M200.7 269.5h0M181.1 257.9h0M227.3 277.2h0M203.7 274.2h0M184.5 282.5h0M207.9 266.7h0M164.9 257.8h0M239.5 260.0h0M299.8 282.6h0M322.1 262.6h0M249.5 266.4h0M326.9 277.9h0M232.8 272.0h0M255.5 271.8h0M352.5 278.4h0M286.3 272.7h0M271.3 258.5h0M268.9 279.4h0M266.0 272.9h0M287.5 256.6h0M267.9 263.0h0M264.6 255.1h0M280.0 259.8h0M269.0 267.2h0M319.0 273.8h0M250.9 273.6h0M247.1 259.6h0M336.1 253.7h0M275.8 275.3h0M330.7 257.3h0M352.7 256.2h0M247.0 256.3h0M297.7 272.8h0M269.2 277.2h0M329.9 268.0h0M258.7 260.4h0M317.7 261.1h0M311.9 282.1h0M273.6 279.6h0M283.8 258.4h0M299.3 272.0h0M347.2 268.6h0M283.3 275.8h0M238.3 280.0h0M230.1 280.4h0M294.6 273.3h0M328.6 274.2h0M271.9 261.2h0M331.0 268.0h0M300.8 263.2h0M286.4 275.9h0M282.8 271.7h0M329.7 278.1h0M310.8 270.6h0M281.8 268.4h0M353.0 266.7h0M242.6 280.0h0M297.0 270.0h0M310.6 279.5h0M279.3 256.4h0M315.1 259.5h0M269.8 273.9h0M321.5 265.7h0M346.3 275.3h0M232.4 262.4h0M250.1 260.9h0M293.0 276.6h0M297.0 262.7h0M311.9 262.2h0M272.1 253.7h0M323.6 262.7h0M325.2 255.1h0M305.9 265.9h0M284.0 274.3h0M246.1 280.9h0M235.2 282.4h0M316.0 266.6h0M273.8 268.6h0M321.6 255.2h0M323.0 269.2h0M328.7 262.1h0M352.9 260.6h0M240.3 276.4h0M264.0 276.1h0M271.6 261.8h0M316.0 255.9h0M344.6 257.0h0M241.5 259.8h0M286.1 267.2h0M326.1 279.5h0M273.3 268.4h0M291.4 277.2h0M262.0 254.3h0M232.1 273.5h0M242.2 257.4h0M276.6 267.6h0M237.4 257.5h0M334.8 256.1h0M315.8 260.7h0M261.6 273.5h0M249.6 272.6h0M324.6 273.8h0M304.7 273.3h0M248.6 273.2h0M259.0 269.0h0M297.5 271.9h0M232.3 274.8h0M332.5 261.7h0M328.6 279.2h0M346.0 263.9h0M311.2 256.4h0M239.1 273.0h0M306.2 266.8h0M255.1 259.7h0M312.6 275.4h0M233.6 269.7h0M295.5 276.1h0M240.6 278.9h0M352.6 262.6h0M272.5 258.5h0M251.8 255.0h0M248.5 277.9h0M235.6 274.4h0M263.6 275.6h0M351.5 270.6h0M297.5 261.4h0M301.6 267.9h0M346.8 251.9h0M351.6 275.6h0M307.4 251.1h0M271.8 281.2h0M303.6 270.0h0M306.9 270.7h0M257.4 271.6h0M300.0 258.3h0M286.6 279.9h0M264.6 265.5h0M352.0 260.3h0M292.9 260.1h0M253.6 262.3h0M237.0 273.7h0M231.7 279.8h0M346.4 273.8h0M268.6 278.6h0M285.8 274.7h0M343.2 266.8h0M285.8 276.3h0M307.5 266.7h0M262.1 265.0h0M323.9 262.6h0M286.4 280.7h0M282.0 265.4h0M241.8 265.0h0M334.2 256.5h0M321.4 274.8h0M246.3 277.6h0M333.9 268.7h0M282.1 267.1h0M285.2 284.7h0M266.9 283.1h0M268.9 273.3h0M294.9 275.0h0M237.8 276.5h0M328.8 260.7h0M278.8 267.8h0M253.4 265.9h0M285.6 278.4h0M272.9 267.7h0M236.3 257.2h0M257.2 262.5h0M255.3 274.4h0M286.7 262.9h0M293.0 276.0h0M298.5 269.3h0M245.2 270.4h0M347.2 257.9h0M290.9 263.7h0M242.1 258.0h0M317.8 273.7h0M300.1 267.4h0M252.0 275.2h0M344.2 269.6h0M304.8 268.2h0M277.3 263.8h0M246.1 256.9h0M339.6 273.9h0M266.9 274.1h0M318.2 255.2h0M263.0 256.5h0M318.5 259.5h0M240.9 263.2h0M296.3 259.2h0M340.7 272.8h0M293.8 262.9h0M315.1 277.3h0M267.7 262.5h0M243.9 264.5h0M306.3 273.4h0M324.1 279.6h0M331.6 275.4h0M274.1 255.6h0M344.7 281.6h0M346.0 266.7h0M250.1 277.6h0M260.3 257.3h0M343.7 272.5h0M302.7 256.4h0M294.4 256.3h0M231.6 271.8h0M338.4 263.2h0M310.2 272.5h0M277.5 263.3h0M338.8 279.2h0M260.1 282.3h0M287.3 277.0h0M288.5 266.5h0M309.1 272.8h0M351.3 280.5h0M286.6 255.6h0M293.7 270.3h0M316.8 282.9h0M305.5 263.9h0M245.2 256.2h0M259.1 267.5h0M270.3 265.5h0M269.1 269.0h0M297.5 273.1h0M237.3 283.6h0M269.3 253.3h0M333.0 266.0h0M234.6 273.7h0M345.8 281.5h0M258.3 280.4h0M354.1 276.8h0M317.2 282.1h0M297.1 282.6h0M353.8 282.9h0M314.9 279.9h0M317.7 277.0h0M333.1 254.3h0M319.7 272.0h0M341.2 260.1h0M239.2 268.2h0M297.8 259.8h0M242.3 274.1h0M245.7 255.4h0M347.4 283.2h0M267.5 274.8h0M352.8 262.0h0M288.5 254.6h0M334.5 267.6h0M291.9 257.6h0M304.7 259.4h0M316.1 254.5h0M313.0 273.8h0M263.1 257.5h0M279.3 265.1h0M315.5 269.5h0M247.9 280.3h0M240.5 257.9h0M345.3 264.4h0M334.7 270.5h0M351.0 276.8h0M256.8 260.2h0M274.8 273.4h0M273.6 268.2h0M325.5 262.4h0M284.7 263.4h0M253.1 264.7h0M243.9 255.5h0M290.0 264.1h0M289.2 272.6h0M260.6 267.4h0M299.0 270.8h0M280.8 265.0h0M303.8 264.8h0M304.9 271.0h0M260.2 281.0h0M291.5 261.1h0M235.2 280.9h0M340.8 259.5h0M307.0 274.1h0M247.9 266.4h0M286.5 269.5h0M249.1 264.6h0M294.4 264.5h0M232.1 271.7h0M242.4 268.7h0M278.6 266.4h0M289.2 282.6h0M315.0 276.6h0M337.7 259.9h0M292.5 276.1h0M249.1 272.2h0M339.7 269.5h0M287.1 256.9h0M250.7 268.2h0M336.8 267.6h0M293.1 265.7h0M336.8 257.7h0M308.5 258.4h0M332.4 263.9h0M261.6 274.8h0M290.9 255.8h0M268.9 257.1h0M314.9 255.0h0M270.7 257.5h0M124.0 210.0h0M123.3 213.9h0M120.2 231.7h0M122.0 236.0h0M171.3 245.0h0M189.0 243.0h0M225.0 240.0h0M225.0 245.0h0M225.0 249.6h0M283.4 244.0h0M287.0 244.5h0M292.7 248.7h0M330.8 248.7h0M336.0 248.7h0M272.0 254.0h0M278.8 254.0h0M125.4 311.3h0M120.5 318.0h0M125.4 321.8h0M137.0 298.0h0M137.5 303.0h0M138.0 308.0h0M138.5 313.0h0M127.0 288.0h0M130.0 290.0h0M133.0 294.0h0M127.0 295.0h0" stroke="#1408d2"/><path d="M38.0 268.4h0M38.3 273.2h0" stroke="#e3140c"/><path d="M39.1 282.0h0" stroke="#93400e"/><path d="M40.5 278.5h0" stroke="#e3140c"/><path d="M40.5 282.4h0" stroke="#c9621c"/><path d="M40.7 275.6h0" stroke="#e3140c"/><path d="M40.7 281.0h0M41.4 280.4h0" stroke="#c9621c"/><path d="M41.5 280.0h0" stroke="#e3140c"/><path d="M41.5 280.8h0" stroke="#c9621c"/><path d="M41.5 278.2h0" stroke="#e3140c"/><path d="M41.6 283.9h0M41.6 286.2h0" stroke="#c9621c"/><path d="M41.8 294.8h0M42.0 290.8h0" stroke="#e3140c"/><path d="M42.0 287.0h0" stroke="#c9621c"/><path d="M42.0 297.7h0M42.3 301.3h0M42.4 291.1h0M42.5 299.2h0M42.6 303.8h0M42.8 297.1h0" stroke="#e3140c"/><path d="M43.3 285.8h0M43.4 287.4h0M43.8 281.2h0M43.8 285.2h0" stroke="#c9621c"/><path d="M43.8 292.8h0M44.1 301.5h0M44.1 293.0h0M44.2 294.0h0M44.4 292.3h0M44.9 293.4h0M44.9 298.9h0M45.0 300.0h0M45.4 302.4h0M45.4 302.0h0M45.5 302.7h0M45.6 292.4h0M45.7 304.1h0M45.7 309.0h0M45.7 303.3h0M45.8 301.2h0M46.4 306.1h0M46.5 298.1h0M46.7 301.3h0M46.7 303.5h0M47.4 305.6h0M48.0 302.4h0M49.1 289.4h0M49.2 288.8h0" stroke="#e3140c"/><path d="M49.4 283.0h0" stroke="#c9621c"/><path d="M49.4 270.0h0M49.6 273.2h0M50.0 278.7h0" stroke="#e3140c"/><path d="M50.1 281.8h0" stroke="#c9621c"/><path d="M50.1 277.5h0" stroke="#e3140c"/><path d="M50.1 284.4h0" stroke="#c9621c"/><path d="M50.2 288.9h0M50.2 288.3h0M50.2 299.3h0M51.1 293.7h0M51.2 297.4h0M51.4 295.7h0" stroke="#e3140c"/><path d="M51.8 282.0h0M51.9 286.9h0" stroke="#c9621c"/><path d="M52.6 288.8h0" stroke="#e3140c"/><path d="M52.6 281.8h0" stroke="#c9621c"/><path d="M53.0 276.3h0M53.3 276.4h0" stroke="#e3140c"/><path d="M53.4 274.5h0M53.7 277.5h0" stroke="#93400e"/><path d="M53.7 265.8h0" stroke="#e3140c"/><path d="M53.8 272.6h0M53.9 275.6h0M54.3 272.5h0M54.8 276.2h0M55.3 279.4h0" stroke="#93400e"/><path d="M55.3 281.7h0" stroke="#c9621c"/><path d="M55.7 290.5h0" stroke="#e3140c"/><path d="M55.8 284.3h0" stroke="#c9621c"/><path d="M55.9 293.7h0M56.2 292.3h0M56.4 289.5h0M56.5 291.3h0M56.6 285.2h0M57.0 297.6h0M57.2 304.4h0M57.3 302.1h0" stroke="#e3140c"/><path d="M57.4 300.0h0M57.5 303.9h0" stroke="#93400e"/><path d="M57.5 307.2h0" stroke="#e3140c"/><path d="M57.6 303.0h0" stroke="#93400e"/><path d="M57.6 295.0h0" stroke="#e3140c"/><path d="M58.1 299.3h0M58.1 280.3h0M58.2 277.4h0" stroke="#93400e"/><path d="M58.2 290.1h0M58.4 288.1h0" stroke="#e3140c"/><path d="M58.5 279.3h0M58.5 284.9h0M58.6 285.6h0" stroke="#93400e"/><path d="M58.7 290.9h0M58.8 288.3h0M58.9 290.7h0M59.9 293.0h0M60.0 283.7h0M60.2 286.0h0M60.3 285.9h0M60.6 285.1h0M60.6 292.8h0M60.7 298.4h0M60.9 304.3h0M60.9 302.9h0M60.9 301.8h0M61.3 300.2h0M61.4 296.2h0M62.0 310.8h0M62.2 303.1h0M62.5 302.2h0M62.5 291.0h0M62.5 284.2h0M62.6 285.5h0M62.9 296.0h0M63.0 294.3h0M63.2 299.1h0M63.2 301.6h0M63.3 298.5h0M63.4 291.9h0M63.5 298.9h0M63.9 296.4h0" stroke="#e3140c"/><path d="M64.1 295.9h0M64.1 296.1h0M64.2 289.7h0M64.4 296.2h0M64.4 291.4h0" stroke="#93400e"/><path d="M64.6 287.4h0" stroke="#e3140c"/><path d="M64.6 291.2h0" stroke="#93400e"/><path d="M64.7 283.5h0" stroke="#e3140c"/><path d="M64.9 292.4h0M64.9 291.6h0M65.3 294.6h0M65.4 295.2h0M65.8 296.4h0M65.9 298.6h0M66.1 293.5h0M66.1 296.7h0M66.4 291.3h0" stroke="#93400e"/><path d="M66.4 286.9h0" stroke="#e3140c"/><path d="M66.5 293.9h0M66.6 305.7h0M66.8 309.4h0M66.9 310.8h0" stroke="#93400e"/><path d="M66.9 306.9h0M66.9 307.7h0M67.4 307.9h0M67.8 310.8h0M67.9 308.9h0M68.1 309.7h0M68.3 305.7h0" stroke="#e3140c"/><path d="M68.3 309.2h0M68.8 310.8h0" stroke="#c9621c"/><path d="M68.9 300.4h0M69.0 293.3h0M69.0 295.7h0" stroke="#93400e"/><path d="M69.2 287.2h0M69.2 287.4h0M69.5 278.6h0M69.5 273.3h0M69.6 272.9h0M69.6 276.2h0M69.7 284.3h0M69.8 282.0h0M69.9 279.8h0" stroke="#e3140c"/><path d="M69.9 288.6h0M70.2 299.2h0" stroke="#93400e"/><path d="M70.5 287.9h0" stroke="#e3140c"/><path d="M70.5 295.0h0" stroke="#93400e"/><path d="M70.7 287.1h0" stroke="#e3140c"/><path d="M70.7 298.8h0M70.9 296.5h0M71.2 298.9h0" stroke="#93400e"/><path d="M71.2 286.6h0M71.2 286.2h0M71.2 287.8h0M71.3 287.5h0M71.7 276.8h0M72.0 271.7h0M72.0 269.1h0M72.6 271.2h0M72.9 278.2h0M72.9 278.9h0M73.0 276.3h0M73.8 280.0h0" stroke="#e3140c"/><path d="M73.8 283.8h0M74.3 293.7h0M74.5 283.2h0M74.7 291.6h0" stroke="#93400e"/><path d="M74.9 298.3h0M74.9 291.4h0M75.0 288.8h0M75.6 289.5h0M76.1 275.4h0M76.1 285.9h0M76.5 294.9h0M76.6 284.3h0M76.8 284.8h0M77.3 285.5h0M77.3 282.8h0M77.4 285.3h0M77.5 269.1h0M78.0 276.3h0M78.0 270.4h0M78.3 267.0h0M78.3 270.4h0M78.5 268.0h0M78.6 271.2h0M78.7 283.9h0M78.9 286.6h0M79.1 284.4h0M79.3 289.8h0M79.4 294.6h0M79.7 295.5h0M79.9 296.8h0" stroke="#e3140c"/><path d="M80.5 292.8h0" stroke="#93400e"/><path d="M80.6 286.3h0" stroke="#e3140c"/><path d="M80.7 278.7h0" stroke="#93400e"/><path d="M81.3 284.6h0M81.4 283.3h0M81.5 281.1h0M81.9 281.6h0" stroke="#e3140c"/><path d="M81.9 277.7h0" stroke="#93400e"/><path d="M82.0 287.5h0" stroke="#e3140c"/><path d="M82.1 294.3h0M82.2 290.5h0" stroke="#93400e"/><path d="M82.5 287.8h0" stroke="#e3140c"/><path d="M82.6 289.0h0" stroke="#93400e"/><path d="M82.7 287.5h0M83.1 282.0h0M83.5 284.6h0" stroke="#e3140c"/><path d="M84.2 274.0h0M84.5 288.4h0" stroke="#93400e"/><path d="M84.8 297.2h0M85.3 305.1h0M85.4 297.3h0M85.4 287.3h0" stroke="#e3140c"/><path d="M85.5 274.7h0" stroke="#93400e"/><path d="M86.0 268.0h0M86.0 270.5h0" stroke="#e3140c"/><path d="M86.4 273.5h0M86.6 276.0h0" stroke="#93400e"/><path d="M87.1 269.0h0" stroke="#e3140c"/><path d="M87.2 272.1h0" stroke="#93400e"/><path d="M87.6 280.3h0" stroke="#e3140c"/><path d="M87.7 276.8h0M87.8 275.1h0M87.8 273.3h0" stroke="#93400e"/><path d="M87.9 270.8h0" stroke="#e3140c"/><path d="M88.2 270.7h0" stroke="#93400e"/><path d="M88.4 285.1h0M88.4 287.2h0M88.5 293.7h0M88.6 288.8h0M88.6 294.3h0M88.7 287.6h0M88.8 293.0h0M88.8 288.5h0M88.9 286.8h0M89.1 291.3h0M89.1 308.9h0M89.2 304.2h0" stroke="#e3140c"/><path d="M89.4 264.4h0M88.7 266.2h0M88.3 267.9h0M89.6 270.8h0" stroke="#93400e"/><path d="M89.3 273.4h0M89.0 275.5h0M88.9 278.9h0M88.0 280.5h0M89.2 283.8h0M88.9 285.9h0M88.9 288.3h0M89.1 290.5h0M88.2 291.8h0" stroke="#e3140c"/><path d="M88.7 296.7h0M89.4 299.3h0M88.7 301.6h0M89.2 303.9h0M90.1 251.0h0M90.0 254.0h0" stroke="#93400e"/><path d="M90.5 256.4h0M90.7 259.7h0M91.5 262.6h0" stroke="#e3140c"/><path d="M89.8 265.4h0M89.9 267.9h0M90.8 270.2h0" stroke="#93400e"/><path d="M90.0 272.8h0M90.1 275.6h0M90.5 277.7h0M90.7 281.6h0M90.7 283.3h0M91.2 285.6h0M91.1 287.8h0M91.2 290.5h0M91.0 293.4h0M90.6 295.5h0" stroke="#e3140c"/><path d="M90.7 298.6h0M91.2 302.2h0M91.1 303.9h0M93.7 250.0h0M93.4 252.0h0M93.3 253.5h0" stroke="#93400e"/><path d="M93.7 256.5h0M93.6 260.2h0M93.2 261.3h0M93.7 263.0h0" stroke="#e3140c"/><path d="M93.5 266.9h0M93.3 269.8h0M92.9 271.3h0" stroke="#93400e"/><path d="M93.3 273.5h0M93.5 276.9h0M93.0 278.5h0M93.2 280.4h0M93.7 283.7h0M92.9 285.9h0M93.1 289.2h0M94.3 290.9h0M92.8 293.9h0" stroke="#e3140c"/><path d="M92.9 297.1h0M93.7 300.0h0M93.1 301.8h0" stroke="#c9621c"/><path d="M96.4 260.2h0" stroke="#93400e"/><path d="M96.0 261.3h0" stroke="#e3140c"/><path d="M96.1 262.9h0" stroke="#c9621c"/><path d="M95.2 266.6h0M95.5 269.6h0M95.9 272.0h0" stroke="#93400e"/><path d="M95.9 274.4h0M95.8 276.0h0M96.1 278.5h0M96.0 281.1h0M95.4 283.1h0M95.9 285.1h0M95.6 287.9h0M95.5 289.6h0M95.4 290.4h0M95.5 294.3h0M95.3 295.9h0M94.7 297.5h0M95.5 299.7h0" stroke="#e3140c"/><path d="M97.9 246.0h0M98.5 248.4h0M99.1 251.0h0M98.2 252.8h0M98.7 254.1h0" stroke="#93400e"/><path d="M97.9 256.9h0M98.5 260.5h0M98.5 262.8h0M98.4 265.5h0M97.4 267.2h0M97.9 270.1h0M98.3 271.7h0M99.0 274.5h0M97.5 277.9h0M98.8 279.8h0M98.1 283.6h0M97.6 286.2h0M98.1 288.5h0" stroke="#e3140c"/><path d="M101.1 240.0h0M101.5 242.1h0M100.7 243.3h0M101.3 246.3h0M100.8 248.7h0M101.3 251.2h0M100.9 254.2h0" stroke="#93400e"/><path d="M102.1 256.7h0M101.2 257.7h0M101.1 260.1h0" stroke="#e3140c"/><path d="M100.9 263.8h0" stroke="#93400e"/><path d="M100.6 265.4h0M101.3 268.9h0M102.0 271.4h0M101.0 273.9h0M101.8 276.0h0M101.5 277.3h0M101.8 279.5h0" stroke="#e3140c"/><path d="M100.9 281.4h0M101.3 284.3h0M101.7 286.1h0" stroke="#93400e"/><path d="M101.7 288.3h0M101.3 290.3h0M106.1 253.8h0M105.6 255.9h0M105.0 258.1h0M105.5 259.8h0M106.3 261.8h0" stroke="#e3140c"/><path d="M105.9 264.8h0M106.4 267.7h0M105.5 269.2h0M105.5 271.8h0" stroke="#93400e"/><path d="M105.7 274.5h0M105.9 279.0h0M106.3 280.7h0M105.9 283.2h0M106.0 285.8h0M105.3 287.4h0M105.3 289.8h0M105.8 292.0h0M105.7 293.6h0M105.7 295.4h0M105.7 298.6h0M105.8 301.7h0" stroke="#e3140c"/><path d="M108.3 266.5h0M108.3 268.6h0M107.5 271.0h0" stroke="#93400e"/><path d="M108.5 272.9h0M108.2 276.2h0M108.7 279.3h0M108.5 281.3h0M107.7 283.5h0M108.4 286.6h0M108.8 289.0h0M107.9 291.1h0M108.6 293.1h0M108.4 297.3h0M111.0 259.4h0M110.9 261.8h0M109.6 263.8h0" stroke="#e3140c"/><path d="M110.5 266.7h0M110.3 268.6h0" stroke="#93400e"/><path d="M110.0 272.2h0M109.8 274.3h0M110.1 276.2h0M110.2 279.6h0M109.8 281.2h0M109.7 284.3h0M109.8 285.8h0M110.3 288.6h0M111.8 260.7h0M113.1 264.1h0M112.4 267.1h0" stroke="#e3140c"/><path d="M112.0 269.5h0M112.3 272.4h0M113.0 274.3h0M112.1 275.0h0" stroke="#93400e"/><path d="M111.6 277.8h0" stroke="#e3140c"/><path d="M112.6 279.9h0" stroke="#93400e"/><path d="M112.4 282.5h0M112.5 285.1h0M112.9 287.6h0" stroke="#e3140c"/><path d="M112.4 288.9h0M112.2 292.6h0" stroke="#c9621c"/><path d="M112.1 295.4h0M112.4 297.4h0M112.8 300.1h0M112.1 302.1h0M113.9 266.4h0M114.4 267.6h0M114.7 270.3h0" stroke="#e3140c"/><path d="M114.4 272.6h0M114.2 275.0h0M114.4 277.1h0" stroke="#93400e"/><path d="M114.2 280.1h0M113.0 281.6h0M113.7 284.1h0M114.3 286.5h0M114.3 289.5h0M114.1 291.2h0M114.5 293.0h0M113.5 296.2h0M114.4 299.0h0M113.3 300.4h0M114.4 303.6h0M116.6 262.1h0" stroke="#e3140c"/><path d="M116.9 265.4h0M116.2 265.8h0M116.8 268.9h0M116.3 272.3h0M116.8 273.2h0M116.2 275.7h0M116.7 278.2h0" stroke="#93400e"/><path d="M116.8 281.2h0M116.5 284.1h0M116.7 285.2h0M116.4 288.0h0M116.2 289.5h0M117.2 292.4h0M116.6 294.5h0M116.8 296.9h0M116.7 300.2h0M117.4 301.6h0M117.7 267.3h0M117.8 269.0h0M117.9 271.8h0" stroke="#e3140c"/><path d="M117.4 274.6h0M117.5 277.2h0M118.9 279.1h0" stroke="#93400e"/><path d="M118.3 280.8h0M118.6 284.2h0M118.2 286.6h0M118.2 288.3h0M117.8 291.2h0M117.8 293.3h0M118.7 294.9h0" stroke="#e3140c"/><path d="M102.5 294.3h0M102.3 299.4h0M102.5 304.3h0M102.4 310.0h0M102.3 316.1h0M109.1 290.0h0M109.8 295.8h0M109.6 302.8h0M110.0 307.6h0M66.3 302.6h0M66.5 307.5h0M66.1 313.7h0M66.5 317.6h0M129.3 226.8h0M129.9 232.7h0M130.0 237.6h0M130.2 241.9h0M134.0 210.0h0M138.5 215.5h0M139.5 221.5h0M136.5 231.0h0M138.8 231.0h0M139.0 240.0h0M133.0 209.0h0M137.0 212.0h0M138.0 219.0h0M148.6 223.9h0M148.4 228.2h0M149.5 233.9h0M148.8 238.8h0M149.5 243.0h0M157.4 227.1h0M158.2 231.5h0M158.5 237.3h0M157.8 241.3h0M158.1 246.5h0M158.3 248.7h0M157.6 253.1h0M149.5 222.7h0M150.0 229.3h0M149.6 234.5h0M149.6 240.9h0M149.4 245.2h0" stroke="#93400e"/><path d="M154.5 239.7h0" stroke="#e3140c"/><path d="M155.2 245.8h0" stroke="#93400e"/><path d="M155.4 250.3h0M155.0 255.6h0M154.6 261.6h0M154.6 266.8h0M155.3 271.6h0" stroke="#e3140c"/><path d="M155.4 277.2h0M160.0 225.3h0M159.8 231.0h0" stroke="#93400e"/><path d="M160.6 238.1h0" stroke="#e3140c"/><path d="M160.2 243.4h0" stroke="#8f8f1c"/><path d="M160.2 249.2h0M160.0 254.2h0M159.6 260.4h0M159.7 265.7h0M160.5 271.4h0" stroke="#e3140c"/><path d="M159.9 278.0h0M144.9 257.1h0M137.8 260.7h0M138.3 269.1h0M158.0 294.9h0M157.9 292.7h0M142.8 267.9h0M133.0 256.1h0" stroke="#93400e"/><path d="M130.9 280.9h0M158.1 266.6h0" stroke="#e3140c"/><path d="M149.9 278.0h0" stroke="#8f8f1c"/><path d="M151.9 280.4h0M143.8 290.2h0M145.3 277.3h0" stroke="#e3140c"/><path d="M154.2 288.9h0M128.9 291.4h0M127.4 251.7h0" stroke="#93400e"/><path d="M148.3 296.3h0" stroke="#e3140c"/><path d="M122.5 272.4h0" stroke="#c9621c"/><path d="M157.8 274.6h0" stroke="#93400e"/><path d="M141.9 288.5h0M138.9 285.1h0M121.6 295.8h0" stroke="#e3140c"/><path d="M131.3 276.9h0" stroke="#93400e"/><path d="M155.4 255.8h0M145.3 266.2h0M153.6 285.9h0" stroke="#e3140c"/><path d="M139.9 257.3h0" stroke="#c9621c"/><path d="M143.6 272.3h0" stroke="#e3140c"/><path d="M149.9 258.1h0" stroke="#8f8f1c"/><path d="M137.8 271.6h0" stroke="#93400e"/><path d="M158.4 257.4h0M145.8 268.2h0M123.7 290.8h0M155.8 266.5h0" stroke="#e3140c"/><path d="M122.2 286.7h0" stroke="#8f8f1c"/><path d="M139.9 258.0h0" stroke="#e3140c"/><path d="M125.0 260.7h0" stroke="#c9621c"/><path d="M156.7 255.7h0" stroke="#e3140c"/><path d="M146.5 291.3h0" stroke="#8f8f1c"/><path d="M126.1 264.4h0M155.5 260.7h0M136.5 293.2h0M130.4 281.9h0M147.2 271.5h0M136.3 293.7h0M137.2 277.9h0M142.2 278.8h0M131.9 282.3h0" stroke="#e3140c"/><path d="M151.2 259.0h0M149.2 274.0h0" stroke="#93400e"/><path d="M157.2 287.9h0" stroke="#e3140c"/><path d="M132.8 269.5h0" stroke="#93400e"/><path d="M132.9 296.7h0" stroke="#e3140c"/><path d="M142.9 265.1h0M134.3 263.5h0" stroke="#93400e"/><path d="M128.2 284.8h0" stroke="#e3140c"/><path d="M143.9 268.8h0" stroke="#93400e"/><path d="M150.0 271.9h0" stroke="#e3140c"/><path d="M156.8 276.4h0" stroke="#93400e"/><path d="M142.2 277.3h0" stroke="#e3140c"/><path d="M140.4 259.9h0M129.6 259.0h0" stroke="#93400e"/><path d="M129.8 279.6h0" stroke="#c9621c"/><path d="M146.2 262.4h0" stroke="#8f8f1c"/><path d="M153.3 252.1h0M139.5 282.1h0M152.4 284.6h0" stroke="#e3140c"/><path d="M123.4 280.9h0" stroke="#8f8f1c"/><path d="M151.7 270.7h0M140.6 279.1h0M122.5 265.2h0" stroke="#e3140c"/><path d="M150.8 292.0h0" stroke="#93400e"/><path d="M145.0 253.9h0M144.9 296.4h0M125.8 288.1h0M149.7 281.7h0" stroke="#e3140c"/><path d="M134.5 274.5h0" stroke="#c9621c"/><path d="M153.8 260.0h0M137.7 251.6h0M142.3 282.5h0M159.9 283.2h0M159.7 284.9h0M159.7 287.6h0M159.3 290.1h0M159.5 292.2h0M160.5 295.0h0M160.6 297.6h0M160.8 299.1h0M160.1 302.2h0" stroke="#e3140c"/><path d="M161.4 284.6h0M161.7 286.9h0M161.1 288.7h0M161.5 291.0h0M162.0 294.7h0M161.6 296.6h0M161.8 297.4h0M161.7 301.3h0" stroke="#93400e"/><path d="M163.6 281.3h0M163.4 282.6h0M163.6 285.3h0M163.5 289.1h0M163.8 290.9h0M163.9 294.3h0M163.2 295.1h0M164.6 299.1h0M163.7 300.0h0M163.9 302.9h0M163.2 305.7h0M166.1 288.4h0M166.4 290.7h0M165.5 293.6h0M166.0 295.6h0M166.4 298.9h0M168.4 286.1h0M168.2 288.8h0M168.2 290.5h0M168.8 293.5h0M168.9 295.8h0M168.4 298.2h0M170.5 284.2h0M169.8 286.7h0M170.1 288.1h0M170.2 290.1h0M170.5 293.6h0M170.3 295.3h0M170.4 298.3h0M172.0 286.9h0M172.0 288.9h0M171.9 290.7h0M171.5 293.8h0M171.0 295.4h0M171.3 298.2h0M172.1 301.0h0M171.7 303.4h0M171.4 305.7h0M171.4 307.3h0M171.1 309.9h0M173.7 290.7h0M172.6 292.6h0M174.4 295.0h0M173.5 297.2h0M173.9 299.7h0M173.3 301.5h0M174.0 305.0h0M175.6 281.4h0M176.0 283.4h0M175.5 286.0h0M176.0 287.9h0M174.4 289.5h0M175.8 291.8h0M175.8 294.6h0M175.7 297.3h0M176.3 300.0h0M175.7 301.5h0M175.6 305.0h0M178.0 281.4h0M177.0 283.7h0M177.9 285.4h0M178.5 288.0h0M177.6 290.2h0M178.2 292.7h0M178.6 295.9h0M178.0 298.2h0M178.0 300.5h0M178.3 302.8h0M178.4 305.6h0M177.8 308.1h0M180.8 287.4h0M180.6 288.5h0M180.8 290.9h0M179.7 294.6h0M180.7 297.9h0M180.4 299.1h0M181.5 288.5h0M182.1 290.8h0M182.2 294.5h0M181.5 296.3h0M182.0 299.8h0M181.6 302.1h0M182.7 282.4h0M182.8 284.8h0M183.2 288.5h0M182.9 292.0h0M183.2 292.1h0M182.1 295.8h0M183.1 297.9h0M184.0 282.6h0M184.6 284.2h0M184.7 286.2h0M185.3 287.7h0M184.4 290.8h0M184.3 291.9h0M184.7 294.1h0M184.4 297.8h0M184.8 300.3h0M184.6 302.5h0M184.3 304.7h0M185.8 289.3h0M185.8 290.8h0M185.2 293.8h0M185.7 296.3h0M185.6 299.5h0M188.5 288.6h0M188.0 291.1h0M188.7 293.3h0M188.0 296.8h0M187.7 297.9h0M187.7 299.8h0M189.0 302.7h0M190.3 281.1h0M189.5 283.7h0M189.6 285.6h0M189.4 288.4h0M190.1 290.4h0M189.6 294.3h0M189.2 295.9h0M190.6 299.9h0M189.5 302.6h0M189.3 304.9h0M189.7 307.5h0M191.9 289.4h0M192.8 291.6h0M192.5 293.2h0M193.0 295.8h0M192.2 298.5h0M192.3 301.5h0M192.2 304.7h0M191.5 306.1h0M194.5 285.0h0M193.8 287.5h0M194.5 289.8h0M193.9 292.0h0M193.6 294.4h0M193.4 296.1h0M193.9 298.8h0M194.2 300.8h0M194.4 305.1h0M195.3 284.0h0M194.8 285.5h0M194.8 287.7h0M195.1 289.4h0" stroke="#e3140c"/><path d="M195.0 293.6h0M195.6 295.8h0M195.2 299.0h0M195.2 300.2h0" stroke="#93400e"/><path d="M197.7 287.8h0M197.4 289.6h0M197.4 292.8h0M197.7 295.3h0M198.0 297.9h0M197.5 300.3h0M198.0 302.7h0M200.3 287.0h0M200.2 289.2h0M199.8 291.1h0M201.0 293.7h0M199.4 296.9h0M199.8 299.4h0M202.8 283.8h0M203.5 286.8h0M203.5 290.2h0M203.4 291.8h0M202.7 294.8h0M203.2 296.7h0M202.6 298.7h0M204.4 290.8h0M204.9 293.6h0M204.7 295.9h0M204.3 298.3h0M204.3 300.8h0M205.2 302.4h0M204.9 305.8h0M204.9 307.1h0M204.8 308.9h0M205.4 285.3h0M205.4 287.8h0M205.8 290.0h0M205.2 292.2h0M205.5 295.5h0M206.6 297.0h0M205.5 298.4h0M206.2 300.9h0M205.6 304.4h0" stroke="#e3140c"/><path d="M206.7 283.7h0M207.6 286.2h0M207.2 289.4h0M206.7 290.4h0M207.8 294.0h0" stroke="#93400e"/><path d="M207.1 296.6h0M207.2 297.9h0M207.0 300.8h0M207.0 302.6h0M207.1 304.4h0M207.3 306.6h0M209.1 286.6h0M209.2 289.1h0M209.7 291.3h0M209.1 293.8h0M210.0 297.0h0M209.0 299.7h0M208.9 301.6h0M211.0 286.2h0M211.4 288.9h0M211.5 291.6h0M211.5 293.9h0M211.2 296.4h0M211.3 299.2h0" stroke="#e3140c"/><path d="M210.9 301.3h0M211.1 302.0h0M212.0 304.6h0" stroke="#93400e"/><path d="M212.0 289.6h0M213.1 291.1h0M213.4 293.9h0M212.6 297.0h0M214.8 284.8h0M216.0 287.2h0M215.1 290.3h0M215.8 291.8h0M215.0 294.8h0M214.7 297.4h0M215.4 300.2h0M216.0 302.8h0M217.4 289.4h0M217.2 292.6h0M218.1 294.4h0M217.8 297.7h0M217.8 300.3h0M218.2 303.5h0M217.6 306.0h0M219.5 290.2h0M219.7 292.8h0M219.8 295.5h0M218.7 298.5h0M219.5 299.6h0M219.9 302.8h0M219.8 305.7h0M222.5 290.5h0M222.6 292.7h0M221.2 295.5h0M221.3 297.9h0M221.9 299.9h0M221.8 303.3h0M222.3 306.3h0M221.4 307.7h0" stroke="#e3140c"/><path d="M224.1 290.3h0M223.9 293.0h0" stroke="#93400e"/><path d="M223.5 294.9h0M223.6 297.0h0M224.4 297.9h0M224.3 302.1h0M224.3 302.7h0M223.5 305.1h0M225.7 287.6h0M225.9 290.5h0M226.0 293.2h0M226.0 294.8h0M226.1 297.2h0M226.4 299.7h0M226.3 303.1h0M225.9 304.8h0M226.2 306.5h0M227.8 282.7h0M228.4 285.3h0M227.7 287.4h0M228.7 289.3h0M228.5 292.0h0M228.0 294.8h0M227.7 296.8h0M227.7 300.7h0M228.1 303.1h0M228.4 306.3h0M229.7 288.0h0M228.9 291.1h0M229.4 294.2h0M229.0 296.0h0M229.6 297.8h0M229.4 300.6h0M229.6 303.3h0M229.1 305.3h0M229.9 306.5h0M230.5 288.0h0M229.8 289.8h0M230.5 293.5h0M230.8 294.9h0M231.5 297.8h0M230.3 299.6h0M230.3 302.3h0M230.3 303.4h0" stroke="#e3140c"/><path d="M230.9 305.3h0M230.6 307.5h0" stroke="#93400e"/><path d="M233.5 287.2h0M232.6 289.8h0M232.8 293.6h0M231.7 294.9h0M232.6 296.9h0M231.9 298.0h0M226.8 280.2h0" stroke="#e3140c"/><path d="M210.1 282.3h0M178.2 284.6h0" stroke="#5c14b8"/><path d="M182.6 280.3h0" stroke="#e3140c"/><path d="M180.4 276.8h0M200.6 276.3h0M198.0 283.8h0M217.5 277.5h0" stroke="#5c14b8"/><path d="M209.3 280.0h0" stroke="#93400e"/><path d="M172.2 274.3h0M169.2 280.2h0" stroke="#e3140c"/><path d="M203.0 273.8h0M196.2 273.4h0M188.5 275.7h0M210.2 274.2h0" stroke="#5c14b8"/><path d="M224.6 282.9h0" stroke="#93400e"/><path d="M216.6 281.8h0M220.1 283.3h0" stroke="#5c14b8"/><path d="M183.0 275.6h0" stroke="#e3140c"/><path d="M214.7 275.2h0" stroke="#5c14b8"/><path d="M221.4 282.5h0M225.4 278.0h0" stroke="#e3140c"/><path d="M169.8 274.6h0M165.2 280.9h0" stroke="#5c14b8"/><path d="M170.2 283.6h0" stroke="#e3140c"/><path d="M185.3 278.5h0" stroke="#5c14b8"/><path d="M184.7 281.1h0" stroke="#e3140c"/><path d="M224.4 276.4h0" stroke="#5c14b8"/><path d="M161.7 277.6h0" stroke="#93400e"/><path d="M175.9 272.9h0" stroke="#e3140c"/><path d="M207.1 279.4h0" stroke="#5c14b8"/><path d="M201.8 287.4h0" stroke="#e3140c"/><path d="M221.4 272.8h0M164.5 279.6h0M214.6 280.1h0M224.6 280.9h0" stroke="#5c14b8"/><path d="M190.8 279.3h0" stroke="#93400e"/><path d="M203.0 274.5h0" stroke="#e3140c"/><path d="M226.6 280.1h0" stroke="#5c14b8"/><path d="M229.0 284.7h0" stroke="#93400e"/><path d="M228.2 281.2h0M196.2 276.6h0" stroke="#e3140c"/><path d="M165.9 283.3h0" stroke="#93400e"/><path d="M166.3 280.8h0" stroke="#5c14b8"/><path d="M195.6 277.7h0" stroke="#93400e"/><path d="M172.6 276.1h0" stroke="#5c14b8"/><path d="M225.9 282.7h0" stroke="#93400e"/><path d="M179.4 281.3h0" stroke="#e3140c"/><path d="M183.8 274.8h0M181.5 284.7h0" stroke="#5c14b8"/><path d="M171.4 279.9h0" stroke="#e3140c"/><path d="M176.8 277.3h0M199.5 274.3h0M218.0 279.8h0M194.7 277.2h0" stroke="#93400e"/><path d="M195.1 286.6h0" stroke="#5c14b8"/><path d="M217.0 283.4h0" stroke="#93400e"/><path d="M189.5 277.6h0" stroke="#5c14b8"/><path d="M196.0 285.6h0" stroke="#93400e"/><path d="M202.6 275.9h0" stroke="#5c14b8"/><path d="M232.7 284.0h0M232.1 286.5h0" stroke="#8f8f1c"/><path d="M231.7 288.3h0" stroke="#c9621c"/><path d="M232.6 290.2h0M232.4 294.0h0M231.5 297.1h0" stroke="#e3140c"/><path d="M232.1 298.5h0M232.5 300.1h0" stroke="#8f8f1c"/><path d="M232.0 303.3h0M232.7 306.5h0" stroke="#e3140c"/><path d="M236.4 285.4h0" stroke="#93400e"/><path d="M236.4 289.5h0M236.3 291.8h0M235.9 294.4h0M236.0 297.3h0M237.4 300.6h0M236.5 302.6h0" stroke="#e3140c"/><path d="M237.0 283.6h0" stroke="#93400e"/><path d="M238.1 286.4h0" stroke="#c9621c"/><path d="M237.7 288.9h0M237.9 291.6h0M237.6 294.4h0" stroke="#e3140c"/><path d="M237.8 297.2h0M237.6 299.3h0M237.3 301.4h0M237.9 303.0h0" stroke="#c9621c"/><path d="M238.8 305.5h0M237.2 308.1h0M238.1 310.9h0" stroke="#e3140c"/><path d="M238.2 314.3h0M241.8 289.6h0M241.4 293.6h0M241.8 295.3h0M242.1 298.6h0M242.0 300.9h0M242.4 302.4h0M242.1 304.2h0M242.2 307.7h0M244.0 283.7h0M244.0 286.7h0M243.4 290.2h0M245.0 293.0h0M244.9 295.1h0" stroke="#93400e"/><path d="M244.2 297.6h0M244.6 298.5h0M245.4 302.3h0M244.8 304.0h0" stroke="#8f8f1c"/><path d="M246.2 290.8h0M246.1 292.1h0M246.7 294.2h0M248.0 297.6h0M246.7 300.2h0M246.3 302.4h0M247.0 303.7h0" stroke="#93400e"/><path d="M246.6 306.3h0M246.1 307.7h0M246.5 310.8h0" stroke="#8f8f1c"/><path d="M246.9 313.2h0" stroke="#c9621c"/><path d="M249.7 289.9h0M250.0 292.0h0M249.9 294.4h0" stroke="#e3140c"/><path d="M250.2 297.6h0M250.4 301.6h0" stroke="#93400e"/><path d="M252.5 281.5h0M251.1 283.5h0M251.7 286.5h0" stroke="#c9621c"/><path d="M251.9 290.1h0M251.3 292.7h0M251.2 294.3h0" stroke="#e3140c"/><path d="M252.0 297.1h0M251.6 299.6h0M251.3 301.9h0" stroke="#93400e"/><path d="M251.4 304.5h0M251.3 305.9h0" stroke="#8f8f1c"/><path d="M251.5 308.3h0M251.6 311.6h0" stroke="#93400e"/><path d="M255.2 286.1h0" stroke="#c9621c"/><path d="M254.5 288.4h0M254.8 291.1h0M255.5 293.4h0M255.1 295.4h0" stroke="#e3140c"/><path d="M254.7 298.1h0M255.5 299.7h0M255.0 301.4h0" stroke="#93400e"/><path d="M258.0 288.0h0" stroke="#e3140c"/><path d="M257.7 291.0h0M258.6 293.7h0" stroke="#c9621c"/><path d="M258.6 296.8h0M258.8 299.5h0M258.4 302.4h0" stroke="#93400e"/><path d="M258.1 305.1h0M259.4 307.0h0M258.3 309.3h0M258.2 311.5h0" stroke="#c9621c"/><path d="M263.8 285.1h0M262.3 287.1h0" stroke="#e3140c"/><path d="M262.2 289.8h0M263.0 291.9h0M262.0 295.4h0" stroke="#c9621c"/><path d="M262.1 297.5h0M262.3 299.1h0M262.4 302.6h0" stroke="#93400e"/><path d="M262.9 306.3h0M263.2 307.3h0M266.0 283.1h0M265.8 285.6h0" stroke="#8f8f1c"/><path d="M265.9 288.3h0M266.1 290.4h0M265.6 294.6h0M266.0 295.7h0" stroke="#93400e"/><path d="M266.3 297.7h0M266.0 300.2h0M265.6 303.1h0" stroke="#e3140c"/><path d="M265.9 305.2h0M265.8 308.4h0M266.0 310.4h0" stroke="#93400e"/><path d="M266.3 313.6h0" stroke="#8f8f1c"/><path d="M269.7 294.0h0M269.2 295.1h0" stroke="#93400e"/><path d="M268.5 298.1h0M269.5 299.4h0M269.2 301.7h0" stroke="#e3140c"/><path d="M269.6 305.2h0M269.7 307.1h0M269.1 309.9h0M270.0 311.9h0" stroke="#93400e"/><path d="M272.0 285.6h0M271.9 287.7h0" stroke="#8f8f1c"/><path d="M272.1 290.9h0M271.6 292.7h0M272.2 295.1h0" stroke="#93400e"/><path d="M271.6 296.7h0M271.9 299.3h0" stroke="#e3140c"/><path d="M272.4 300.5h0M272.0 304.0h0" stroke="#93400e"/><path d="M272.2 306.2h0" stroke="#e3140c"/><path d="M275.1 293.7h0M274.4 295.6h0" stroke="#93400e"/><path d="M274.9 298.1h0M274.0 300.4h0M274.1 302.7h0" stroke="#c9621c"/><path d="M274.2 305.7h0M274.1 307.3h0" stroke="#e3140c"/><path d="M277.6 289.6h0M278.1 292.8h0M277.8 295.6h0M278.3 299.2h0M277.5 300.7h0M277.8 303.9h0" stroke="#93400e"/><path d="M277.9 304.7h0" stroke="#e3140c"/><path d="M282.1 288.8h0" stroke="#93400e"/><path d="M282.5 291.8h0M281.5 294.3h0" stroke="#e3140c"/><path d="M281.1 296.8h0M281.8 299.3h0M281.2 302.0h0" stroke="#93400e"/><path d="M282.0 304.7h0M281.6 305.9h0" stroke="#e3140c"/><path d="M283.8 291.0h0M284.0 292.7h0M283.5 295.0h0M283.9 298.1h0M284.0 300.7h0" stroke="#93400e"/><path d="M283.5 304.2h0" stroke="#e3140c"/><path d="M287.3 289.9h0M287.0 292.2h0M287.6 295.7h0" stroke="#8f8f1c"/><path d="M286.6 298.6h0M287.3 301.1h0M287.2 301.9h0" stroke="#93400e"/><path d="M287.2 304.1h0M287.0 306.4h0M287.6 309.4h0" stroke="#e3140c"/><path d="M289.2 285.1h0M289.7 286.7h0" stroke="#93400e"/><path d="M289.8 290.3h0M289.8 292.0h0M289.5 295.4h0M290.4 298.4h0M290.0 299.5h0M292.3 289.2h0M291.6 290.4h0M292.3 293.2h0" stroke="#8f8f1c"/><path d="M292.4 295.9h0" stroke="#93400e"/><path d="M291.4 298.2h0" stroke="#8f8f1c"/><path d="M292.7 299.8h0M292.0 303.2h0M292.5 303.8h0M292.0 307.0h0M291.9 310.5h0M294.2 286.8h0" stroke="#93400e"/><path d="M294.1 289.2h0M293.8 291.4h0M294.0 292.4h0M294.0 296.3h0M293.1 298.2h0M293.3 301.6h0M293.9 303.8h0" stroke="#e3140c"/><path d="M294.4 306.7h0M296.5 282.5h0M296.4 284.0h0M296.4 287.1h0" stroke="#93400e"/><path d="M296.3 289.8h0M296.4 290.7h0M296.0 293.9h0" stroke="#e3140c"/><path d="M295.3 296.7h0M296.0 298.8h0M296.7 301.3h0M296.2 303.7h0M296.8 306.8h0M296.8 308.1h0M296.8 311.5h0M296.1 313.5h0" stroke="#8f8f1c"/><path d="M298.7 291.2h0M298.6 292.9h0M298.5 296.5h0M298.1 298.1h0M298.0 301.0h0" stroke="#e3140c"/><path d="M300.8 282.3h0M301.1 284.3h0M300.4 286.2h0" stroke="#93400e"/><path d="M300.1 288.5h0M301.3 290.8h0M300.2 293.6h0" stroke="#e3140c"/><path d="M301.0 296.7h0M300.8 299.9h0M300.9 302.8h0M300.6 304.6h0M301.0 307.0h0M299.4 309.6h0M299.9 312.6h0M303.9 285.7h0" stroke="#93400e"/><path d="M303.1 289.4h0M302.7 290.4h0M303.3 293.6h0" stroke="#e3140c"/><path d="M303.4 296.1h0M302.9 299.3h0M303.0 301.3h0M305.8 291.4h0M307.0 294.1h0" stroke="#8f8f1c"/><path d="M305.2 296.7h0M305.8 299.0h0M305.5 301.0h0M306.4 302.0h0" stroke="#e3140c"/><path d="M305.8 305.1h0M305.6 307.6h0M310.0 292.7h0M309.9 295.2h0" stroke="#93400e"/><path d="M309.1 298.9h0M309.6 301.5h0" stroke="#e3140c"/><path d="M309.5 304.1h0M309.5 306.9h0M309.3 308.5h0M309.3 311.2h0M312.2 288.6h0M312.1 291.3h0M312.0 295.4h0M312.5 298.7h0M312.1 300.1h0" stroke="#93400e"/><path d="M312.4 303.4h0M312.8 305.4h0M312.7 307.9h0" stroke="#c9621c"/><path d="M315.7 284.1h0M315.3 287.0h0M315.9 288.4h0M314.5 291.7h0M315.3 294.1h0M315.4 295.9h0M315.3 300.4h0M315.7 302.2h0M316.3 304.5h0M316.0 307.9h0M318.8 294.1h0" stroke="#93400e"/><path d="M318.6 296.6h0M318.5 299.8h0M318.8 301.9h0M319.2 304.3h0" stroke="#8f8f1c"/><path d="M321.4 289.0h0M321.9 291.3h0M321.0 294.7h0" stroke="#e3140c"/><path d="M321.8 299.0h0M321.2 301.2h0M320.6 303.1h0" stroke="#c9621c"/><path d="M321.4 305.4h0" stroke="#e3140c"/><path d="M325.5 283.2h0M325.7 285.4h0" stroke="#93400e"/><path d="M324.9 288.3h0M323.6 291.1h0M325.1 293.2h0M324.8 294.6h0" stroke="#e3140c"/><path d="M325.4 297.7h0M325.7 300.7h0M325.2 302.4h0" stroke="#c9621c"/><path d="M324.9 305.3h0M325.2 308.0h0" stroke="#e3140c"/><path d="M329.0 291.4h0M328.5 293.4h0M328.5 296.0h0" stroke="#c9621c"/><path d="M329.1 299.1h0M329.0 302.6h0" stroke="#e3140c"/><path d="M330.8 292.7h0" stroke="#c9621c"/><path d="M331.5 296.1h0M331.2 298.1h0M331.6 301.1h0M331.6 303.4h0" stroke="#e3140c"/><path d="M331.3 307.4h0" stroke="#8f8f1c"/><path d="M333.8 288.2h0M335.0 291.6h0M335.1 292.8h0" stroke="#c9621c"/><path d="M334.9 296.3h0M334.7 299.1h0M334.8 301.9h0" stroke="#e3140c"/><path d="M334.7 306.1h0M334.9 309.0h0M335.1 309.6h0" stroke="#93400e"/><path d="M338.6 289.6h0M338.0 291.4h0M338.5 294.6h0M338.3 295.7h0M337.7 300.2h0M338.5 302.9h0M338.1 304.1h0M338.7 307.1h0M243.2 307.6h0M245.0 308.4h0M246.1 307.5h0M246.7 306.0h0M245.1 305.7h0M242.5 309.0h0M334.2 298.3h0M329.8 302.6h0M330.8 304.5h0M328.7 297.3h0M330.8 300.2h0M328.7 302.2h0M328.4 309.4h0M332.6 303.1h0M340.0 265.9h0M340.2 269.3h0M340.3 268.5h0M340.4 269.7h0M340.6 267.8h0M340.6 273.8h0M340.6 262.0h0M340.6 270.7h0M340.8 285.1h0M340.8 290.8h0M340.9 262.5h0M341.2 268.1h0M341.6 273.9h0M341.6 268.4h0M341.7 262.0h0M341.7 267.5h0M341.7 278.0h0M341.9 280.9h0M342.0 273.1h0M342.4 271.1h0M342.6 287.3h0M342.7 287.7h0M343.0 279.4h0M343.0 281.2h0M343.1 282.6h0M343.2 282.4h0M343.2 278.0h0M343.6 277.4h0M343.6 286.2h0M343.8 286.6h0M344.0 292.0h0M344.1 288.8h0M344.2 290.5h0M344.4 296.0h0M344.9 300.0h0M345.0 293.8h0M345.1 295.0h0" stroke="#e3140c"/><path d="M345.2 310.5h0M345.2 304.9h0M345.2 307.8h0M345.4 309.4h0" stroke="#93400e"/><path d="M345.9 301.4h0M346.0 295.0h0" stroke="#e3140c"/><path d="M346.1 305.9h0M346.3 307.0h0" stroke="#93400e"/><path d="M346.4 300.5h0M346.6 302.9h0M346.6 297.5h0M347.0 299.6h0M347.0 301.8h0M347.0 298.3h0M347.0 298.6h0M347.5 302.5h0M347.7 298.6h0M347.9 300.6h0M348.3 299.5h0M348.4 298.9h0" stroke="#e3140c"/><path d="M348.4 280.2h0M349.2 283.1h0" stroke="#93400e"/><path d="M349.6 275.3h0" stroke="#e3140c"/><path d="M349.7 282.8h0" stroke="#93400e"/><path d="M349.7 290.9h0" stroke="#e3140c"/><path d="M349.8 282.5h0" stroke="#93400e"/><path d="M349.9 274.0h0M350.0 274.6h0" stroke="#e3140c"/><path d="M350.2 284.3h0" stroke="#93400e"/><path d="M350.3 288.2h0M350.3 288.8h0" stroke="#e3140c"/><path d="M350.5 284.3h0" stroke="#93400e"/><path d="M350.5 276.5h0M350.5 271.9h0M350.6 266.1h0M350.6 271.6h0M350.9 279.4h0" stroke="#e3140c"/><path d="M351.0 283.5h0" stroke="#93400e"/><path d="M351.0 279.9h0M351.0 273.8h0M351.1 267.8h0M351.2 271.3h0M352.0 278.2h0M352.1 272.9h0M352.2 275.1h0M352.2 284.8h0M352.3 281.0h0M352.3 279.1h0M352.4 273.0h0M352.5 268.2h0M352.9 277.0h0M352.9 280.7h0M352.9 285.9h0M352.9 281.3h0M353.2 275.3h0M353.4 270.6h0M353.5 270.3h0M353.7 273.2h0M353.8 278.0h0M353.8 284.2h0M353.8 289.7h0M354.3 293.1h0M354.4 285.8h0M354.5 279.9h0M354.7 265.5h0M354.7 276.5h0M354.8 274.7h0M354.9 278.6h0M355.2 285.0h0M355.4 284.3h0M355.5 275.8h0M355.5 269.3h0M355.8 271.5h0M355.9 278.4h0M355.9 284.3h0M356.0 291.6h0M356.0 285.7h0M356.1 278.4h0M356.6 280.2h0M357.0 275.1h0M357.6 270.9h0M357.6 271.1h0M357.8 273.5h0M358.4 272.1h0M358.5 270.6h0M358.7 272.5h0M358.9 291.6h0M358.9 289.9h0M359.0 298.0h0M359.0 306.2h0M359.1 306.4h0M359.2 304.1h0M359.4 306.4h0M359.5 296.2h0M359.5 297.9h0M359.6 294.9h0M359.6 298.8h0M359.8 292.7h0M359.9 286.5h0M360.1 284.3h0M360.2 283.6h0" stroke="#e3140c"/><path d="M360.2 278.6h0" stroke="#93400e"/><path d="M360.3 270.2h0M360.3 267.0h0" stroke="#e3140c"/><path d="M360.5 274.5h0" stroke="#93400e"/><path d="M360.9 281.8h0" stroke="#e3140c"/><path d="M360.9 295.6h0" stroke="#93400e"/><path d="M361.4 298.9h0M361.5 308.1h0M361.5 305.8h0M361.6 307.0h0" stroke="#e3140c"/><path d="M361.9 298.3h0M361.9 293.4h0M361.9 288.5h0M362.2 291.9h0" stroke="#93400e"/><path d="M362.2 300.0h0M362.2 297.9h0" stroke="#e3140c"/><path d="M362.3 292.5h0M362.3 293.0h0M362.7 291.4h0" stroke="#93400e"/><path d="M362.9 284.8h0M362.9 270.4h0M363.0 281.8h0" stroke="#e3140c"/><path d="M363.2 278.0h0M363.6 279.6h0M363.7 288.2h0M363.8 291.1h0M364.0 289.1h0M364.0 293.4h0M364.2 291.3h0M364.2 292.2h0M364.3 288.9h0" stroke="#93400e"/><path d="M364.4 271.3h0" stroke="#e3140c"/><path d="M364.5 278.6h0M364.7 272.3h0M364.7 261.8h0M365.0 263.4h0" stroke="#93400e"/><path d="M365.1 265.3h0M365.1 266.3h0M365.4 263.8h0M365.4 266.4h0" stroke="#e3140c"/><path d="M365.6 276.2h0M365.6 275.8h0M366.0 274.4h0M366.0 275.7h0" stroke="#93400e"/><path d="M366.2 283.5h0M366.4 285.6h0M366.6 269.6h0" stroke="#e3140c"/><path d="M366.9 278.1h0M366.9 279.9h0" stroke="#93400e"/><path d="M367.0 284.5h0" stroke="#e3140c"/><path d="M367.3 277.5h0" stroke="#93400e"/><path d="M367.3 286.8h0" stroke="#e3140c"/><path d="M367.4 290.1h0M367.4 290.1h0M367.5 278.6h0M367.5 276.8h0" stroke="#93400e"/><path d="M367.6 283.4h0M367.6 281.6h0M368.0 280.9h0M368.0 281.3h0M368.0 281.3h0M368.1 284.1h0M368.3 281.7h0M368.4 281.6h0" stroke="#e3140c"/><path d="M368.5 289.1h0M368.5 288.2h0" stroke="#c9621c"/><path d="M368.9 278.6h0M368.9 282.7h0" stroke="#e3140c"/><path d="M368.9 270.9h0" stroke="#93400e"/><path d="M369.2 275.6h0M369.2 274.6h0" stroke="#e3140c"/><path d="M369.4 270.6h0" stroke="#93400e"/><path d="M369.4 277.9h0M369.5 277.9h0M369.5 275.3h0M369.9 275.8h0M370.1 277.9h0M370.1 275.0h0" stroke="#e3140c"/><path d="M370.2 268.5h0M370.4 269.3h0" stroke="#93400e"/><path d="M370.5 272.1h0M370.6 276.3h0M370.6 283.2h0M370.7 291.7h0M371.0 284.8h0M371.4 279.8h0M371.5 273.5h0M371.6 280.7h0M371.7 277.4h0M371.8 272.3h0" stroke="#e3140c"/><path d="M372.1 264.4h0" stroke="#93400e"/><path d="M372.2 250.8h0M372.5 251.6h0M372.6 256.9h0" stroke="#e3140c"/><path d="M372.9 265.9h0M373.1 265.5h0M373.3 271.9h0" stroke="#93400e"/><path d="M373.4 274.5h0" stroke="#e3140c"/><path d="M373.6 269.1h0M373.7 267.1h0" stroke="#93400e"/><path d="M373.7 277.9h0M373.8 278.0h0M373.8 273.6h0M373.9 277.8h0M374.0 278.2h0" stroke="#e3140c"/><path d="M374.1 269.5h0" stroke="#93400e"/><path d="M374.1 262.1h0M374.3 261.6h0M374.3 272.2h0M375.1 273.5h0M375.4 280.4h0" stroke="#e3140c"/><path d="M375.5 270.8h0" stroke="#93400e"/><path d="M375.7 278.0h0M375.8 281.4h0M375.9 280.2h0M376.1 276.1h0M376.1 270.2h0M376.3 266.6h0M376.3 263.7h0" stroke="#e3140c"/><path d="M376.5 252.7h0" stroke="#c9621c"/><path d="M376.5 260.4h0M376.6 270.7h0M376.7 277.6h0M376.7 279.2h0M376.8 278.9h0M376.9 285.9h0M377.0 283.8h0M377.1 273.4h0M377.2 280.8h0M377.4 273.6h0M377.4 277.0h0M377.5 272.2h0M377.6 280.1h0M377.8 280.0h0M378.3 284.3h0M378.6 284.5h0M378.6 282.5h0" stroke="#e3140c"/><path d="M378.7 281.9h0" stroke="#c9621c"/><path d="M378.8 276.4h0M378.9 279.6h0" stroke="#e3140c"/><path d="M378.9 288.6h0M379.0 295.2h0" stroke="#c9621c"/><path d="M379.0 300.9h0M379.2 300.7h0" stroke="#93400e"/><path d="M379.4 290.9h0M379.5 284.1h0M379.5 295.9h0M379.5 286.0h0M379.8 292.5h0M379.9 285.8h0M380.0 289.0h0M380.1 291.7h0M380.2 289.2h0M380.2 294.0h0M380.3 293.0h0M380.8 293.7h0M380.9 286.1h0M381.2 292.0h0M381.3 282.5h0M381.5 293.9h0M381.5 293.2h0M381.8 283.3h0M381.9 293.0h0M381.9 286.4h0" stroke="#c9621c"/><path d="M382.0 278.8h0M382.0 273.0h0" stroke="#e3140c"/><path d="M382.2 286.1h0M382.2 292.2h0" stroke="#c9621c"/><path d="M382.2 279.7h0" stroke="#e3140c"/><path d="M382.4 281.8h0M382.6 291.5h0M382.7 289.0h0M382.8 285.2h0M383.0 283.8h0" stroke="#c9621c"/><path d="M383.0 278.7h0M383.1 274.7h0" stroke="#e3140c"/><path d="M383.3 281.4h0M383.5 289.7h0M383.5 287.8h0" stroke="#c9621c"/><path d="M383.7 279.0h0" stroke="#e3140c"/><path d="M383.8 281.1h0" stroke="#c9621c"/><path d="M384.5 289.7h0M384.6 294.4h0" stroke="#93400e"/><path d="M384.7 296.8h0" stroke="#c9621c"/><path d="M384.8 295.8h0M385.0 289.9h0" stroke="#93400e"/><path d="M385.1 287.1h0" stroke="#c9621c"/><path d="M385.1 288.6h0" stroke="#93400e"/><path d="M385.2 287.5h0M385.2 280.3h0" stroke="#c9621c"/><path d="M385.4 273.6h0M385.4 274.2h0M385.7 272.1h0" stroke="#e3140c"/><path d="M385.7 263.8h0M386.1 260.9h0" stroke="#c9621c"/><path d="M386.3 265.1h0M386.4 264.4h0" stroke="#e3140c"/><path d="M387.0 260.1h0" stroke="#c9621c"/><path d="M387.4 259.5h0M387.6 254.5h0M387.6 258.6h0M387.7 254.2h0M387.7 258.9h0M387.8 266.6h0M387.9 261.1h0M387.9 259.9h0M388.3 267.3h0M388.3 269.1h0M388.6 270.1h0M389.0 274.6h0M389.0 271.0h0M389.1 270.0h0M389.2 257.3h0M389.3 267.8h0M389.3 274.8h0M389.3 277.2h0M389.5 270.5h0" stroke="#e3140c"/><path d="M389.8 283.4h0" stroke="#c9621c"/><path d="M389.8 291.4h0" stroke="#93400e"/><path d="M389.9 281.8h0M389.9 283.5h0M390.0 284.1h0" stroke="#c9621c"/><path d="M390.3 279.0h0" stroke="#e3140c"/><path d="M390.6 280.4h0M390.7 283.8h0" stroke="#c9621c"/><path d="M390.8 290.1h0M391.1 292.2h0M391.4 294.5h0M391.5 292.3h0" stroke="#93400e"/><path d="M391.6 281.7h0" stroke="#c9621c"/><path d="M391.7 267.1h0" stroke="#e3140c"/><path d="M391.7 280.4h0" stroke="#c9621c"/><path d="M391.7 262.7h0M391.8 267.1h0M391.9 266.6h0M391.9 269.0h0M392.2 272.8h0M392.4 270.6h0M392.5 270.6h0M392.6 276.3h0M392.7 276.3h0M392.8 272.5h0M392.9 280.7h0" stroke="#e3140c"/><path d="M393.2 292.7h0M393.2 291.1h0M393.3 293.1h0" stroke="#93400e"/><path d="M393.3 299.8h0" stroke="#e3140c"/><path d="M393.3 290.0h0" stroke="#93400e"/><path d="M393.4 285.4h0M393.4 297.4h0" stroke="#e3140c"/><path d="M393.6 294.5h0M393.7 292.7h0M394.0 294.4h0" stroke="#93400e"/><path d="M394.1 298.0h0M394.3 298.5h0M394.5 301.4h0M394.5 303.2h0" stroke="#e3140c"/><path d="M394.5 294.7h0" stroke="#93400e"/><path d="M394.5 297.3h0M394.6 301.1h0M394.7 310.8h0M394.8 300.7h0M395.3 308.8h0M395.4 308.4h0" stroke="#e3140c"/><path d="M395.4 293.2h0" stroke="#93400e"/><path d="M395.5 285.9h0M395.8 278.9h0M395.9 278.8h0M396.1 285.8h0M396.1 280.8h0M396.2 287.1h0" stroke="#e3140c"/><path d="M396.3 288.3h0" stroke="#93400e"/><path d="M396.4 287.7h0" stroke="#e3140c"/><path d="M396.7 294.8h0M396.9 293.3h0" stroke="#93400e"/><path d="M396.9 296.2h0M396.9 300.3h0M397.1 304.6h0" stroke="#e3140c"/><path d="M397.1 295.1h0M397.2 289.0h0" stroke="#93400e"/><path d="M397.2 283.9h0M397.4 278.8h0M397.6 274.7h0M397.7 272.6h0M398.0 279.5h0M398.5 287.9h0" stroke="#e3140c"/><path d="M399.0 295.9h0" stroke="#93400e"/><path d="M399.0 286.0h0" stroke="#e3140c"/><path d="M399.1 292.8h0" stroke="#93400e"/><path d="M399.1 287.7h0" stroke="#e3140c"/><path d="M399.4 289.3h0" stroke="#93400e"/><path d="M399.5 283.0h0M399.5 283.1h0M399.6 279.6h0M399.8 273.1h0" stroke="#e3140c"/><path d="M400.0 265.6h0M400.1 265.2h0" stroke="#93400e"/><path d="M400.2 274.6h0M400.2 282.9h0M400.3 274.9h0M400.3 277.8h0M400.6 280.2h0" stroke="#e3140c"/><path d="M400.6 270.7h0" stroke="#93400e"/><path d="M400.6 261.5h0M400.7 275.6h0" stroke="#e3140c"/><path d="M400.7 270.6h0" stroke="#93400e"/><path d="M400.8 280.1h0M400.9 276.6h0M401.0 275.6h0M401.2 282.7h0" stroke="#e3140c"/><path d="M401.8 269.0h0M401.9 269.3h0M401.9 271.3h0" stroke="#93400e"/><path d="M402.1 277.6h0M402.1 284.3h0M402.2 273.7h0M402.4 277.0h0" stroke="#e3140c"/><path d="M402.5 272.0h0" stroke="#93400e"/><path d="M402.6 273.8h0M402.7 276.9h0M402.8 272.3h0M402.9 275.3h0M402.9 274.7h0M403.0 261.9h0" stroke="#e3140c"/><path d="M403.3 250.4h0M403.5 249.2h0M403.5 253.6h0" stroke="#c9621c"/><path d="M403.6 262.1h0M403.6 263.3h0M403.7 262.9h0M403.8 256.6h0M403.8 257.9h0M404.2 258.9h0" stroke="#e3140c"/><path d="M404.5 269.9h0M404.5 265.3h0M404.6 265.6h0M404.6 267.3h0" stroke="#93400e"/><path d="M404.6 274.1h0M404.7 274.5h0" stroke="#e3140c"/><path d="M404.7 269.5h0M404.8 268.7h0M405.1 268.1h0" stroke="#93400e"/><path d="M405.1 263.4h0" stroke="#e3140c"/><path d="M405.2 251.8h0M405.3 248.2h0M405.5 255.4h0" stroke="#c9621c"/><path d="M405.8 256.4h0M405.9 260.3h0M406.0 259.5h0" stroke="#e3140c"/><path d="M406.1 268.5h0" stroke="#93400e"/><path d="M406.1 282.8h0M406.2 281.8h0M406.3 280.0h0M406.3 282.2h0M406.3 278.7h0M406.5 284.4h0M406.5 281.2h0M406.8 277.7h0" stroke="#e3140c"/><path d="M406.8 271.4h0" stroke="#93400e"/><path d="M406.9 275.5h0M406.9 279.1h0M406.9 276.8h0M407.0 279.1h0M407.0 275.3h0M407.3 278.4h0M407.4 278.3h0M407.5 284.1h0M407.6 276.3h0M407.6 281.8h0M407.7 279.0h0M407.7 274.7h0" stroke="#e3140c"/><path d="M407.7 267.8h0" stroke="#93400e"/><path d="M408.3 272.6h0" stroke="#e3140c"/><path d="M408.3 284.4h0M408.6 284.6h0M408.8 287.1h0" stroke="#93400e"/><path d="M408.8 293.7h0M408.9 304.5h0M409.0 308.3h0M409.0 308.1h0M409.0 292.2h0" stroke="#e3140c"/><path d="M409.4 281.9h0" stroke="#93400e"/><path d="M409.6 292.0h0M409.6 293.2h0" stroke="#e3140c"/><path d="M409.8 285.8h0M410.0 280.2h0M410.0 283.7h0" stroke="#93400e"/><path d="M410.0 288.7h0M410.0 288.6h0M410.1 297.9h0M410.2 300.1h0M410.2 297.6h0M410.2 293.4h0M410.3 288.9h0" stroke="#e3140c"/><path d="M410.4 287.8h0" stroke="#93400e"/><path d="M410.6 289.5h0M410.8 294.4h0M410.8 297.1h0M410.9 291.5h0M411.0 290.7h0M411.1 288.2h0" stroke="#e3140c"/><path d="M411.1 281.2h0" stroke="#93400e"/><path d="M411.2 272.7h0M411.3 275.4h0M411.4 272.9h0M411.4 275.4h0M411.5 275.1h0M411.6 268.0h0M411.8 265.5h0M411.9 271.5h0M412.0 276.2h0M412.1 276.7h0M412.2 275.1h0M412.3 275.2h0M412.4 279.3h0" stroke="#e3140c"/><path d="M412.4 281.7h0" stroke="#93400e"/><path d="M412.4 266.2h0M412.6 268.7h0" stroke="#e3140c"/><path d="M412.9 281.4h0M413.0 281.3h0" stroke="#93400e"/><path d="M413.0 277.0h0M413.1 278.8h0" stroke="#e3140c"/><path d="M413.2 285.4h0M413.3 286.0h0M413.5 286.9h0M413.5 286.9h0M413.8 280.0h0" stroke="#93400e"/><path d="M413.9 273.1h0M413.9 270.7h0" stroke="#e3140c"/><path d="M414.3 284.1h0M414.3 285.8h0M414.4 283.3h0" stroke="#93400e"/><path d="M414.4 279.1h0M414.7 278.5h0M414.8 275.0h0M415.0 268.1h0M415.0 266.1h0M415.1 272.9h0M415.4 270.9h0M415.4 271.4h0" stroke="#e3140c"/><path d="M415.6 282.3h0" stroke="#93400e"/><path d="M415.6 288.6h0M415.7 276.4h0M415.8 269.1h0" stroke="#e3140c"/><path d="M416.0 280.0h0M416.1 280.2h0M416.1 283.2h0M416.5 286.2h0M416.7 277.8h0M416.7 265.0h0M416.9 264.5h0M417.2 272.9h0M417.2 274.2h0M417.3 283.6h0" stroke="#93400e"/><path d="M417.3 289.9h0M417.5 290.5h0M417.5 283.8h0" stroke="#e3140c"/><path d="M418.0 297.8h0M418.0 298.1h0" stroke="#93400e"/><path d="M418.2 306.1h0M418.3 307.2h0" stroke="#e3140c"/><path d="M418.3 299.6h0M418.6 297.8h0" stroke="#93400e"/><path d="M418.6 283.7h0" stroke="#e3140c"/><path d="M418.6 278.0h0" stroke="#93400e"/><path d="M418.6 282.9h0M418.7 283.6h0M419.0 283.0h0M419.0 289.8h0" stroke="#e3140c"/><path d="M419.0 303.4h0" stroke="#93400e"/><path d="M419.1 293.6h0M419.2 291.5h0M419.3 290.9h0M419.5 283.0h0" stroke="#e3140c"/><path d="M419.6 278.4h0" stroke="#93400e"/><path d="M419.8 290.3h0M419.8 284.8h0" stroke="#e3140c"/><path d="M420.0 274.6h0" stroke="#93400e"/><path d="M420.2 280.6h0M420.3 291.0h0M420.6 290.4h0M420.7 283.5h0M420.9 281.2h0M421.0 281.5h0M421.3 294.1h0" stroke="#e3140c"/><path d="M421.8 302.2h0" stroke="#93400e"/><path d="M422.1 286.6h0M422.1 290.9h0M422.3 286.2h0M422.4 293.4h0M422.5 291.2h0M422.5 293.6h0M422.7 295.0h0" stroke="#e3140c"/><path d="M422.8 296.9h0" stroke="#93400e"/><path d="M423.2 292.7h0" stroke="#e3140c"/><path d="M423.3 299.1h0" stroke="#93400e"/><path d="M423.4 307.7h0" stroke="#e3140c"/><path d="M423.4 302.9h0" stroke="#93400e"/><path d="M423.5 288.8h0M423.6 286.5h0M423.6 280.7h0M424.0 290.0h0M424.0 292.2h0M424.0 292.6h0" stroke="#e3140c"/><path d="M424.0 290.6h0M424.3 286.1h0" stroke="#93400e"/><path d="M424.3 280.2h0M424.5 278.1h0M424.5 281.9h0M424.5 274.9h0M424.7 277.9h0M424.8 288.3h0M425.1 277.2h0M425.4 287.4h0" stroke="#e3140c"/><path d="M425.5 272.0h0" stroke="#93400e"/><path d="M425.8 274.4h0M425.8 275.7h0M426.0 283.7h0M426.1 286.3h0M426.2 295.8h0M426.5 304.1h0M426.7 301.0h0M426.9 290.9h0M427.0 278.0h0M427.2 273.7h0" stroke="#e3140c"/><path d="M427.2 267.4h0M427.5 274.5h0M427.6 267.3h0M427.6 275.6h0M427.7 269.7h0" stroke="#93400e"/><path d="M428.2 262.7h0M428.5 263.9h0" stroke="#e3140c"/><path d="M428.6 271.8h0" stroke="#93400e"/><path d="M428.7 282.6h0" stroke="#e3140c"/><path d="M429.0 274.0h0" stroke="#c9621c"/><path d="M429.0 282.4h0M429.0 281.1h0M429.1 281.2h0M429.1 285.3h0M429.2 293.1h0M429.3 298.0h0M429.3 284.1h0M429.4 279.8h0M429.6 271.3h0M429.8 272.3h0M429.8 268.8h0M429.8 277.7h0M430.1 268.8h0" stroke="#93400e"/><path d="M430.3 255.6h0M430.4 255.5h0M430.5 252.4h0M430.7 252.7h0M430.8 254.9h0" stroke="#e3140c"/><path d="M431.1 269.1h0M431.1 272.3h0" stroke="#93400e"/><path d="M431.2 273.7h0M431.4 274.0h0M431.4 278.4h0M431.6 278.5h0" stroke="#e3140c"/><path d="M431.6 271.8h0" stroke="#93400e"/><path d="M431.7 275.1h0M431.8 274.3h0M431.9 274.2h0M431.9 281.2h0M431.9 282.1h0M432.1 281.0h0M432.2 276.8h0" stroke="#e3140c"/><path d="M432.3 286.9h0M432.3 294.4h0M432.4 294.6h0M432.7 291.4h0M432.7 294.2h0" stroke="#93400e"/><path d="M432.8 298.2h0M432.8 296.8h0" stroke="#e3140c"/><path d="M432.9 293.4h0M433.0 284.3h0M433.2 284.1h0M433.2 284.8h0M433.2 289.6h0M433.3 280.7h0" stroke="#93400e"/><path d="M433.5 270.8h0M433.8 268.8h0M433.9 261.7h0M434.1 270.3h0M434.2 265.1h0M434.2 257.1h0" stroke="#e3140c"/><path d="M434.3 254.8h0M434.3 250.5h0M434.3 249.8h0M434.5 248.2h0M434.5 248.2h0M434.9 248.2h0" stroke="#93400e"/><path d="M434.9 258.4h0M435.2 265.2h0M435.6 277.6h0M435.6 285.9h0" stroke="#e3140c"/><path d="M435.7 288.7h0" stroke="#93400e"/><path d="M436.1 284.6h0" stroke="#e3140c"/><path d="M436.3 294.4h0M436.3 293.0h0" stroke="#93400e"/><path d="M436.9 300.1h0M437.2 296.3h0" stroke="#e3140c"/><path d="M437.2 294.9h0M437.5 290.1h0" stroke="#93400e"/><path d="M437.7 288.0h0" stroke="#e3140c"/><path d="M437.7 294.3h0M437.8 289.9h0" stroke="#93400e"/><path d="M437.8 285.1h0M437.8 286.9h0M438.2 287.3h0M438.7 275.9h0M439.0 269.3h0M439.0 266.3h0M439.1 265.8h0M439.1 272.6h0M439.2 284.2h0M439.3 275.3h0M439.3 269.4h0M439.8 264.8h0M439.8 271.5h0M439.9 276.2h0" stroke="#e3140c"/><path d="M440.2 282.3h0M440.4 283.3h0" stroke="#93400e"/><path d="M440.8 279.7h0" stroke="#e3140c"/><path d="M440.8 281.0h0" stroke="#93400e"/><path d="M441.0 278.5h0" stroke="#e3140c"/><path d="M441.3 274.4h0M441.4 274.4h0M441.7 272.9h0" stroke="#c9621c"/><path d="M441.8 268.6h0" stroke="#e3140c"/><path d="M441.9 281.8h0" stroke="#93400e"/><path d="M442.1 292.3h0M442.2 291.9h0" stroke="#e3140c"/><path d="M442.5 284.7h0" stroke="#93400e"/><path d="M442.5 274.8h0M442.6 275.7h0M442.6 278.9h0M442.9 272.0h0M442.9 267.9h0M443.0 269.9h0" stroke="#e3140c"/><path d="M443.1 280.3h0M443.1 287.8h0M443.4 296.5h0" stroke="#93400e"/><path d="M443.5 295.5h0M443.8 306.8h0M443.9 306.6h0M444.4 298.5h0M444.6 306.1h0M444.9 299.9h0M444.9 295.7h0" stroke="#e3140c"/><path d="M445.0 286.8h0M445.1 280.4h0" stroke="#93400e"/><path d="M445.4 272.7h0M445.8 265.8h0M445.8 267.1h0M446.0 251.6h0M446.1 257.4h0M446.1 264.5h0M446.1 271.4h0M446.3 278.6h0M446.3 280.0h0M446.4 293.1h0" stroke="#e3140c"/><path d="M446.6 282.8h0" stroke="#93400e"/><path d="M446.8 271.7h0M446.8 268.3h0" stroke="#e3140c"/><path d="M446.9 283.8h0" stroke="#93400e"/><path d="M447.0 292.8h0M447.1 295.4h0" stroke="#e3140c"/><path d="M447.6 285.1h0" stroke="#93400e"/><path d="M447.8 291.6h0M448.2 286.9h0M448.3 285.4h0" stroke="#e3140c"/><path d="M448.4 296.2h0" stroke="#93400e"/><path d="M449.5 290.1h0M449.5 291.5h0M449.7 288.5h0M449.8 288.1h0M449.9 293.0h0M450.2 291.4h0M450.3 290.9h0M450.3 295.1h0M450.4 306.8h0M450.6 308.0h0M450.8 304.1h0M450.8 295.0h0M451.5 292.8h0M451.7 287.7h0M451.8 292.6h0M451.9 287.1h0" stroke="#e3140c"/><path d="M452.0 279.2h0M452.0 273.6h0M452.1 279.8h0" stroke="#c9621c"/><path d="M452.4 280.4h0M452.4 271.4h0" stroke="#e3140c"/><path d="M452.6 275.4h0M452.8 276.4h0" stroke="#c9621c"/><path d="M452.9 287.5h0M453.0 288.4h0M453.1 291.1h0M453.1 292.0h0M453.2 283.2h0" stroke="#e3140c"/><path d="M453.4 279.9h0" stroke="#c9621c"/><path d="M453.5 284.9h0" stroke="#e3140c"/><path d="M453.5 276.8h0" stroke="#c9621c"/><path d="M453.6 271.7h0M453.7 265.8h0M453.8 267.8h0M453.8 271.4h0M454.0 266.2h0M454.3 266.9h0M454.5 280.7h0M454.5 285.9h0M454.5 291.3h0M454.8 289.4h0" stroke="#e3140c"/><path d="M454.8 297.9h0" stroke="#93400e"/><path d="M454.9 291.3h0M455.0 284.5h0" stroke="#e3140c"/><path d="M455.2 275.7h0" stroke="#c9621c"/><path d="M455.2 280.9h0" stroke="#e3140c"/><path d="M455.3 272.2h0M455.5 277.8h0" stroke="#c9621c"/><path d="M455.8 286.1h0" stroke="#e3140c"/><path d="M455.8 279.6h0" stroke="#c9621c"/><path d="M456.4 285.3h0M456.4 277.5h0M456.5 260.5h0M457.0 272.3h0M457.2 270.0h0M457.3 269.3h0M457.4 265.3h0M457.5 267.5h0M457.7 270.9h0M457.8 267.5h0M457.9 274.5h0M458.0 280.9h0M458.1 277.7h0M458.3 274.2h0M458.3 281.8h0M458.5 288.1h0M458.5 283.1h0M458.7 279.5h0M458.7 277.5h0M458.8 270.0h0M459.1 261.3h0M459.1 259.9h0M459.5 268.1h0M459.6 268.0h0M459.6 280.3h0M460.2 285.6h0M460.2 292.4h0M460.4 285.0h0M460.4 277.0h0M460.4 268.6h0M460.8 264.4h0M461.0 260.9h0M461.2 264.6h0M461.3 276.8h0M461.4 277.2h0M461.4 272.9h0M461.9 277.4h0M462.0 271.3h0M462.2 262.5h0M462.4 250.8h0M462.6 263.0h0M462.9 267.5h0M463.2 266.7h0M463.3 265.3h0M463.3 259.3h0M464.1 265.6h0M464.3 277.4h0M464.3 284.7h0M464.4 289.6h0M464.7 280.2h0M464.7 280.8h0M464.7 284.2h0M464.8 284.8h0M464.8 278.1h0M465.0 286.8h0M465.0 292.1h0M465.0 291.2h0M465.2 286.7h0M465.3 293.8h0" stroke="#e3140c"/><path d="M465.3 301.7h0M465.4 299.9h0" stroke="#93400e"/><path d="M465.5 293.0h0M465.5 293.7h0M465.5 287.4h0M465.6 295.5h0M465.7 291.5h0M465.9 295.0h0M465.9 287.6h0M466.0 293.0h0M466.0 291.4h0M466.0 282.6h0M466.1 283.3h0M466.1 271.5h0M466.2 278.2h0M466.2 278.3h0M466.3 271.6h0M466.4 266.0h0M466.7 269.7h0M466.7 265.1h0M466.8 278.8h0M467.1 293.2h0M467.1 286.5h0M467.1 287.8h0M467.5 280.4h0M467.7 283.3h0M467.8 287.0h0M467.9 278.1h0" stroke="#e3140c"/><path d="M467.9 297.9h0" stroke="#93400e"/><path d="M468.0 304.2h0" stroke="#e3140c"/><path d="M468.1 298.8h0" stroke="#93400e"/><path d="M468.2 289.9h0M468.3 282.0h0M468.3 274.3h0M468.5 272.6h0M468.7 272.5h0M468.8 271.6h0M468.9 270.1h0M469.0 273.8h0M469.1 266.4h0M469.1 273.3h0M469.1 291.7h0M469.2 280.5h0M469.3 276.0h0M469.3 271.3h0" stroke="#e3140c"/><path d="M469.3 263.7h0M469.5 262.6h0M469.5 262.4h0M469.8 262.5h0" stroke="#93400e"/><path d="M469.9 266.7h0" stroke="#e3140c"/><path d="M471.0 272.1h0" stroke="#c9621c"/><path d="M471.2 269.3h0" stroke="#e3140c"/><path d="M471.2 274.8h0M472.0 274.0h0M472.2 287.5h0M472.2 280.3h0M472.3 276.5h0" stroke="#c9621c"/><path d="M472.5 266.5h0" stroke="#e3140c"/><path d="M472.6 272.9h0" stroke="#c9621c"/><path d="M472.8 275.5h0" stroke="#93400e"/><path d="M472.9 284.5h0" stroke="#c9621c"/><path d="M473.0 279.1h0" stroke="#93400e"/><path d="M473.2 281.4h0" stroke="#c9621c"/><path d="M473.2 279.6h0M473.2 280.0h0" stroke="#93400e"/><path d="M473.4 282.1h0M473.8 283.5h0" stroke="#c9621c"/><path d="M473.8 296.4h0" stroke="#93400e"/><path d="M473.9 295.3h0M474.0 288.4h0" stroke="#e3140c"/><path d="M474.1 297.7h0M474.2 304.5h0" stroke="#93400e"/><path d="M474.3 293.2h0M474.5 290.9h0M474.8 274.1h0M475.1 267.2h0M475.3 266.5h0M475.5 268.8h0M475.6 269.9h0M475.7 271.4h0M475.7 269.7h0M475.7 261.4h0M475.8 260.5h0M476.1 277.6h0M476.2 271.2h0M476.3 273.5h0M476.6 275.3h0M476.6 267.4h0M476.7 267.2h0M476.8 260.0h0M476.8 260.6h0M477.1 268.7h0" stroke="#e3140c"/><path d="M477.1 285.3h0" stroke="#c9621c"/><path d="M477.2 278.2h0M477.3 277.7h0" stroke="#e3140c"/><path d="M477.4 287.0h0" stroke="#c9621c"/><path d="M477.5 267.7h0M477.6 257.6h0M478.1 262.3h0M478.1 263.4h0M478.2 265.9h0M478.3 260.5h0M478.5 269.1h0M478.5 272.4h0M478.5 260.0h0M478.6 257.5h0M478.8 258.5h0M478.9 264.9h0M479.0 266.9h0M479.0 263.9h0M479.3 269.3h0M479.3 271.7h0M479.4 272.6h0M479.6 269.2h0M479.6 276.9h0" stroke="#e3140c"/><path d="M479.7 282.1h0" stroke="#c9621c"/><path d="M479.7 273.9h0" stroke="#e3140c"/><path d="M480.0 262.3h0" stroke="#93400e"/><path d="M480.4 251.6h0M480.5 253.6h0" stroke="#c9621c"/><path d="M480.5 257.2h0" stroke="#93400e"/><path d="M480.7 283.0h0" stroke="#e3140c"/><path d="M480.8 277.2h0" stroke="#93400e"/><path d="M481.0 271.4h0M481.3 267.6h0" stroke="#e3140c"/><path d="M481.3 277.8h0M481.5 277.7h0" stroke="#93400e"/><path d="M481.6 281.7h0M481.6 265.3h0M481.6 270.5h0M481.7 265.4h0M481.8 266.5h0M481.8 268.6h0M482.3 266.0h0" stroke="#e3140c"/><path d="M482.3 258.5h0" stroke="#93400e"/><path d="M482.4 270.6h0" stroke="#e3140c"/><path d="M482.8 276.3h0M483.0 275.9h0" stroke="#93400e"/><path d="M483.1 265.4h0M483.2 269.5h0M483.4 269.3h0" stroke="#e3140c"/><path d="M483.6 276.5h0M483.8 277.0h0M483.8 279.2h0M483.9 275.2h0" stroke="#93400e"/><path d="M484.0 288.2h0M484.2 286.6h0M484.3 286.2h0M484.7 288.7h0M485.1 285.0h0M485.6 285.4h0M485.7 280.7h0" stroke="#e3140c"/><path d="M485.8 278.6h0" stroke="#93400e"/><path d="M485.9 283.5h0M486.0 283.3h0M486.1 281.8h0" stroke="#e3140c"/><path d="M486.2 289.0h0" stroke="#93400e"/><path d="M486.4 281.5h0" stroke="#e3140c"/><path d="M486.4 278.6h0M486.4 274.4h0M486.5 276.6h0" stroke="#93400e"/><path d="M486.6 281.2h0M486.6 280.9h0" stroke="#e3140c"/><path d="M486.8 274.7h0M486.9 266.9h0" stroke="#93400e"/><path d="M486.9 281.5h0" stroke="#e3140c"/><path d="M487.1 278.4h0M487.7 292.9h0M487.7 293.5h0" stroke="#93400e"/><path d="M487.9 298.1h0" stroke="#e3140c"/><path d="M487.9 293.1h0M488.2 284.2h0" stroke="#93400e"/><path d="M488.2 294.8h0" stroke="#e3140c"/><path d="M488.3 299.1h0M488.3 297.6h0" stroke="#c9621c"/><path d="M488.5 286.6h0" stroke="#93400e"/><path d="M488.6 296.0h0" stroke="#c9621c"/><path d="M488.7 291.0h0M488.8 288.1h0" stroke="#e3140c"/><path d="M489.1 284.8h0" stroke="#93400e"/><path d="M489.3 276.6h0" stroke="#e3140c"/><path d="M489.5 280.1h0" stroke="#93400e"/><path d="M489.9 276.6h0M490.0 269.7h0M490.1 275.3h0" stroke="#e3140c"/><path d="M490.2 280.7h0M490.3 282.5h0" stroke="#93400e"/><path d="M490.5 289.7h0M490.5 279.7h0M490.6 270.5h0M490.8 277.1h0M490.9 262.0h0M491.0 262.9h0M491.0 266.4h0M491.0 273.5h0M491.1 276.5h0M491.3 270.3h0M491.5 272.3h0M491.8 272.9h0M491.9 279.3h0M492.1 274.8h0M492.1 277.5h0M492.2 277.0h0" stroke="#e3140c"/><path d="M492.2 281.5h0M492.7 282.0h0" stroke="#93400e"/><path d="M492.7 277.2h0" stroke="#e3140c"/><path d="M492.8 281.4h0M492.9 287.9h0" stroke="#93400e"/><path d="M493.2 292.7h0" stroke="#e3140c"/><path d="M493.5 296.3h0" stroke="#c9621c"/><path d="M493.7 281.8h0" stroke="#93400e"/><path d="M493.7 271.5h0M494.0 267.8h0M494.0 278.4h0M494.2 269.1h0M494.3 271.0h0" stroke="#e3140c"/><path d="M494.8 286.5h0M494.9 281.2h0" stroke="#93400e"/><path d="M494.9 278.3h0" stroke="#e3140c"/><path d="M495.1 286.4h0" stroke="#93400e"/><path d="M495.5 290.3h0M495.8 288.4h0M495.9 274.2h0M496.4 279.0h0M496.4 285.8h0M496.6 285.8h0M496.7 286.6h0M496.7 287.5h0M497.0 283.2h0M497.2 291.9h0M497.7 289.9h0M498.3 298.1h0M498.5 296.7h0M498.6 290.1h0M498.9 282.3h0M499.2 284.4h0M499.3 289.2h0M499.5 292.5h0M499.6 300.2h0M499.6 294.8h0M499.6 294.1h0M499.7 294.2h0M500.0 290.1h0M500.1 287.3h0M500.3 284.0h0M500.3 279.2h0M500.5 276.7h0M500.6 273.3h0M500.7 279.8h0M500.8 286.3h0" stroke="#e3140c"/><path d="M500.9 276.8h0" stroke="#93400e"/><path d="M501.1 282.0h0" stroke="#e3140c"/><path d="M501.4 275.6h0" stroke="#93400e"/><path d="M501.5 287.4h0M501.6 284.1h0M501.6 281.9h0" stroke="#e3140c"/><path d="M501.7 278.2h0M501.7 279.6h0" stroke="#93400e"/><path d="M502.2 286.2h0M502.3 290.8h0M502.3 291.9h0M502.4 286.9h0M502.4 281.4h0" stroke="#e3140c"/><path d="M502.6 277.9h0" stroke="#93400e"/><path d="M502.6 283.6h0" stroke="#e3140c"/><path d="M502.7 268.2h0M502.9 270.9h0M503.0 273.6h0M503.1 267.0h0M503.3 268.6h0M503.4 273.4h0" stroke="#93400e"/><path d="M504.3 274.8h0M504.4 273.2h0M504.5 278.8h0M504.5 276.7h0M504.5 273.0h0M504.6 278.4h0M504.8 272.9h0" stroke="#e3140c"/><path d="M504.8 280.3h0" stroke="#93400e"/><path d="M504.8 268.4h0M504.9 276.8h0M504.9 268.8h0M504.9 273.6h0M505.0 283.3h0M505.7 288.0h0M505.7 288.7h0M505.8 290.7h0" stroke="#e3140c"/><path d="M506.0 296.5h0" stroke="#c9621c"/><path d="M506.0 291.6h0M506.1 289.1h0M506.2 290.6h0M506.3 287.8h0M506.4 280.7h0M506.7 276.3h0M506.8 280.6h0M506.8 287.1h0M506.9 282.5h0M507.1 281.4h0M507.2 280.8h0M507.3 284.1h0M507.3 279.1h0M507.3 290.8h0M507.6 289.9h0M507.6 288.8h0M507.7 274.2h0M507.7 280.9h0M508.0 276.4h0M508.0 271.2h0M508.3 272.2h0" stroke="#e3140c"/><path d="M508.3 262.5h0M508.5 259.8h0" stroke="#93400e"/><path d="M508.6 269.5h0M508.6 269.0h0M508.8 280.4h0M508.8 291.2h0M509.0 286.9h0M509.3 280.4h0M509.3 282.1h0M509.6 287.0h0M509.6 278.4h0M510.0 283.9h0M510.1 286.2h0M510.3 290.8h0" stroke="#e3140c"/><path d="M510.3 300.2h0" stroke="#c9621c"/><path d="M510.4 291.2h0M510.6 290.9h0M510.7 288.2h0M510.8 289.2h0" stroke="#e3140c"/><path d="M510.8 299.9h0M511.0 299.3h0M511.2 298.4h0" stroke="#c9621c"/><path d="M511.5 285.8h0M512.0 284.3h0M512.1 287.1h0M512.2 288.5h0M512.3 294.2h0M512.5 293.8h0M512.5 300.3h0M512.5 295.6h0M512.9 282.7h0M513.1 283.6h0M513.2 284.3h0" stroke="#e3140c"/><path d="M513.3 275.5h0" stroke="#93400e"/><path d="M513.4 268.5h0" stroke="#e3140c"/><path d="M513.4 273.9h0M513.7 275.9h0" stroke="#93400e"/><path d="M514.1 271.0h0M514.4 262.8h0M514.5 265.3h0M514.7 264.4h0M514.8 268.4h0M514.9 259.5h0M514.9 255.9h0" stroke="#e3140c"/><path d="M515.0 274.6h0" stroke="#93400e"/><path d="M515.1 281.0h0M515.2 282.6h0M515.3 282.7h0" stroke="#e3140c"/><path d="M515.5 276.6h0" stroke="#93400e"/><path d="M515.9 265.6h0M516.2 263.2h0M516.2 262.1h0" stroke="#e3140c"/><path d="M516.3 274.9h0" stroke="#93400e"/><path d="M516.3 267.4h0M516.4 282.6h0M516.7 281.9h0M517.1 284.0h0M517.1 286.2h0M517.2 284.6h0" stroke="#e3140c"/><path d="M517.4 274.2h0M517.4 275.3h0" stroke="#93400e"/><path d="M517.7 281.9h0M517.8 285.7h0M518.0 290.4h0M518.0 288.8h0M518.0 290.0h0M518.1 286.9h0M518.2 291.8h0M518.2 291.9h0M518.3 292.8h0M518.4 287.3h0" stroke="#e3140c"/><path d="M518.5 299.8h0" stroke="#c9621c"/><path d="M518.5 304.5h0M519.1 306.1h0" stroke="#93400e"/><path d="M519.3 303.3h0M519.5 299.4h0" stroke="#c9621c"/><path d="M519.6 291.6h0" stroke="#e3140c"/><path d="M519.7 297.2h0M519.8 297.5h0M519.8 296.3h0M520.0 296.2h0" stroke="#c9621c"/><path d="M520.1 291.6h0M520.1 289.4h0M520.5 280.2h0M520.7 276.3h0M520.8 279.2h0M521.2 288.1h0M521.2 280.0h0M521.3 284.9h0M521.3 283.7h0M521.4 285.1h0M521.6 283.8h0M521.7 285.6h0M521.9 279.7h0M521.9 279.2h0M522.1 286.4h0M522.2 283.4h0M522.3 283.1h0M522.5 282.4h0M522.7 273.9h0M522.8 280.2h0M522.9 277.8h0M523.0 280.7h0M523.2 288.1h0M523.2 292.4h0M523.3 291.9h0" stroke="#e3140c"/><path d="M523.3 296.4h0" stroke="#c9621c"/><path d="M523.4 291.4h0" stroke="#e3140c"/><path d="M523.7 296.4h0" stroke="#c9621c"/><path d="M523.9 292.2h0M524.0 292.1h0M524.0 279.9h0M524.0 272.8h0M524.2 281.1h0M524.5 280.4h0M524.5 276.9h0M524.6 264.3h0M524.7 273.4h0M524.8 280.8h0M524.9 285.0h0M525.1 285.3h0M525.3 284.7h0M525.4 280.4h0M525.5 277.4h0" stroke="#e3140c"/><path d="M525.6 276.8h0M525.7 280.2h0M525.9 274.2h0M526.0 287.3h0M526.4 277.7h0M526.4 278.8h0" stroke="#93400e"/><path d="M526.5 268.0h0M526.7 265.1h0" stroke="#e3140c"/><path d="M526.7 276.9h0M526.8 281.6h0M526.9 282.5h0" stroke="#93400e"/><path d="M526.9 290.4h0" stroke="#e3140c"/><path d="M526.9 298.8h0" stroke="#c9621c"/><path d="M526.9 309.5h0M527.0 305.7h0" stroke="#93400e"/><path d="M527.2 309.1h0M527.3 305.2h0" stroke="#e3140c"/><path d="M527.4 297.4h0" stroke="#c9621c"/><path d="M527.5 288.1h0M527.5 290.3h0M527.6 292.3h0M527.7 290.6h0M528.0 289.3h0M528.2 299.4h0M528.3 293.6h0M528.3 285.9h0M528.5 286.9h0M528.6 287.6h0M528.7 288.9h0M528.7 288.8h0M528.8 297.8h0M528.9 281.5h0" stroke="#e3140c"/><path d="M529.0 275.1h0" stroke="#93400e"/><path d="M529.1 270.7h0M529.2 286.3h0" stroke="#e3140c"/><path d="M529.4 288.2h0M529.5 292.2h0M529.5 288.2h0M529.6 287.8h0M529.7 277.6h0M530.0 280.7h0M530.0 286.7h0M530.1 290.2h0M530.7 292.0h0" stroke="#93400e"/><path d="M530.8 297.6h0" stroke="#e3140c"/><path d="M530.9 292.1h0" stroke="#93400e"/><path d="M531.0 299.2h0" stroke="#e3140c"/><path d="M337.4 286.5h0M337.8 291.3h0M337.5 296.6h0M337.2 301.1h0M337.2 305.8h0" stroke="#93400e"/><path d="M53.0 209.0h0M55.0 214.0h0M55.0 220.0h0M54.6 239.4h0M54.6 247.8h0M52.7 257.0h0M50.7 304.5h0M61.5 314.0h0M61.5 317.0h0M65.5 322.0h0M62.5 329.0h0M63.5 340.0h0M66.5 343.8h0M64.5 342.0h0M93.0 320.0h0M108.7 319.0h0M114.6 312.0h0M114.2 328.0h0M114.6 337.9h0M106.6 221.7h0M152.7 318.6h0M152.7 324.0h0M175.3 346.7h0M177.0 243.0h0M239.7 254.0h0M239.7 258.0h0M239.7 262.6h0M259.6 312.3h0M259.6 326.0h0M269.4 337.5h0M269.4 342.8h0M281.6 313.3h0M293.4 348.7h0M321.5 258.0h0M368.5 248.7h0M357.4 254.8h0M367.6 259.0h0M367.6 262.6h0M371.4 314.3h0M422.4 313.0h0M422.4 317.0h0M426.5 296.6h0M426.5 301.0h0M426.5 306.4h0M476.3 315.3h0M524.4 311.3h0M530.8 225.4h0M530.8 229.0h0M530.8 233.0h0M512.0 263.5h0M53.8 266.6h0M51.6 266.2h0M50.9 267.0h0" stroke="#63b530"/><path d="M55.4 262.8h0" stroke="#8f8f1c"/><path d="M50.9 265.6h0" stroke="#63b530"/><path d="M50.0 263.2h0" stroke="#8f8f1c"/><path d="M53.7 265.3h0M51.3 265.3h0" stroke="#63b530"/><path d="M140.6 290.1h0M123.9 268.0h0M134.8 279.3h0M136.9 284.5h0" stroke="#1ee614"/><path d="M150.0 255.7h0" stroke="#63b530"/><path d="M150.0 286.7h0" stroke="#8f8f1c"/><path d="M133.9 266.4h0M147.8 250.8h0M146.9 266.8h0" stroke="#1ee614"/><path d="M134.6 249.2h0" stroke="#8f8f1c"/><path d="M120.8 272.3h0M132.4 264.0h0" stroke="#1ee614"/><path d="M146.8 252.3h0" stroke="#63b530"/><path d="M137.5 282.8h0" stroke="#1ee614"/><path d="M136.3 261.4h0" stroke="#63b530"/><path d="M130.7 277.2h0M136.7 273.5h0M137.7 279.3h0M145.4 256.6h0" stroke="#1ee614"/><path d="M139.6 263.3h0" stroke="#63b530"/><path d="M158.3 262.5h0M125.1 291.7h0" stroke="#1ee614"/><path d="M153.1 278.4h0" stroke="#8f8f1c"/><path d="M123.4 273.1h0M134.5 270.4h0M147.6 272.9h0M157.1 245.5h0M124.3 282.4h0M132.0 295.1h0M145.2 290.2h0" stroke="#1ee614"/><path d="M156.1 276.8h0" stroke="#8f8f1c"/><path d="M139.0 282.2h0M120.5 266.1h0M144.7 276.0h0M156.9 260.3h0M150.4 262.2h0M120.5 286.9h0M132.8 290.6h0M128.6 269.5h0M144.8 297.5h0" stroke="#1ee614"/><path d="M130.3 286.4h0" stroke="#8f8f1c"/><path d="M155.2 271.3h0" stroke="#1ee614"/><path d="M130.4 280.7h0" stroke="#8f8f1c"/><path d="M154.5 290.4h0M151.7 270.7h0M135.7 279.9h0M125.3 290.2h0M124.9 248.6h0M157.1 295.4h0M157.8 270.3h0M157.5 258.1h0M157.9 282.0h0M135.5 297.0h0M134.6 274.4h0M139.1 284.2h0M122.4 273.3h0" stroke="#1ee614"/><path d="M127.5 244.6h0" stroke="#63b530"/><path d="M133.3 285.6h0" stroke="#8f8f1c"/><path d="M121.3 252.3h0M140.1 268.7h0M158.2 264.8h0M126.1 281.5h0M130.2 256.3h0M125.0 262.9h0" stroke="#1ee614"/><path d="M148.0 249.5h0M130.2 285.6h0" stroke="#8f8f1c"/><path d="M141.9 261.4h0" stroke="#63b530"/><path d="M128.8 274.2h0M129.1 292.0h0" stroke="#1ee614"/><path d="M140.1 259.6h0" stroke="#63b530"/><path d="M151.0 274.4h0M128.2 292.5h0M129.8 298.0h0M151.8 260.7h0M145.2 265.2h0M121.0 298.1h0" stroke="#1ee614"/><path d="M136.3 261.0h0" stroke="#63b530"/><path d="M124.4 263.1h0" stroke="#8f8f1c"/><path d="M147.2 286.3h0M123.4 270.1h0M148.7 289.7h0M155.3 262.7h0M138.8 282.1h0M150.4 266.7h0" stroke="#1ee614"/><path d="M122.9 241.0h0M122.3 261.5h0" stroke="#63b530"/><path d="M129.8 276.3h0M154.4 250.6h0" stroke="#1ee614"/><path d="M142.2 257.9h0" stroke="#63b530"/><path d="M137.7 247.1h0" stroke="#1ee614"/><path d="M127.1 261.2h0" stroke="#63b530"/><path d="M130.8 271.9h0M129.7 263.8h0" stroke="#1ee614"/><path d="M143.3 256.1h0M148.8 286.1h0" stroke="#63b530"/><path d="M131.9 287.6h0" stroke="#8f8f1c"/><path d="M140.7 280.8h0M151.4 279.7h0M122.7 253.6h0M134.8 259.2h0M128.8 237.8h0" stroke="#1ee614"/><path d="M125.3 245.4h0M125.7 246.2h0" stroke="#63b530"/><path d="M126.9 251.9h0" stroke="#1ee614"/><path d="M127.7 244.2h0" stroke="#63b530"/><path d="M126.4 255.3h0M128.9 237.0h0" stroke="#1ee614"/><path d="M127.4 244.8h0M125.6 243.1h0" stroke="#63b530"/><path d="M126.2 255.8h0M174.4 278.9h0M207.8 276.4h0M174.7 271.1h0M208.5 277.9h0" stroke="#1ee614"/><path d="M167.1 272.7h0" stroke="#63b530"/><path d="M197.4 278.9h0" stroke="#8f8f1c"/><path d="M166.7 288.4h0M208.4 274.3h0M195.5 282.4h0M170.2 272.2h0M188.8 278.7h0" stroke="#1ee614"/><path d="M167.0 276.1h0" stroke="#63b530"/><path d="M207.1 285.6h0M173.0 276.9h0M197.7 283.8h0M201.8 285.5h0M212.7 268.9h0M208.5 287.9h0" stroke="#1ee614"/><path d="M196.2 282.1h0" stroke="#63b530"/><path d="M211.7 277.0h0M204.5 275.8h0M173.8 274.4h0M171.5 270.4h0M209.8 277.7h0M180.9 276.9h0M220.6 298.3h0M222.8 278.5h0M222.8 274.6h0" stroke="#1ee614"/><path d="M228.5 276.3h0M226.3 276.9h0" stroke="#63b530"/><path d="M225.9 285.2h0M233.6 291.0h0M218.6 277.3h0M226.3 269.0h0M230.7 295.4h0" stroke="#1ee614"/><path d="M229.6 301.6h0" stroke="#8f8f1c"/><path d="M236.1 287.4h0M221.6 281.1h0" stroke="#1ee614"/><path d="M235.4 283.2h0" stroke="#63b530"/><path d="M227.5 296.7h0" stroke="#8f8f1c"/><path d="M222.8 279.5h0M220.1 281.9h0M226.3 280.1h0" stroke="#1ee614"/><path d="M220.3 271.7h0" stroke="#63b530"/><path d="M234.6 291.9h0" stroke="#1ee614"/><path d="M226.6 296.6h0" stroke="#8f8f1c"/><path d="M227.2 290.2h0M219.1 274.2h0M216.7 285.2h0M218.2 289.4h0M227.2 293.8h0M236.5 296.3h0M226.4 288.9h0M237.1 277.4h0M228.4 270.4h0" stroke="#1ee614"/><path d="M230.4 274.3h0" stroke="#63b530"/><path d="M227.5 283.6h0" stroke="#1ee614"/><path d="M224.5 277.7h0" stroke="#63b530"/><path d="M224.5 302.0h0" stroke="#8f8f1c"/><path d="M218.0 285.5h0M227.1 295.0h0" stroke="#1ee614"/><path d="M218.3 269.9h0" stroke="#63b530"/><path d="M228.1 296.0h0M229.5 281.6h0M236.3 280.3h0" stroke="#1ee614"/><path d="M270.0 287.8h0" stroke="#8f8f1c"/><path d="M268.1 289.3h0M277.1 288.9h0M264.6 289.0h0M285.6 295.4h0M325.3 283.7h0" stroke="#1ee614"/><path d="M306.9 282.4h0" stroke="#63b530"/><path d="M326.8 297.3h0" stroke="#1ee614"/><path d="M337.7 295.4h0" stroke="#63b530"/><path d="M319.0 295.9h0M316.2 293.0h0" stroke="#1ee614"/><path d="M264.5 285.2h0" stroke="#8f8f1c"/><path d="M255.1 282.3h0" stroke="#1ee614"/><path d="M262.5 298.1h0" stroke="#8f8f1c"/><path d="M273.2 286.7h0M252.3 291.3h0M263.7 295.9h0M283.4 289.9h0M245.7 292.5h0M316.0 284.9h0M274.9 281.2h0M333.3 292.8h0M303.5 292.9h0M244.0 282.0h0M280.5 291.9h0M245.5 286.9h0M318.5 298.1h0M277.4 285.3h0M333.4 283.0h0" stroke="#1ee614"/><path d="M268.8 281.8h0M298.7 285.1h0" stroke="#8f8f1c"/><path d="M331.2 298.2h0" stroke="#1ee614"/><path d="M267.9 283.6h0" stroke="#8f8f1c"/><path d="M273.9 282.8h0M248.9 283.3h0M332.9 280.6h0M329.5 285.1h0M255.7 292.6h0M276.0 294.6h0" stroke="#1ee614"/><path d="M303.4 279.6h0" stroke="#8f8f1c"/><path d="M248.1 282.3h0" stroke="#1ee614"/><path d="M260.0 282.3h0" stroke="#8f8f1c"/><path d="M254.8 277.5h0M328.5 283.1h0" stroke="#1ee614"/><path d="M304.9 292.1h0" stroke="#8f8f1c"/><path d="M302.1 291.9h0M268.6 295.7h0M323.7 279.5h0M297.3 289.1h0M290.6 289.3h0M304.6 284.2h0" stroke="#1ee614"/><path d="M308.0 296.3h0" stroke="#63b530"/><path d="M253.7 285.1h0M322.4 291.4h0M303.0 295.1h0" stroke="#1ee614"/><path d="M280.3 277.9h0" stroke="#63b530"/><path d="M336.5 283.7h0M308.9 285.9h0M275.9 285.0h0M274.1 286.5h0M247.7 293.5h0M283.1 284.9h0M274.5 280.5h0M242.7 281.7h0M280.7 293.5h0M335.4 293.2h0M320.0 291.4h0M310.4 287.9h0M273.6 278.6h0M276.2 279.7h0M252.9 291.3h0" stroke="#1ee614"/><path d="M314.3 283.1h0" stroke="#8f8f1c"/><path d="M318.3 283.8h0M266.1 292.0h0M291.8 297.0h0M301.8 291.1h0" stroke="#1ee614"/><path d="M271.2 285.1h0" stroke="#8f8f1c"/><path d="M278.5 277.8h0M296.7 294.9h0M250.6 289.4h0M251.5 288.3h0M293.2 288.2h0M301.0 283.3h0M298.7 281.4h0M323.8 289.9h0M332.7 287.2h0M270.9 296.4h0M328.1 289.2h0M264.2 279.7h0M333.5 285.2h0M304.7 293.3h0M280.9 285.9h0M293.3 282.7h0M249.0 293.5h0M317.2 277.8h0M288.6 288.8h0M320.2 277.7h0M255.0 287.1h0M326.7 278.4h0M289.3 281.3h0M293.2 291.8h0M273.1 288.0h0M324.9 284.8h0M305.7 289.4h0M279.8 294.8h0M316.5 290.7h0M292.0 290.7h0M301.3 293.9h0M331.4 288.9h0M314.3 290.5h0M323.6 289.3h0M260.4 277.7h0M293.7 288.4h0M289.8 281.9h0" stroke="#1ee614"/><path d="M270.7 287.3h0" stroke="#8f8f1c"/><path d="M248.6 290.7h0M329.0 297.9h0" stroke="#1ee614"/><path d="M267.9 282.9h0" stroke="#8f8f1c"/><path d="M272.9 287.7h0M319.6 286.9h0M328.6 298.1h0" stroke="#1ee614"/><path d="M257.5 287.4h0" stroke="#8f8f1c"/><path d="M256.5 294.7h0M298.5 294.1h0M330.2 295.2h0M274.5 283.1h0M288.7 285.7h0M276.9 288.3h0M284.7 291.2h0M244.9 285.5h0M306.7 292.3h0M320.7 296.5h0M251.9 287.9h0" stroke="#1ee614"/><path d="M338.2 290.7h0" stroke="#63b530"/><path d="M247.0 278.8h0M280.9 280.0h0" stroke="#1ee614"/><path d="M307.3 290.6h0M277.5 287.1h0" stroke="#8f8f1c"/><path d="M325.0 285.8h0M253.4 288.3h0M248.2 287.4h0M276.8 288.3h0M310.9 281.8h0M293.9 294.9h0M286.0 290.5h0" stroke="#1ee614"/><path d="M305.7 282.0h0" stroke="#63b530"/><path d="M265.0 297.4h0" stroke="#1ee614"/><path d="M265.3 280.5h0" stroke="#8f8f1c"/><path d="M312.9 298.8h0M323.3 281.4h0M273.0 282.3h0" stroke="#1ee614"/><path d="M258.9 286.2h0" stroke="#8f8f1c"/><path d="M258.2 288.5h0M248.2 281.6h0M278.6 288.4h0M245.3 291.0h0M290.6 290.7h0M290.8 289.3h0M313.5 291.4h0M303.6 282.8h0M311.4 295.7h0M276.8 289.1h0" stroke="#1ee614"/><path d="M261.4 282.4h0" stroke="#8f8f1c"/><path d="M278.1 290.5h0" stroke="#63b530"/><path d="M304.0 279.8h0" stroke="#8f8f1c"/><path d="M312.1 290.3h0M272.4 291.8h0M320.6 288.7h0M298.9 285.5h0" stroke="#1ee614"/><path d="M308.7 296.5h0M301.3 286.3h0" stroke="#63b530"/><path d="M301.8 283.2h0M260.3 276.8h0M293.5 283.9h0M335.9 281.2h0M330.4 279.4h0M336.1 280.0h0M270.1 292.4h0" stroke="#1ee614"/><path d="M265.6 286.7h0" stroke="#8f8f1c"/><path d="M323.7 280.5h0M261.3 294.5h0M278.4 287.3h0M296.3 289.1h0M279.6 287.8h0M294.4 283.7h0M255.4 293.5h0M294.3 285.1h0M332.3 284.5h0" stroke="#1ee614"/><path d="M297.0 275.4h0M262.7 282.0h0" stroke="#8f8f1c"/><path d="M299.2 290.1h0" stroke="#1ee614"/><path d="M256.9 296.5h0" stroke="#8f8f1c"/><path d="M269.0 295.1h0" stroke="#1ee614"/><path d="M337.5 292.8h0" stroke="#63b530"/><path d="M306.6 283.5h0M243.7 277.6h0M281.5 289.2h0M315.2 295.6h0M245.5 292.7h0M274.0 288.3h0M335.7 297.8h0M321.9 271.7h0M294.0 294.2h0M261.5 289.7h0M306.7 278.6h0M332.8 293.0h0" stroke="#1ee614"/><path d="M309.8 287.4h0M283.6 279.3h0" stroke="#63b530"/><path d="M332.7 278.1h0M286.3 282.5h0M251.7 271.4h0M245.8 276.8h0M241.7 281.9h0M327.5 270.5h0M292.8 295.7h0M297.9 294.3h0M308.3 290.4h0" stroke="#1ee614"/><path d="M308.4 285.1h0" stroke="#8f8f1c"/><path d="M334.5 289.0h0" stroke="#1ee614"/><path d="M267.8 285.2h0" stroke="#8f8f1c"/><path d="M337.1 291.7h0" stroke="#63b530"/><path d="M287.0 286.3h0" stroke="#1ee614"/><path d="M278.8 291.4h0" stroke="#63b530"/><path d="M275.3 273.8h0M249.3 278.8h0M333.5 279.3h0" stroke="#1ee614"/><path d="M306.5 296.8h0" stroke="#63b530"/><path d="M321.3 280.2h0" stroke="#1ee614"/><path d="M310.7 283.3h0" stroke="#8f8f1c"/><path d="M329.2 281.9h0" stroke="#1ee614"/><path d="M316.6 303.4h0M315.7 303.7h0" stroke="#63b530"/><path d="M254.2 288.1h0M299.6 299.8h0M291.7 286.4h0" stroke="#1ee614"/><path d="M279.7 289.8h0" stroke="#8f8f1c"/><path d="M245.2 276.2h0M299.3 288.5h0M284.9 285.9h0M293.4 276.4h0" stroke="#1ee614"/><path d="M311.6 299.3h0" stroke="#63b530"/><path d="M321.3 287.7h0M264.1 279.6h0" stroke="#1ee614"/><path d="M337.4 295.8h0" stroke="#63b530"/><path d="M287.7 298.4h0M293.9 276.8h0M254.4 294.7h0" stroke="#1ee614"/><path d="M297.3 286.2h0" stroke="#63b530"/><path d="M244.7 295.3h0M323.5 283.6h0M321.9 292.5h0M329.1 292.3h0" stroke="#1ee614"/><path d="M305.6 295.7h0" stroke="#63b530"/><path d="M271.8 287.8h0" stroke="#8f8f1c"/><path d="M250.0 288.5h0M286.7 292.9h0M321.7 301.4h0M247.1 295.8h0" stroke="#1ee614"/><path d="M258.0 301.7h0" stroke="#8f8f1c"/><path d="M333.3 283.3h0" stroke="#1ee614"/><path d="M298.8 280.3h0" stroke="#8f8f1c"/><path d="M267.4 298.0h0M272.9 283.1h0M291.8 288.0h0M253.1 281.3h0M277.8 302.8h0M286.1 280.9h0M296.1 292.3h0" stroke="#1ee614"/><path d="M318.7 280.7h0" stroke="#63b530"/><path d="M280.5 293.2h0M364.8 266.8h0M359.0 291.1h0M364.1 274.9h0M359.4 267.8h0" stroke="#1ee614"/><path d="M350.6 293.4h0" stroke="#63b530"/><path d="M362.5 291.4h0M350.8 277.1h0M343.1 274.9h0M358.4 271.7h0M350.1 273.2h0M361.5 269.8h0M357.5 267.3h0M349.9 264.3h0M348.2 277.9h0M347.8 271.3h0M367.2 280.6h0M370.3 266.5h0M368.9 268.5h0M353.2 275.1h0M346.9 270.4h0M353.6 275.4h0M351.4 296.6h0M349.6 275.9h0M351.0 266.9h0M348.2 268.1h0M367.3 268.3h0M368.1 280.3h0M352.3 288.9h0M361.2 268.5h0" stroke="#1ee614"/><path d="M352.0 288.1h0" stroke="#63b530"/><path d="M363.5 289.4h0M358.6 279.9h0M360.9 289.3h0M354.8 278.4h0" stroke="#1ee614"/><path d="M354.4 287.3h0" stroke="#63b530"/><path d="M370.2 271.2h0M356.8 275.3h0M362.1 290.1h0M366.3 289.3h0" stroke="#1ee614"/><path d="M369.8 294.8h0" stroke="#8f8f1c"/><path d="M343.6 282.8h0" stroke="#1ee614"/><path d="M350.8 292.9h0" stroke="#63b530"/><path d="M368.3 279.8h0" stroke="#1ee614"/><path d="M347.3 289.4h0" stroke="#63b530"/><path d="M354.2 292.8h0" stroke="#1ee614"/><path d="M347.6 292.7h0" stroke="#63b530"/><path d="M352.8 290.5h0M349.6 281.7h0M346.4 284.2h0" stroke="#1ee614"/><path d="M348.4 281.9h0" stroke="#63b530"/><path d="M354.2 276.7h0" stroke="#1ee614"/><path d="M351.0 280.3h0" stroke="#63b530"/><path d="M369.4 282.6h0M364.7 294.0h0M361.2 285.8h0" stroke="#1ee614"/><path d="M351.7 291.7h0M350.5 291.4h0" stroke="#63b530"/><path d="M363.0 267.9h0M367.7 279.1h0M352.7 290.2h0M359.8 263.0h0M350.5 282.3h0M365.2 287.2h0M358.8 277.7h0M368.1 266.4h0" stroke="#1ee614"/><path d="M342.1 295.6h0" stroke="#63b530"/><path d="M344.3 276.4h0M365.5 280.5h0" stroke="#1ee614"/><path d="M359.5 282.9h0" stroke="#63b530"/><path d="M353.9 276.4h0M368.2 272.1h0M348.4 281.8h0M357.6 274.6h0M345.0 285.5h0M358.1 294.2h0M369.4 284.6h0M367.9 297.9h0M370.3 288.3h0" stroke="#1ee614"/><path d="M344.2 290.6h0M345.4 289.1h0" stroke="#63b530"/><path d="M364.0 277.9h0M361.4 289.5h0" stroke="#1ee614"/><path d="M369.4 288.5h0" stroke="#8f8f1c"/><path d="M359.2 292.7h0M365.9 283.8h0" stroke="#1ee614"/><path d="M395.5 286.4h0" stroke="#63b530"/><path d="M379.6 267.0h0M396.3 294.1h0M396.9 279.8h0M378.1 275.2h0M380.0 281.2h0M393.1 274.4h0" stroke="#1ee614"/><path d="M394.5 285.7h0" stroke="#8f8f1c"/><path d="M427.4 271.0h0M426.9 277.9h0M431.2 288.0h0M418.7 274.4h0M427.7 288.5h0" stroke="#1ee614"/><path d="M423.3 284.4h0" stroke="#8f8f1c"/><path d="M420.8 293.3h0" stroke="#1ee614"/><path d="M413.8 288.1h0" stroke="#63b530"/><path d="M429.7 293.6h0M431.5 280.4h0" stroke="#1ee614"/><path d="M415.7 289.6h0" stroke="#63b530"/><path d="M419.3 293.6h0M422.2 291.7h0M429.4 278.8h0M413.8 300.7h0M429.2 286.7h0M417.0 278.6h0M431.9 288.8h0" stroke="#1ee614"/><path d="M417.7 287.3h0" stroke="#8f8f1c"/><path d="M424.5 277.8h0M419.3 297.0h0M417.8 276.4h0M432.3 273.1h0" stroke="#1ee614"/><path d="M422.5 281.6h0" stroke="#8f8f1c"/><path d="M427.7 304.2h0M415.0 279.5h0M424.7 278.6h0M413.6 299.1h0" stroke="#1ee614"/><path d="M419.3 286.1h0" stroke="#8f8f1c"/><path d="M432.4 281.8h0" stroke="#1ee614"/><path d="M413.9 295.0h0" stroke="#63b530"/><path d="M419.2 291.6h0M416.8 289.2h0M419.1 279.8h0M426.2 296.2h0M427.5 292.5h0M430.7 293.1h0M425.8 280.4h0" stroke="#1ee614"/><path d="M414.9 294.9h0" stroke="#63b530"/><path d="M422.8 301.6h0M425.1 280.2h0M415.5 271.7h0" stroke="#1ee614"/><path d="M415.9 289.3h0" stroke="#63b530"/><path d="M423.7 298.8h0" stroke="#8f8f1c"/><path d="M432.5 272.7h0M426.4 297.5h0M430.2 299.9h0M425.5 299.7h0M428.7 300.8h0M426.1 302.4h0M427.5 299.2h0M488.1 298.0h0M483.0 292.0h0" stroke="#1ee614"/><path d="M521.3 278.3h0" stroke="#63b530"/><path d="M514.8 275.9h0M512.4 299.4h0M518.9 272.9h0" stroke="#1ee614"/><path d="M455.1 289.4h0" stroke="#63b530"/><path d="M448.0 288.8h0" stroke="#8f8f1c"/><path d="M487.9 286.2h0M499.5 284.4h0M468.7 290.5h0M465.6 282.6h0M481.2 309.3h0M483.2 306.7h0M485.9 303.3h0M481.9 299.6h0M485.5 301.0h0M486.1 301.8h0M484.6 299.2h0M481.1 307.2h0M484.1 300.2h0M481.1 307.3h0M498.1 309.7h0M498.4 314.8h0M496.6 309.6h0M497.5 317.0h0M501.1 314.7h0M503.4 307.9h0M497.6 319.0h0M502.1 308.6h0M497.0 307.9h0M496.8 308.1h0M501.9 308.5h0M500.7 315.2h0M499.8 309.4h0M500.1 311.7h0M507.6 275.4h0M511.1 275.3h0M510.7 275.5h0M505.1 275.5h0M504.9 278.8h0M504.8 275.9h0M506.7 277.2h0M509.7 279.3h0M507.2 282.1h0M505.8 273.6h0M509.5 274.1h0M509.2 281.9h0" stroke="#1ee614"/><path d="M525.4 272.4h0" stroke="#63b530"/><path d="M525.4 265.1h0M527.1 270.0h0" stroke="#1ee614"/><path d="M524.4 276.9h0M526.5 277.3h0M520.8 281.6h0M526.8 279.4h0" stroke="#63b530"/><path d="M526.6 264.9h0M523.4 265.4h0M521.7 271.6h0" stroke="#1ee614"/><path d="M525.7 273.1h0M522.1 273.6h0M524.4 274.5h0" stroke="#63b530"/><path d="M526.9 265.0h0" stroke="#1ee614"/></g>
<line x1="38.0" y1="337.7" x2="42.5" y2="337.7" stroke="#6e6e6e" stroke-width="1"/>
<line x1="526.9" y1="337.7" x2="531.4" y2="337.7" stroke="#6e6e6e" stroke-width="1"/>
<line x1="38.0" y1="311.7" x2="42.5" y2="311.7" stroke="#6e6e6e" stroke-width="1"/>
<line x1="526.9" y1="311.7" x2="531.4" y2="311.7" stroke="#6e6e6e" stroke-width="1"/>
<line x1="38.0" y1="285.7" x2="42.5" y2="285.7" stroke="#6e6e6e" stroke-width="1"/>
<line x1="526.9" y1="285.7" x2="531.4" y2="285.7" stroke="#6e6e6e" stroke-width="1"/>
<line x1="38.0" y1="259.6" x2="42.5" y2="259.6" stroke="#6e6e6e" stroke-width="1"/>
<line x1="526.9" y1="259.6" x2="531.4" y2="259.6" stroke="#6e6e6e" stroke-width="1"/>
<line x1="38.0" y1="233.6" x2="42.5" y2="233.6" stroke="#6e6e6e" stroke-width="1"/>
<line x1="526.9" y1="233.6" x2="531.4" y2="233.6" stroke="#6e6e6e" stroke-width="1"/>
<line x1="38.0" y1="207.6" x2="42.5" y2="207.6" stroke="#6e6e6e" stroke-width="1"/>
<line x1="526.9" y1="207.6" x2="531.4" y2="207.6" stroke="#6e6e6e" stroke-width="1"/>
<line x1="38.0" y1="349.9" x2="38.0" y2="345.4" stroke="#6e6e6e" stroke-width="1"/>
<line x1="38.0" y1="207.6" x2="38.0" y2="212.1" stroke="#6e6e6e" stroke-width="1"/>
<line x1="161.3" y1="349.9" x2="161.3" y2="345.4" stroke="#6e6e6e" stroke-width="1"/>
<line x1="161.3" y1="207.6" x2="161.3" y2="212.1" stroke="#6e6e6e" stroke-width="1"/>
<line x1="284.7" y1="349.9" x2="284.7" y2="345.4" stroke="#6e6e6e" stroke-width="1"/>
<line x1="284.7" y1="207.6" x2="284.7" y2="212.1" stroke="#6e6e6e" stroke-width="1"/>
<line x1="408.0" y1="349.9" x2="408.0" y2="345.4" stroke="#6e6e6e" stroke-width="1"/>
<line x1="408.0" y1="207.6" x2="408.0" y2="212.1" stroke="#6e6e6e" stroke-width="1"/>
<line x1="531.4" y1="349.9" x2="531.4" y2="345.4" stroke="#6e6e6e" stroke-width="1"/>
<line x1="531.4" y1="207.6" x2="531.4" y2="212.1" stroke="#6e6e6e" stroke-width="1"/>
<rect x="38.0" y="207.6" width="493.4" height="142.3" fill="none" stroke="#6e6e6e" stroke-width="1"/>
<text x="34.3" y="341.7" text-anchor="end">0</text>
<text x="34.3" y="315.7" text-anchor="end">0.2</text>
<text x="34.3" y="289.7" text-anchor="end">0.4</text>
<text x="34.3" y="263.6" text-anchor="end">0.6</text>
<text x="34.3" y="237.6" text-anchor="end">0.8</text>
<text x="34.3" y="211.6" text-anchor="end">1</text>
<text x="38.0" y="365.4" text-anchor="middle">69.95</text>
<text x="161.3" y="365.4" text-anchor="middle">70</text>
<text x="284.7" y="365.4" text-anchor="middle">70.05</text>
<text x="408.0" y="365.4" text-anchor="middle">70.1</text>
<text x="531.4" y="365.4" text-anchor="middle">70.15</text>
<text x="284.7" y="381.2" text-anchor="middle" style="font-size:12.2px">Latitude</text>
<text transform="translate(14.1,279.7) rotate(-90)" text-anchor="middle" style="font-size:12.7px">Snow depth (m)</text>
<rect x="320.8" y="212.7" width="205.5" height="34.2" fill="#fff" stroke="#6e6e6e" stroke-width="1"/>
<circle cx="331.1" cy="219.7" r="2.1" fill="#1a0ad0"/>
<text x="341.4" y="222.8" style="font-size:8.65px">SnowEX @2023-03-10</text>
<circle cx="331.1" cy="230.0" r="2.1" fill="#8a4a12"/>
<text x="341.4" y="233.1" style="font-size:8.65px">ICESat2 @2023-03-05@Beam 3</text>
<circle cx="331.1" cy="240.2" r="2.1" fill="#66b832"/>
<text x="341.4" y="243.3" style="font-size:8.65px">ICESat2 snow on-off(2023-03-05,2019-09-11)</text>
</svg>
</body></html>
